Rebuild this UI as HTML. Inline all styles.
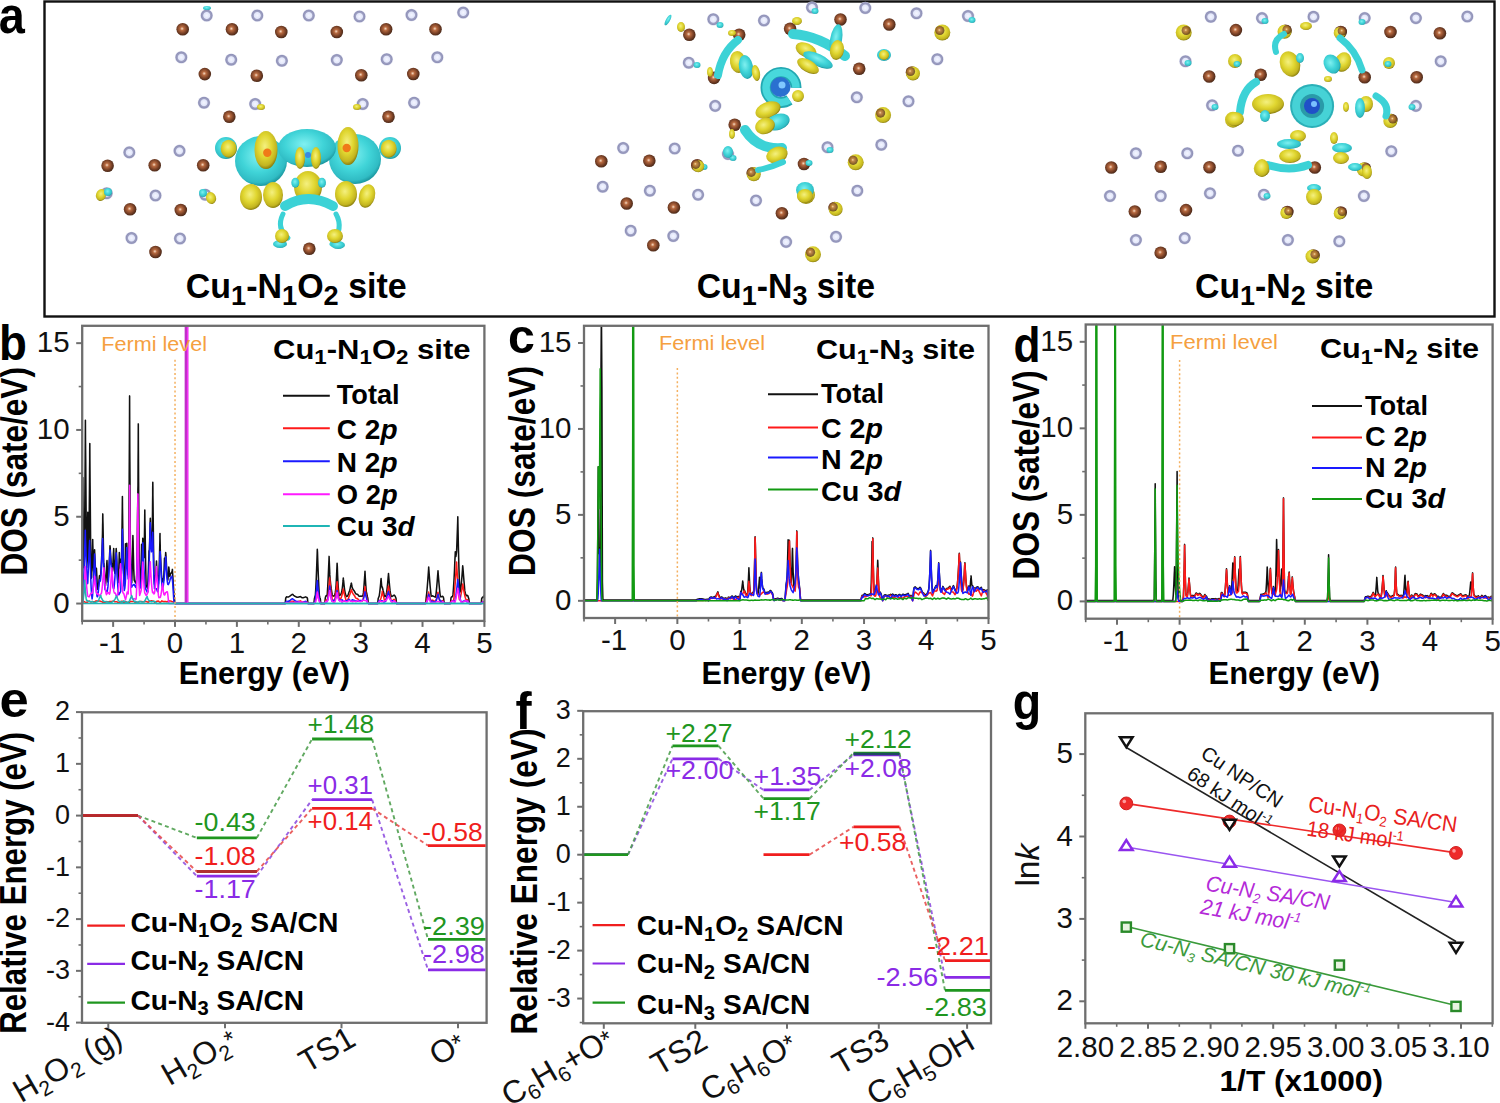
<!DOCTYPE html>
<html><head><meta charset="utf-8"><style>
html,body{margin:0;padding:0;background:#fff;}
svg{display:block;font-family:"Liberation Sans", sans-serif;}
</style></head><body>
<svg width="1500" height="1103" viewBox="0 0 1500 1103">
<rect width="1500" height="1103" fill="#fff"/>
<defs>
<radialGradient id="gBr" cx="0.45" cy="0.45" r="0.6">
 <stop offset="0" stop-color="#f8dcc4"/><stop offset="0.25" stop-color="#b86a40"/>
 <stop offset="0.7" stop-color="#6e3a22"/><stop offset="1" stop-color="#3e2416"/>
</radialGradient>
<radialGradient id="gN" cx="0.5" cy="0.5" r="0.5">
 <stop offset="0" stop-color="#f4f6ff"/><stop offset="0.48" stop-color="#e2e6fa"/>
 <stop offset="0.62" stop-color="#a0a2c4"/><stop offset="0.85" stop-color="#9092b8"/><stop offset="1" stop-color="#d0d2e6"/>
</radialGradient>
<radialGradient id="gY" cx="0.45" cy="0.4" r="0.6">
 <stop offset="0" stop-color="#f4f080"/><stop offset="0.5" stop-color="#e0d630"/>
 <stop offset="0.85" stop-color="#c2b420"/><stop offset="1" stop-color="#8c8010"/>
</radialGradient>
<radialGradient id="gC" cx="0.45" cy="0.4" r="0.6">
 <stop offset="0" stop-color="#80f0f0"/><stop offset="0.55" stop-color="#40d4d8"/>
 <stop offset="0.88" stop-color="#30bcc4"/><stop offset="1" stop-color="#1c98a0"/>
</radialGradient>
<radialGradient id="gCu" cx="0.5" cy="0.5" r="0.5">
 <stop offset="0" stop-color="#58a8ff"/><stop offset="0.35" stop-color="#1f5fd0"/>
 <stop offset="0.5" stop-color="#2a88c8"/><stop offset="0.62" stop-color="#36c8d0"/>
 <stop offset="0.85" stop-color="#3ed4d8"/><stop offset="1" stop-color="#28aab4"/>
</radialGradient>
</defs>
<rect x="44.5" y="1.5" width="1450" height="315" fill="none" stroke="#111" stroke-width="2.4"/>
<text x="0" y="0" font-size="51.09" font-weight="bold" fill="#000" transform="translate(-1.36 33.49) scale(0.918 1)">a</text>
<text x="185.80" y="297.50" font-size="35.5" fill="#000" font-weight="bold" textLength="220.90" lengthAdjust="spacingAndGlyphs" ><tspan>Cu</tspan><tspan font-size="28.40" dy="7.46">1</tspan><tspan dy="-7.46">-N</tspan><tspan font-size="28.40" dy="7.46">1</tspan><tspan dy="-7.46">O</tspan><tspan font-size="28.40" dy="7.46">2</tspan><tspan dy="-7.46"> site</tspan></text>
<text x="696.70" y="297.50" font-size="35.5" fill="#000" font-weight="bold" textLength="178.30" lengthAdjust="spacingAndGlyphs" ><tspan>Cu</tspan><tspan font-size="28.40" dy="7.46">1</tspan><tspan dy="-7.46">-N</tspan><tspan font-size="28.40" dy="7.46">3</tspan><tspan dy="-7.46"> site</tspan></text>
<text x="1195.00" y="297.50" font-size="35.5" fill="#000" font-weight="bold" textLength="178.30" lengthAdjust="spacingAndGlyphs" ><tspan>Cu</tspan><tspan font-size="28.40" dy="7.46">1</tspan><tspan dy="-7.46">-N</tspan><tspan font-size="28.40" dy="7.46">2</tspan><tspan dy="-7.46"> site</tspan></text>
<circle cx="206.7" cy="15.5" r="6.3" fill="url(#gN)"/>
<circle cx="257.3" cy="15.5" r="6.3" fill="url(#gN)"/>
<circle cx="308.8" cy="15.5" r="6.3" fill="url(#gN)"/>
<circle cx="359.5" cy="16.5" r="6.3" fill="url(#gN)"/>
<circle cx="411.5" cy="15.0" r="6.3" fill="url(#gN)"/>
<circle cx="463.2" cy="12.5" r="6.3" fill="url(#gN)"/>
<circle cx="181.3" cy="57.3" r="6.3" fill="url(#gN)"/>
<circle cx="231.2" cy="59.7" r="6.3" fill="url(#gN)"/>
<circle cx="281.9" cy="60.8" r="6.3" fill="url(#gN)"/>
<circle cx="336.8" cy="60.0" r="6.3" fill="url(#gN)"/>
<circle cx="386.7" cy="59.2" r="6.3" fill="url(#gN)"/>
<circle cx="437.3" cy="57.3" r="6.3" fill="url(#gN)"/>
<circle cx="204.0" cy="102.7" r="6.3" fill="url(#gN)"/>
<circle cx="255.2" cy="104.0" r="6.3" fill="url(#gN)"/>
<circle cx="362.7" cy="104.0" r="6.3" fill="url(#gN)"/>
<circle cx="414.1" cy="102.7" r="6.3" fill="url(#gN)"/>
<circle cx="129.3" cy="152.4" r="6.3" fill="url(#gN)"/>
<circle cx="179.5" cy="150.9" r="6.3" fill="url(#gN)"/>
<circle cx="106.7" cy="193.3" r="6.3" fill="url(#gN)"/>
<circle cx="155.5" cy="195.5" r="6.3" fill="url(#gN)"/>
<circle cx="205.3" cy="194.7" r="6.3" fill="url(#gN)"/>
<circle cx="131.5" cy="238.0" r="6.3" fill="url(#gN)"/>
<circle cx="180.0" cy="238.5" r="6.3" fill="url(#gN)"/>
<circle cx="182.7" cy="29.3" r="6.3" fill="url(#gBr)"/>
<circle cx="232.0" cy="29.3" r="6.3" fill="url(#gBr)"/>
<circle cx="281.3" cy="32.0" r="6.3" fill="url(#gBr)"/>
<circle cx="336.8" cy="32.0" r="6.3" fill="url(#gBr)"/>
<circle cx="386.1" cy="29.3" r="6.3" fill="url(#gBr)"/>
<circle cx="435.5" cy="29.3" r="6.3" fill="url(#gBr)"/>
<circle cx="204.8" cy="74.1" r="6.3" fill="url(#gBr)"/>
<circle cx="256.8" cy="75.7" r="6.3" fill="url(#gBr)"/>
<circle cx="361.3" cy="75.2" r="6.3" fill="url(#gBr)"/>
<circle cx="413.3" cy="74.0" r="6.3" fill="url(#gBr)"/>
<circle cx="229.3" cy="116.8" r="6.3" fill="url(#gBr)"/>
<circle cx="388.5" cy="116.8" r="6.3" fill="url(#gBr)"/>
<circle cx="107.6" cy="165.7" r="6.3" fill="url(#gBr)"/>
<circle cx="154.7" cy="165.3" r="6.3" fill="url(#gBr)"/>
<circle cx="203.2" cy="165.3" r="6.3" fill="url(#gBr)"/>
<circle cx="130.1" cy="209.3" r="6.3" fill="url(#gBr)"/>
<circle cx="180.8" cy="210.0" r="6.3" fill="url(#gBr)"/>
<circle cx="155.5" cy="252.0" r="6.3" fill="url(#gBr)"/>
<circle cx="309.3" cy="248.8" r="6.3" fill="url(#gBr)"/>
<ellipse cx="261.0" cy="107.0" rx="4" ry="3" fill="url(#gY)" opacity="1" transform="rotate(0 261.0 107.0)"/>
<ellipse cx="357.0" cy="107.0" rx="4" ry="3" fill="url(#gY)" opacity="1" transform="rotate(0 357.0 107.0)"/>
<ellipse cx="101.0" cy="195.0" rx="5" ry="6" fill="url(#gY)" opacity="1" transform="rotate(20 101.0 195.0)"/>
<ellipse cx="108.0" cy="192.0" rx="4" ry="4" fill="url(#gC)" opacity="1" transform="rotate(0 108.0 192.0)"/>
<ellipse cx="211.0" cy="198.0" rx="5" ry="6" fill="url(#gY)" opacity="1" transform="rotate(-20 211.0 198.0)"/>
<ellipse cx="203.0" cy="193.0" rx="4" ry="4" fill="url(#gC)" opacity="1" transform="rotate(0 203.0 193.0)"/>
<ellipse cx="207.0" cy="8.0" rx="4" ry="2" fill="url(#gC)" opacity="1" transform="rotate(0 207.0 8.0)"/>
<ellipse cx="226.0" cy="148.0" rx="11" ry="11" fill="url(#gC)" opacity="1" transform="rotate(0 226.0 148.0)"/>
<ellipse cx="390.0" cy="148.0" rx="11" ry="11" fill="url(#gC)" opacity="1" transform="rotate(0 390.0 148.0)"/>
<ellipse cx="261.0" cy="161.0" rx="26" ry="25" fill="url(#gC)" opacity="1" transform="rotate(0 261.0 161.0)"/>
<ellipse cx="355.0" cy="159.0" rx="26" ry="25" fill="url(#gC)" opacity="1" transform="rotate(0 355.0 159.0)"/>
<ellipse cx="307.0" cy="148.0" rx="29" ry="19" fill="url(#gC)" opacity="1" transform="rotate(0 307.0 148.0)"/>
<ellipse cx="228.7" cy="148.7" rx="8" ry="9" fill="url(#gY)" opacity="1" transform="rotate(0 228.7 148.7)"/>
<ellipse cx="388.7" cy="148.7" rx="8" ry="9" fill="url(#gY)" opacity="1" transform="rotate(0 388.7 148.7)"/>
<ellipse cx="266.0" cy="150.0" rx="11.5" ry="19" fill="url(#gY)" opacity="1" transform="rotate(0 266.0 150.0)"/>
<ellipse cx="348.0" cy="146.0" rx="10.5" ry="19" fill="url(#gY)" opacity="1" transform="rotate(0 348.0 146.0)"/>
<circle cx="267.3" cy="152.7" r="4.2" fill="#f07a18"/>
<circle cx="346.7" cy="148" r="4.2" fill="#f07a18"/>
<ellipse cx="251.0" cy="197.0" rx="11" ry="13" fill="url(#gY)" opacity="1" transform="rotate(0 251.0 197.0)"/>
<ellipse cx="273.0" cy="195.0" rx="10" ry="13" fill="url(#gY)" opacity="1" transform="rotate(0 273.0 195.0)"/>
<ellipse cx="346.0" cy="194.0" rx="11" ry="13" fill="url(#gY)" opacity="1" transform="rotate(0 346.0 194.0)"/>
<ellipse cx="367.0" cy="196.0" rx="8" ry="12" fill="url(#gY)" opacity="1" transform="rotate(15 367.0 196.0)"/>
<ellipse cx="308.0" cy="187.0" rx="14" ry="16" fill="url(#gY)" opacity="1" transform="rotate(0 308.0 187.0)"/>
<ellipse cx="300.0" cy="158.0" rx="5" ry="11" fill="url(#gY)" opacity="1" transform="rotate(0 300.0 158.0)"/>
<ellipse cx="316.0" cy="158.0" rx="5" ry="11" fill="url(#gY)" opacity="1" transform="rotate(0 316.0 158.0)"/>
<circle cx="308" cy="155" r="3" fill="#3a8ae0"/>
<ellipse cx="295.3" cy="182.7" rx="4" ry="5" fill="url(#gC)" opacity="1" transform="rotate(0 295.3 182.7)"/>
<ellipse cx="322.0" cy="182.7" rx="4" ry="5" fill="url(#gC)" opacity="1" transform="rotate(0 322.0 182.7)"/>
<path d="M 285 206 Q 308 192 333 206" fill="none" stroke="#3cd2d6" stroke-width="10" stroke-linecap="round"/>
<path d="M 283 214 Q 276 228 288 238" fill="none" stroke="#3cd2d6" stroke-width="5" stroke-linecap="round"/>
<path d="M 336 214 Q 344 228 332 244" fill="none" stroke="#3cd2d6" stroke-width="5" stroke-linecap="round"/>
<ellipse cx="280.0" cy="244.0" rx="7" ry="4" fill="url(#gC)" opacity="1" transform="rotate(0 280.0 244.0)"/>
<ellipse cx="338.0" cy="245.0" rx="7" ry="4" fill="url(#gC)" opacity="1" transform="rotate(0 338.0 245.0)"/>
<ellipse cx="282.0" cy="236.0" rx="7" ry="7" fill="url(#gY)" opacity="1" transform="rotate(0 282.0 236.0)"/>
<ellipse cx="335.0" cy="236.0" rx="8" ry="7" fill="url(#gY)" opacity="1" transform="rotate(0 335.0 236.0)"/>
<circle cx="812.0" cy="7.5" r="6.3" fill="url(#gN)"/>
<circle cx="865.3" cy="8.0" r="6.3" fill="url(#gN)"/>
<circle cx="916.5" cy="13.3" r="6.3" fill="url(#gN)"/>
<circle cx="968.0" cy="16.0" r="6.3" fill="url(#gN)"/>
<circle cx="713.3" cy="19.2" r="6.3" fill="url(#gN)"/>
<circle cx="764.0" cy="20.5" r="6.3" fill="url(#gN)"/>
<circle cx="688.8" cy="62.7" r="6.3" fill="url(#gN)"/>
<circle cx="937.3" cy="59.2" r="6.3" fill="url(#gN)"/>
<circle cx="715.2" cy="105.9" r="6.3" fill="url(#gN)"/>
<circle cx="856.8" cy="97.3" r="6.3" fill="url(#gN)"/>
<circle cx="908.5" cy="101.3" r="6.3" fill="url(#gN)"/>
<circle cx="623.2" cy="148.0" r="6.3" fill="url(#gN)"/>
<circle cx="674.7" cy="148.5" r="6.3" fill="url(#gN)"/>
<circle cx="728.0" cy="154.0" r="6.3" fill="url(#gN)"/>
<circle cx="827.5" cy="147.2" r="6.3" fill="url(#gN)"/>
<circle cx="881.3" cy="144.8" r="6.3" fill="url(#gN)"/>
<circle cx="602.7" cy="186.7" r="6.3" fill="url(#gN)"/>
<circle cx="649.9" cy="190.7" r="6.3" fill="url(#gN)"/>
<circle cx="698.1" cy="194.7" r="6.3" fill="url(#gN)"/>
<circle cx="756.0" cy="200.5" r="6.3" fill="url(#gN)"/>
<circle cx="857.3" cy="190.7" r="6.3" fill="url(#gN)"/>
<circle cx="630.7" cy="230.7" r="6.3" fill="url(#gN)"/>
<circle cx="673.3" cy="236.0" r="6.3" fill="url(#gN)"/>
<circle cx="786.1" cy="241.9" r="6.3" fill="url(#gN)"/>
<circle cx="836.0" cy="236.8" r="6.3" fill="url(#gN)"/>
<circle cx="689.3" cy="34.7" r="6.3" fill="url(#gBr)"/>
<circle cx="739.2" cy="34.7" r="6.3" fill="url(#gBr)"/>
<circle cx="790.1" cy="28.8" r="6.3" fill="url(#gBr)"/>
<circle cx="840.5" cy="19.5" r="6.3" fill="url(#gBr)"/>
<circle cx="889.3" cy="24.5" r="6.3" fill="url(#gBr)"/>
<circle cx="941.3" cy="31.5" r="6.3" fill="url(#gBr)"/>
<circle cx="714.1" cy="77.9" r="6.3" fill="url(#gBr)"/>
<circle cx="859.2" cy="68.8" r="6.3" fill="url(#gBr)"/>
<circle cx="912.0" cy="72.5" r="6.3" fill="url(#gBr)"/>
<circle cx="734.7" cy="124.8" r="6.3" fill="url(#gBr)"/>
<circle cx="882.1" cy="114.1" r="6.3" fill="url(#gBr)"/>
<circle cx="601.3" cy="161.3" r="6.3" fill="url(#gBr)"/>
<circle cx="649.3" cy="160.8" r="6.3" fill="url(#gBr)"/>
<circle cx="697.3" cy="165.3" r="6.3" fill="url(#gBr)"/>
<circle cx="752.8" cy="173.3" r="6.3" fill="url(#gBr)"/>
<circle cx="804.0" cy="164.0" r="6.3" fill="url(#gBr)"/>
<circle cx="854.7" cy="161.3" r="6.3" fill="url(#gBr)"/>
<circle cx="626.7" cy="203.5" r="6.3" fill="url(#gBr)"/>
<circle cx="673.9" cy="207.5" r="6.3" fill="url(#gBr)"/>
<circle cx="781.9" cy="213.3" r="6.3" fill="url(#gBr)"/>
<circle cx="834.7" cy="208.0" r="6.3" fill="url(#gBr)"/>
<circle cx="653.3" cy="245.3" r="6.3" fill="url(#gBr)"/>
<circle cx="812.0" cy="253.3" r="6.3" fill="url(#gBr)"/>
<ellipse cx="815.0" cy="11.0" rx="3.5" ry="3" fill="url(#gC)" opacity="1" transform="rotate(0 815.0 11.0)"/>
<ellipse cx="720.0" cy="25.0" rx="3.5" ry="3" fill="url(#gC)" opacity="1" transform="rotate(0 720.0 25.0)"/>
<ellipse cx="697.0" cy="65.0" rx="3.5" ry="3" fill="url(#gC)" opacity="1" transform="rotate(0 697.0 65.0)"/>
<ellipse cx="972.0" cy="20.0" rx="3.5" ry="3" fill="url(#gC)" opacity="1" transform="rotate(0 972.0 20.0)"/>
<ellipse cx="830.0" cy="150.0" rx="3.5" ry="3" fill="url(#gC)" opacity="1" transform="rotate(0 830.0 150.0)"/>
<ellipse cx="733.0" cy="158.0" rx="3.5" ry="3" fill="url(#gC)" opacity="1" transform="rotate(0 733.0 158.0)"/>
<ellipse cx="704.0" cy="167.0" rx="3.5" ry="3" fill="url(#gC)" opacity="1" transform="rotate(0 704.0 167.0)"/>
<ellipse cx="809.0" cy="163.0" rx="3.5" ry="3" fill="url(#gC)" opacity="1" transform="rotate(0 809.0 163.0)"/>
<ellipse cx="858.0" cy="159.0" rx="3.5" ry="3" fill="url(#gC)" opacity="1" transform="rotate(0 858.0 159.0)"/>
<ellipse cx="942.3" cy="32.5" rx="8" ry="8" fill="url(#gY)" opacity="1" transform="rotate(0 942.3 32.5)"/>
<circle cx="939.8" cy="30.5" r="4.6" fill="url(#gBr)" opacity="0.75"/>
<ellipse cx="913.0" cy="73.5" rx="7" ry="7" fill="url(#gY)" opacity="1" transform="rotate(0 913.0 73.5)"/>
<circle cx="910.5" cy="71.5" r="4.6" fill="url(#gBr)" opacity="0.75"/>
<ellipse cx="883.1" cy="115.1" rx="8" ry="8" fill="url(#gY)" opacity="1" transform="rotate(0 883.1 115.1)"/>
<circle cx="880.6" cy="113.1" r="4.6" fill="url(#gBr)" opacity="0.75"/>
<ellipse cx="698.3" cy="166.3" rx="6" ry="6" fill="url(#gY)" opacity="1" transform="rotate(0 698.3 166.3)"/>
<circle cx="695.8" cy="164.3" r="4.6" fill="url(#gBr)" opacity="0.75"/>
<ellipse cx="753.8" cy="174.3" rx="7" ry="7" fill="url(#gY)" opacity="1" transform="rotate(0 753.8 174.3)"/>
<circle cx="751.3" cy="172.3" r="4.6" fill="url(#gBr)" opacity="0.75"/>
<ellipse cx="855.7" cy="162.3" rx="8" ry="8" fill="url(#gY)" opacity="1" transform="rotate(0 855.7 162.3)"/>
<circle cx="853.2" cy="160.3" r="4.6" fill="url(#gBr)" opacity="0.75"/>
<ellipse cx="835.7" cy="209.0" rx="7" ry="7" fill="url(#gY)" opacity="1" transform="rotate(0 835.7 209.0)"/>
<circle cx="833.2" cy="207.0" r="4.6" fill="url(#gBr)" opacity="0.75"/>
<ellipse cx="813.0" cy="254.3" rx="8" ry="8" fill="url(#gY)" opacity="1" transform="rotate(0 813.0 254.3)"/>
<circle cx="810.5" cy="252.3" r="4.6" fill="url(#gBr)" opacity="0.75"/>
<ellipse cx="806.0" cy="195.0" rx="9" ry="9" fill="url(#gY)" opacity="1" transform="rotate(0 806.0 195.0)"/>
<circle cx="803.5" cy="193.0" r="4.6" fill="url(#gBr)" opacity="0.75"/>
<ellipse cx="884.0" cy="55.0" rx="7" ry="6" fill="url(#gC)" opacity="1" transform="rotate(0 884.0 55.0)"/>
<ellipse cx="884.0" cy="55.0" rx="5" ry="5" fill="url(#gY)" opacity="1" transform="rotate(0 884.0 55.0)"/>
<ellipse cx="805.0" cy="190.0" rx="9" ry="8" fill="url(#gC)" opacity="1" transform="rotate(0 805.0 190.0)"/>
<ellipse cx="805.0" cy="196.0" rx="8" ry="7" fill="url(#gY)" opacity="1" transform="rotate(0 805.0 196.0)"/>
<ellipse cx="681.0" cy="27.0" rx="4" ry="5" fill="url(#gY)" opacity="1" transform="rotate(0 681.0 27.0)"/>
<ellipse cx="732.0" cy="33.0" rx="4" ry="3" fill="url(#gY)" opacity="1" transform="rotate(0 732.0 33.0)"/>
<ellipse cx="797.0" cy="21.0" rx="5" ry="4" fill="url(#gY)" opacity="1" transform="rotate(0 797.0 21.0)"/>
<ellipse cx="710.0" cy="72.0" rx="3" ry="5" fill="url(#gY)" opacity="1" transform="rotate(0 710.0 72.0)"/>
<ellipse cx="668.0" cy="20.0" rx="2" ry="6" fill="url(#gC)" opacity="1" transform="rotate(30 668.0 20.0)"/>
<circle cx="781" cy="87.5" r="15" fill="none" stroke="#22a8b2" stroke-width="11" stroke-dasharray="80 14.2" stroke-dashoffset="-14.5"/>
<circle cx="781" cy="87.5" r="15" fill="none" stroke="#48d8dc" stroke-width="7.5" stroke-dasharray="80 14.2" stroke-dashoffset="-14.5"/>
<circle cx="780.5" cy="87" r="10" fill="#2a70d0"/>
<circle cx="782" cy="85" r="3.5" fill="#80c8ff"/>
<path d="M 793 34 Q 820 36 845 56" fill="none" stroke="#3cd2d6" stroke-width="10" stroke-linecap="round"/>
<ellipse cx="806.0" cy="50.0" rx="11" ry="7" fill="url(#gY)" opacity="1" transform="rotate(25 806.0 50.0)"/>
<ellipse cx="818.0" cy="60.0" rx="16" ry="6" fill="url(#gC)" opacity="1" transform="rotate(25 818.0 60.0)"/>
<ellipse cx="808.0" cy="66.0" rx="12" ry="6" fill="url(#gY)" opacity="1" transform="rotate(30 808.0 66.0)"/>
<path d="M 718 75 Q 722 52 738 40" fill="none" stroke="#3cd2d6" stroke-width="8" stroke-linecap="round"/>
<ellipse cx="738.0" cy="62.0" rx="8" ry="11" fill="url(#gY)" opacity="1" transform="rotate(-10 738.0 62.0)"/>
<ellipse cx="746.0" cy="67.0" rx="7" ry="12" fill="url(#gC)" opacity="1" transform="rotate(-10 746.0 67.0)"/>
<ellipse cx="756.0" cy="73.0" rx="4" ry="8" fill="url(#gY)" opacity="1" transform="rotate(-10 756.0 73.0)"/>
<ellipse cx="836.0" cy="40.0" rx="6" ry="16" fill="url(#gC)" opacity="1" transform="rotate(10 836.0 40.0)"/>
<ellipse cx="837.0" cy="50.0" rx="7" ry="10" fill="url(#gY)" opacity="1" transform="rotate(10 837.0 50.0)"/>
<ellipse cx="798.0" cy="96.0" rx="6" ry="6" fill="url(#gY)" opacity="1" transform="rotate(0 798.0 96.0)"/>
<ellipse cx="768.0" cy="110.0" rx="13" ry="8" fill="url(#gY)" opacity="1" transform="rotate(-20 768.0 110.0)"/>
<ellipse cx="778.0" cy="122.0" rx="12" ry="8" fill="url(#gC)" opacity="1" transform="rotate(-20 778.0 122.0)"/>
<ellipse cx="765.0" cy="126.0" rx="10" ry="8" fill="url(#gY)" opacity="1" transform="rotate(-20 765.0 126.0)"/>
<path d="M 745 130 Q 758 150 782 148" fill="none" stroke="#3cd2d6" stroke-width="10" stroke-linecap="round"/>
<ellipse cx="777.0" cy="155.0" rx="11" ry="8" fill="url(#gY)" opacity="1" transform="rotate(-20 777.0 155.0)"/>
<path d="M 758 170 Q 770 168 783 162" fill="none" stroke="#3cd2d6" stroke-width="6" stroke-linecap="round"/>
<ellipse cx="732.0" cy="134.0" rx="3" ry="5" fill="url(#gY)" opacity="1" transform="rotate(0 732.0 134.0)"/>
<ellipse cx="728.0" cy="152.0" rx="5" ry="6" fill="url(#gC)" opacity="1" transform="rotate(0 728.0 152.0)"/>
<circle cx="1210.8" cy="16.8" r="6.3" fill="url(#gN)"/>
<circle cx="1262.0" cy="18.1" r="6.3" fill="url(#gN)"/>
<circle cx="1313.5" cy="16.8" r="6.3" fill="url(#gN)"/>
<circle cx="1364.7" cy="18.1" r="6.3" fill="url(#gN)"/>
<circle cx="1415.9" cy="18.1" r="6.3" fill="url(#gN)"/>
<circle cx="1467.3" cy="16.5" r="6.3" fill="url(#gN)"/>
<circle cx="1185.5" cy="61.3" r="6.3" fill="url(#gN)"/>
<circle cx="1440.7" cy="61.3" r="6.3" fill="url(#gN)"/>
<circle cx="1212.1" cy="105.3" r="6.3" fill="url(#gN)"/>
<circle cx="1415.9" cy="105.9" r="6.3" fill="url(#gN)"/>
<circle cx="1135.9" cy="153.3" r="6.3" fill="url(#gN)"/>
<circle cx="1187.3" cy="153.3" r="6.3" fill="url(#gN)"/>
<circle cx="1238.0" cy="150.7" r="6.3" fill="url(#gN)"/>
<circle cx="1391.3" cy="151.2" r="6.3" fill="url(#gN)"/>
<circle cx="1110.0" cy="196.0" r="6.3" fill="url(#gN)"/>
<circle cx="1160.7" cy="196.0" r="6.3" fill="url(#gN)"/>
<circle cx="1210.0" cy="193.3" r="6.3" fill="url(#gN)"/>
<circle cx="1263.9" cy="194.7" r="6.3" fill="url(#gN)"/>
<circle cx="1363.9" cy="196.0" r="6.3" fill="url(#gN)"/>
<circle cx="1135.9" cy="240.0" r="6.3" fill="url(#gN)"/>
<circle cx="1184.7" cy="238.1" r="6.3" fill="url(#gN)"/>
<circle cx="1287.9" cy="240.0" r="6.3" fill="url(#gN)"/>
<circle cx="1339.3" cy="241.3" r="6.3" fill="url(#gN)"/>
<circle cx="1235.9" cy="30.1" r="6.3" fill="url(#gBr)"/>
<circle cx="1285.5" cy="30.7" r="6.3" fill="url(#gBr)"/>
<circle cx="1340.7" cy="32.0" r="6.3" fill="url(#gBr)"/>
<circle cx="1390.5" cy="32.0" r="6.3" fill="url(#gBr)"/>
<circle cx="1439.9" cy="33.3" r="6.3" fill="url(#gBr)"/>
<circle cx="1209.2" cy="76.5" r="6.3" fill="url(#gBr)"/>
<circle cx="1260.7" cy="74.7" r="6.3" fill="url(#gBr)"/>
<circle cx="1364.7" cy="77.3" r="6.3" fill="url(#gBr)"/>
<circle cx="1416.7" cy="77.3" r="6.3" fill="url(#gBr)"/>
<circle cx="1234.0" cy="118.7" r="6.3" fill="url(#gBr)"/>
<circle cx="1391.3" cy="120.0" r="6.3" fill="url(#gBr)"/>
<circle cx="1111.3" cy="167.5" r="6.3" fill="url(#gBr)"/>
<circle cx="1160.7" cy="166.7" r="6.3" fill="url(#gBr)"/>
<circle cx="1209.5" cy="167.2" r="6.3" fill="url(#gBr)"/>
<circle cx="1262.8" cy="167.5" r="6.3" fill="url(#gBr)"/>
<circle cx="1314.8" cy="167.5" r="6.3" fill="url(#gBr)"/>
<circle cx="1364.7" cy="168.5" r="6.3" fill="url(#gBr)"/>
<circle cx="1134.8" cy="211.5" r="6.3" fill="url(#gBr)"/>
<circle cx="1186.0" cy="210.1" r="6.3" fill="url(#gBr)"/>
<circle cx="1287.3" cy="212.0" r="6.3" fill="url(#gBr)"/>
<circle cx="1340.7" cy="212.5" r="6.3" fill="url(#gBr)"/>
<circle cx="1160.7" cy="252.8" r="6.3" fill="url(#gBr)"/>
<circle cx="1313.5" cy="255.5" r="6.3" fill="url(#gBr)"/>
<ellipse cx="1183.7" cy="32.5" rx="8" ry="8" fill="url(#gY)" opacity="1" transform="rotate(0 1183.7 32.5)"/>
<circle cx="1186.2" cy="30.5" r="4.6" fill="url(#gBr)" opacity="0.75"/>
<ellipse cx="1284.5" cy="31.7" rx="7" ry="7" fill="url(#gY)" opacity="1" transform="rotate(0 1284.5 31.7)"/>
<circle cx="1287.0" cy="29.7" r="4.6" fill="url(#gBr)" opacity="0.75"/>
<ellipse cx="1339.7" cy="33.0" rx="6" ry="6" fill="url(#gY)" opacity="1" transform="rotate(0 1339.7 33.0)"/>
<circle cx="1342.2" cy="31.0" r="4.6" fill="url(#gBr)" opacity="0.75"/>
<ellipse cx="1233.0" cy="119.7" rx="8" ry="8" fill="url(#gY)" opacity="1" transform="rotate(0 1233.0 119.7)"/>
<circle cx="1235.5" cy="117.7" r="4.6" fill="url(#gBr)" opacity="0.75"/>
<ellipse cx="1390.3" cy="121.0" rx="7" ry="7" fill="url(#gY)" opacity="1" transform="rotate(0 1390.3 121.0)"/>
<circle cx="1392.8" cy="119.0" r="4.6" fill="url(#gBr)" opacity="0.75"/>
<ellipse cx="1261.8" cy="168.5" rx="8" ry="8" fill="url(#gY)" opacity="1" transform="rotate(0 1261.8 168.5)"/>
<circle cx="1264.3" cy="166.5" r="4.6" fill="url(#gBr)" opacity="0.75"/>
<ellipse cx="1363.7" cy="169.5" rx="7" ry="7" fill="url(#gY)" opacity="1" transform="rotate(0 1363.7 169.5)"/>
<circle cx="1366.2" cy="167.5" r="4.6" fill="url(#gBr)" opacity="0.75"/>
<ellipse cx="1286.3" cy="213.0" rx="6" ry="6" fill="url(#gY)" opacity="1" transform="rotate(0 1286.3 213.0)"/>
<circle cx="1288.8" cy="211.0" r="4.6" fill="url(#gBr)" opacity="0.75"/>
<ellipse cx="1339.7" cy="213.5" rx="6" ry="6" fill="url(#gY)" opacity="1" transform="rotate(0 1339.7 213.5)"/>
<circle cx="1342.2" cy="211.5" r="4.6" fill="url(#gBr)" opacity="0.75"/>
<ellipse cx="1312.5" cy="256.5" rx="7" ry="7" fill="url(#gY)" opacity="1" transform="rotate(0 1312.5 256.5)"/>
<circle cx="1315.0" cy="254.5" r="4.6" fill="url(#gBr)" opacity="0.75"/>
<ellipse cx="1235.0" cy="61.0" rx="7" ry="7" fill="url(#gY)" opacity="1" transform="rotate(0 1235.0 61.0)"/>
<ellipse cx="1389.0" cy="63.0" rx="6" ry="6" fill="url(#gY)" opacity="1" transform="rotate(0 1389.0 63.0)"/>
<ellipse cx="1265.0" cy="21.0" rx="3.5" ry="3" fill="url(#gC)" opacity="1" transform="rotate(0 1265.0 21.0)"/>
<ellipse cx="1362.0" cy="22.0" rx="3.5" ry="3" fill="url(#gC)" opacity="1" transform="rotate(0 1362.0 22.0)"/>
<ellipse cx="1188.0" cy="63.0" rx="3.5" ry="3" fill="url(#gC)" opacity="1" transform="rotate(0 1188.0 63.0)"/>
<ellipse cx="1215.0" cy="107.0" rx="3.5" ry="3" fill="url(#gC)" opacity="1" transform="rotate(0 1215.0 107.0)"/>
<ellipse cx="1412.0" cy="107.0" rx="3.5" ry="3" fill="url(#gC)" opacity="1" transform="rotate(0 1412.0 107.0)"/>
<ellipse cx="1267.0" cy="196.0" rx="3.5" ry="3" fill="url(#gC)" opacity="1" transform="rotate(0 1267.0 196.0)"/>
<ellipse cx="1237.0" cy="64.0" rx="3.5" ry="3" fill="url(#gC)" opacity="1" transform="rotate(0 1237.0 64.0)"/>
<ellipse cx="1388.0" cy="64.0" rx="3.5" ry="3" fill="url(#gC)" opacity="1" transform="rotate(0 1388.0 64.0)"/>
<circle cx="1312.1" cy="105.9" r="22" fill="#2bb0b8"/>
<circle cx="1312.1" cy="105.9" r="20" fill="#46d2d6"/>
<circle cx="1312.1" cy="105.9" r="12" fill="#2a9aa8"/>
<circle cx="1312" cy="106" r="8" fill="#2050c8"/>
<circle cx="1314" cy="104" r="3" fill="#7ac0ff"/>
<path d="M 1276 52 Q 1272 40 1284 34" fill="none" stroke="#3cd2d6" stroke-width="6" stroke-linecap="round"/>
<ellipse cx="1290.0" cy="64.0" rx="10" ry="13" fill="url(#gY)" opacity="1" transform="rotate(-20 1290.0 64.0)"/>
<ellipse cx="1300.0" cy="58.0" rx="4" ry="5" fill="url(#gC)" opacity="1" transform="rotate(0 1300.0 58.0)"/>
<path d="M 1340 38 Q 1356 50 1362 70" fill="none" stroke="#3cd2d6" stroke-width="7" stroke-linecap="round"/>
<ellipse cx="1343.0" cy="62.0" rx="8" ry="10" fill="url(#gY)" opacity="1" transform="rotate(20 1343.0 62.0)"/>
<ellipse cx="1332.0" cy="64.0" rx="8" ry="10" fill="url(#gC)" opacity="1" transform="rotate(-30 1332.0 64.0)"/>
<ellipse cx="1328.0" cy="79.0" rx="4" ry="3" fill="url(#gY)" opacity="1" transform="rotate(0 1328.0 79.0)"/>
<path d="M 1240 112 Q 1242 90 1256 82" fill="none" stroke="#3cd2d6" stroke-width="8" stroke-linecap="round"/>
<ellipse cx="1268.0" cy="104.0" rx="16" ry="10" fill="url(#gY)" opacity="1" transform="rotate(0 1268.0 104.0)"/>
<ellipse cx="1265.0" cy="116.0" rx="5" ry="6" fill="url(#gC)" opacity="1" transform="rotate(0 1265.0 116.0)"/>
<ellipse cx="1235.0" cy="119.0" rx="9" ry="7" fill="url(#gY)" opacity="1" transform="rotate(0 1235.0 119.0)"/>
<ellipse cx="1346.0" cy="107.0" rx="3" ry="5" fill="url(#gY)" opacity="1" transform="rotate(0 1346.0 107.0)"/>
<ellipse cx="1366.0" cy="104.0" rx="7" ry="8" fill="url(#gY)" opacity="1" transform="rotate(0 1366.0 104.0)"/>
<ellipse cx="1360.0" cy="108.0" rx="5" ry="10" fill="url(#gC)" opacity="1" transform="rotate(0 1360.0 108.0)"/>
<path d="M 1376 96 Q 1390 104 1386 116" fill="none" stroke="#3cd2d6" stroke-width="7" stroke-linecap="round"/>
<ellipse cx="1298.0" cy="136.0" rx="8" ry="6" fill="url(#gY)" opacity="1" transform="rotate(0 1298.0 136.0)"/>
<ellipse cx="1289.0" cy="144.0" rx="12" ry="5" fill="url(#gC)" opacity="1" transform="rotate(0 1289.0 144.0)"/>
<ellipse cx="1290.0" cy="156.0" rx="11" ry="7" fill="url(#gY)" opacity="1" transform="rotate(0 1290.0 156.0)"/>
<path d="M 1268 165 Q 1290 172 1308 165" fill="none" stroke="#3cd2d6" stroke-width="8" stroke-linecap="round"/>
<ellipse cx="1262.0" cy="168.0" rx="7" ry="9" fill="url(#gY)" opacity="1" transform="rotate(0 1262.0 168.0)"/>
<ellipse cx="1334.0" cy="138.0" rx="4" ry="6" fill="url(#gY)" opacity="1" transform="rotate(0 1334.0 138.0)"/>
<ellipse cx="1342.0" cy="148.0" rx="10" ry="5" fill="url(#gC)" opacity="1" transform="rotate(0 1342.0 148.0)"/>
<ellipse cx="1341.0" cy="158.0" rx="8" ry="6" fill="url(#gY)" opacity="1" transform="rotate(0 1341.0 158.0)"/>
<ellipse cx="1355.0" cy="167.0" rx="7" ry="4" fill="url(#gC)" opacity="1" transform="rotate(0 1355.0 167.0)"/>
<ellipse cx="1367.0" cy="172.0" rx="5" ry="7" fill="url(#gY)" opacity="1" transform="rotate(0 1367.0 172.0)"/>
<ellipse cx="1314.0" cy="188.0" rx="7" ry="4" fill="url(#gC)" opacity="1" transform="rotate(0 1314.0 188.0)"/>
<ellipse cx="1314.0" cy="197.0" rx="8" ry="8" fill="url(#gY)" opacity="1" transform="rotate(0 1314.0 197.0)"/>
<ellipse cx="1306.0" cy="26.0" rx="6" ry="4" fill="url(#gY)" opacity="1" transform="rotate(0 1306.0 26.0)"/>
<polyline points="82.2,560.6 82.7,496.5 82.8,477.5 82.9,493.8 83.2,522.8 83.7,567.7 84.2,560.2 84.6,537.6 84.7,523.8 84.8,509.0 85.2,458.4 85.3,439.8 85.4,420.3 85.5,440.0 85.7,458.8 86.2,525.2 86.7,567.5 87.2,561.3 87.6,523.3 87.8,512.2 87.9,523.9 88.1,545.6 88.6,559.5 89.1,531.5 89.5,486.6 89.6,469.9 89.7,461.3 89.7,452.5 89.8,443.6 89.9,460.9 90.1,485.5 90.6,541.7 91.1,578.5 91.6,577.3 92.1,562.2 92.6,543.9 92.7,539.5 92.8,544.6 93.1,554.2 93.6,571.3 94.1,560.9 94.5,552.2 94.6,549.7 94.7,552.8 95.1,561.8 95.6,572.7 96.1,574.7 96.3,570.5 96.4,568.3 96.6,571.2 97.1,581.8 97.5,589.1 98.0,589.1 98.5,585.4 99.0,580.5 99.5,575.7 100.0,577.3 100.5,575.8 100.6,574.6 100.8,573.1 100.9,571.5 101.0,569.7 101.5,560.9 102.0,550.2 102.5,533.1 102.6,525.6 102.7,521.8 102.7,517.9 102.8,513.9 102.9,520.4 103.0,523.6 103.5,551.4 103.7,563.5 103.9,563.4 104.0,565.6 104.5,573.7 105.0,580.4 105.5,585.4 106.0,580.1 106.5,569.6 106.8,563.0 107.0,560.5 107.1,563.6 107.4,572.1 107.9,582.0 108.4,576.4 108.9,568.0 109.4,558.7 109.9,548.5 110.0,545.8 110.2,547.7 110.4,551.6 110.9,558.6 111.4,564.7 111.8,565.0 111.9,563.6 112.0,565.5 112.4,571.1 112.9,563.8 113.4,553.2 113.6,550.5 113.7,548.6 113.8,552.6 113.9,554.6 114.4,569.7 114.9,573.4 115.4,565.5 115.9,556.3 116.1,551.3 116.2,548.6 116.4,551.6 116.9,562.9 117.3,573.0 117.8,581.6 118.3,582.5 118.8,569.4 119.2,557.0 119.3,552.6 119.4,556.7 119.8,568.0 120.3,563.3 120.4,561.4 120.6,559.4 120.7,561.5 120.8,563.6 121.3,570.7 121.8,545.3 122.3,506.8 122.4,496.6 122.5,508.4 122.8,530.7 123.3,561.2 123.8,576.1 124.3,586.0 124.8,577.7 125.3,556.2 125.4,550.0 125.5,543.7 125.6,549.3 125.8,554.6 126.3,556.9 126.6,546.8 126.8,543.3 126.9,546.4 127.2,555.3 127.7,567.1 128.2,574.7 128.7,560.8 129.2,478.0 129.5,424.8 129.6,395.9 129.7,425.2 129.8,453.0 130.0,479.1 130.2,525.9 130.7,564.9 131.2,576.8 131.6,582.2 131.7,582.8 131.8,581.2 132.2,568.2 132.7,547.3 132.8,541.6 132.9,535.6 133.1,541.6 133.2,547.4 133.7,568.3 134.2,580.2 134.7,581.1 135.2,582.1 135.7,583.0 136.2,582.5 136.7,573.7 137.1,552.2 137.6,511.1 137.8,500.6 137.9,489.6 138.0,485.6 138.1,462.0 138.2,449.6 138.3,423.9 138.4,448.0 138.6,481.5 139.1,553.6 139.6,581.4 140.1,583.7 140.6,577.1 141.1,564.2 141.5,549.6 141.6,544.4 141.7,548.7 142.1,558.4 142.6,545.4 142.7,541.9 142.8,538.3 143.0,541.6 143.1,544.8 143.6,556.6 144.1,557.6 144.6,526.4 144.7,518.5 144.8,510.1 144.9,519.8 145.1,529.0 145.6,561.8 146.1,585.5 146.6,586.4 147.0,587.3 147.2,587.6 147.3,587.8 147.5,588.2 148.0,580.6 148.5,567.1 148.9,555.1 149.0,550.8 149.2,555.0 149.5,547.1 150.0,528.4 150.1,523.4 150.3,518.3 150.4,523.0 150.5,527.6 151.0,543.4 151.5,547.5 152.0,545.8 152.5,514.0 152.6,501.7 152.7,495.3 152.7,488.9 152.8,482.2 152.9,488.4 152.9,494.4 153.0,500.4 153.5,544.9 154.0,575.4 154.5,584.3 155.0,583.9 155.5,579.0 156.0,571.1 156.3,564.5 156.5,561.0 156.6,564.0 156.9,570.2 157.4,578.3 157.9,585.3 158.4,583.9 158.9,575.4 159.4,559.6 159.9,539.9 159.9,536.8 160.0,533.6 160.0,537.4 160.1,541.2 160.2,544.8 160.3,550.2 160.4,553.1 160.9,563.8 161.4,573.2 161.9,580.8 162.4,580.9 162.5,580.0 162.6,579.1 162.8,580.5 162.9,581.9 163.4,580.8 163.9,574.2 164.4,561.6 164.5,558.2 164.6,561.6 164.9,565.0 165.4,557.6 165.6,554.3 165.7,552.5 165.9,554.9 166.4,563.8 166.8,571.7 167.3,577.3 167.8,580.1 168.3,575.5 168.7,569.3 168.8,567.1 169.0,568.5 169.3,572.4 169.8,576.5 170.3,574.5 170.8,573.2 171.3,572.7 171.8,572.0 171.9,571.8 172.0,573.0 172.3,570.1 172.4,569.4 172.5,571.7 172.8,576.2 173.3,584.4 173.8,591.4 174.3,597.8 174.8,601.9 175.3,603.5 175.8,603.5 176.3,603.5 176.7,603.5 177.2,603.5 177.7,603.5 178.2,603.5 178.7,603.5 179.2,603.5 179.7,603.5 180.2,603.5 180.7,603.5 181.2,603.5 181.7,603.5 182.2,603.5 182.7,603.5 183.2,603.5 183.7,603.5 184.2,603.5 184.7,603.5 185.2,603.5 185.7,603.5 186.2,603.5 186.6,603.5 187.1,603.5 187.6,603.5 188.1,603.5 188.6,603.5 189.1,603.5 189.6,603.5 190.1,603.5 190.6,603.5 191.1,603.5 191.6,603.5 192.1,603.5 192.6,603.5 193.1,603.5 193.6,603.5 194.1,603.5 194.6,603.5 195.1,603.5 195.6,603.5 196.1,603.5 196.5,603.5 197.0,603.5 197.5,603.5 198.0,603.5 198.5,603.5 199.0,603.5 199.5,603.5 200.0,603.5 200.5,603.5 201.0,603.5 201.5,603.5 202.0,603.5 202.5,603.5 203.0,603.5 203.5,603.5 204.0,603.5 204.5,603.5 205.0,603.5 205.5,603.5 206.0,603.5 206.4,603.5 206.9,603.5 207.4,603.5 207.9,603.5 208.4,603.5 208.9,603.5 209.4,603.5 209.9,603.5 210.4,603.5 210.9,603.5 211.4,603.5 211.9,603.5 212.4,603.5 212.9,603.5 213.4,603.5 213.9,603.5 214.4,603.5 214.9,603.5 215.4,603.5 215.9,603.5 216.3,603.5 216.8,603.5 217.3,603.5 217.8,603.5 218.3,603.5 218.8,603.5 219.3,603.5 219.8,603.5 220.3,603.5 220.8,603.5 221.3,603.5 221.8,603.5 222.3,603.5 222.8,603.5 223.3,603.5 223.8,603.5 224.3,603.5 224.8,603.5 225.3,603.5 225.8,603.5 226.2,603.5 226.7,603.5 227.2,603.5 227.7,603.5 228.2,603.5 228.7,603.5 229.2,603.5 229.7,603.5 230.2,603.5 230.7,603.5 231.2,603.5 231.7,603.5 232.2,603.5 232.7,603.5 233.2,603.5 233.7,603.5 234.2,603.5 234.7,603.5 235.2,603.5 235.7,603.5 236.1,603.5 236.6,603.5 237.1,603.5 237.6,603.5 238.1,603.5 238.6,603.5 239.1,603.5 239.6,603.5 240.1,603.5 240.6,603.5 241.1,603.5 241.6,603.5 242.1,603.5 242.6,603.5 243.1,603.5 243.6,603.5 244.1,603.5 244.6,603.5 245.1,603.5 245.6,603.5 246.1,603.5 246.5,603.5 247.0,603.5 247.5,603.5 248.0,603.5 248.5,603.5 249.0,603.5 249.5,603.5 250.0,603.5 250.5,603.5 251.0,603.5 251.5,603.5 252.0,603.5 252.5,603.5 253.0,603.5 253.5,603.5 254.0,603.5 254.5,603.5 255.0,603.5 255.5,603.5 256.0,603.5 256.4,603.5 256.9,603.5 257.4,603.5 257.9,603.5 258.4,603.5 258.9,603.5 259.4,603.5 259.9,603.5 260.4,603.5 260.9,603.5 261.4,603.5 261.9,603.5 262.4,603.5 262.9,603.5 263.4,603.5 263.9,603.5 264.4,603.5 264.9,603.5 265.4,603.5 265.9,603.5 266.3,603.5 266.8,603.5 267.3,603.5 267.8,603.5 268.3,603.5 268.8,603.5 269.3,603.5 269.8,603.5 270.3,603.5 270.8,603.5 271.3,603.5 271.8,603.5 272.3,603.5 272.8,603.5 273.3,603.5 273.8,603.5 274.3,603.5 274.8,603.5 275.3,603.5 275.8,603.5 276.2,603.5 276.7,603.5 277.2,603.5 277.7,603.5 278.2,603.5 278.7,603.5 279.2,603.5 279.7,603.5 280.2,603.5 280.7,603.5 281.2,603.5 281.7,603.5 282.2,603.5 282.7,603.5 283.2,603.5 283.7,603.5 284.2,603.5 284.7,603.5 285.2,603.5 285.7,598.4 286.1,597.4 286.6,596.8 287.1,596.9 287.6,597.0 288.1,597.1 288.6,596.9 289.1,596.6 289.6,596.3 290.1,595.9 290.6,595.5 291.1,595.2 291.6,594.8 292.1,594.5 292.5,594.4 292.6,594.3 292.7,594.4 293.1,594.8 293.6,595.3 294.1,595.7 294.6,596.0 295.1,596.3 295.6,596.6 296.0,596.8 296.5,597.0 297.0,597.2 297.5,597.3 298.0,597.3 298.5,597.1 299.0,597.0 299.5,596.8 300.0,596.7 300.5,596.6 301.0,597.0 301.5,597.3 302.0,597.7 302.5,597.7 303.0,597.8 303.5,597.7 304.0,597.4 304.5,597.3 305.0,597.1 305.5,596.9 305.9,597.1 306.4,597.3 306.9,597.5 307.4,598.2 307.9,603.3 308.4,603.5 308.9,603.5 309.4,603.5 309.9,603.5 310.4,603.5 310.9,603.5 311.4,603.5 311.9,603.5 312.4,603.5 312.9,603.5 313.4,603.5 313.9,603.5 314.4,598.6 314.9,596.8 315.4,595.0 315.8,588.5 316.3,577.6 316.8,564.2 317.2,553.1 317.3,549.2 317.5,552.6 317.8,562.3 318.3,575.2 318.8,586.1 319.3,595.1 319.8,597.4 320.3,598.8 320.8,603.5 321.3,603.5 321.8,603.5 322.3,603.5 322.8,603.5 323.3,603.5 323.8,603.5 324.3,603.5 324.8,603.5 325.3,597.9 325.7,596.5 326.2,595.6 326.7,595.6 327.2,595.2 327.7,587.4 328.2,577.5 328.7,566.0 329.0,559.7 329.1,556.4 329.2,559.7 329.6,569.1 329.7,572.0 329.8,574.9 330.2,579.9 330.7,584.7 331.2,588.7 331.7,591.6 332.2,594.7 332.7,595.8 333.2,596.1 333.7,595.9 334.2,595.9 334.7,595.4 335.2,592.9 335.6,590.3 336.1,585.1 336.6,575.1 337.0,566.4 337.1,563.3 337.3,566.4 337.6,575.1 338.1,585.3 338.6,591.6 339.1,594.2 339.6,595.5 340.1,595.1 340.6,594.5 341.1,593.6 341.6,592.2 342.1,590.0 342.6,585.6 343.1,580.7 343.2,579.4 343.3,578.0 343.4,579.4 343.6,580.7 344.1,585.6 344.6,589.8 345.1,592.6 345.5,594.1 346.0,595.8 346.5,596.5 347.0,596.3 347.5,596.1 348.0,595.1 348.5,593.7 349.0,592.3 349.5,591.0 350.0,589.1 350.5,586.6 351.0,584.5 351.2,583.5 351.4,583.1 351.5,583.8 352.0,586.5 352.5,588.5 353.0,589.3 353.5,590.0 354.0,590.6 354.5,591.4 355.0,592.4 355.4,593.2 355.9,593.8 356.4,594.1 356.9,594.2 357.4,594.3 357.9,594.7 358.4,595.4 358.9,596.1 359.4,596.3 359.9,596.2 360.4,596.2 360.9,596.1 361.4,596.1 361.9,596.3 362.4,596.1 362.9,595.6 363.4,592.9 363.9,587.2 364.4,580.4 364.9,573.2 365.0,571.3 365.1,573.5 365.3,577.7 365.8,585.5 366.3,591.8 366.8,593.7 367.3,596.4 367.8,598.2 368.3,603.5 368.8,603.5 369.3,603.5 369.8,603.5 370.3,603.5 370.8,603.5 371.3,603.5 371.8,603.5 372.3,603.5 372.8,603.5 373.3,603.5 373.8,603.5 374.3,603.5 374.8,603.5 375.2,603.5 375.7,603.5 376.2,603.5 376.7,603.5 377.2,603.5 377.7,603.5 378.2,598.5 378.7,597.2 379.2,596.0 379.7,592.6 380.2,588.2 380.7,583.0 380.9,580.1 381.1,578.6 381.2,580.2 381.7,586.1 382.2,587.8 382.3,586.9 382.4,587.6 382.7,588.8 383.2,591.0 383.7,592.8 384.2,595.0 384.7,596.5 385.1,596.4 385.6,596.3 386.1,595.0 386.6,592.7 387.1,588.9 387.6,583.8 388.1,578.1 388.4,575.0 388.5,573.5 388.6,575.0 389.1,580.8 389.6,586.2 390.1,590.9 390.6,594.3 391.1,595.8 391.6,596.5 392.1,596.4 392.6,596.1 393.1,595.7 393.6,595.4 394.1,595.0 394.6,595.5 395.0,596.0 395.5,597.0 396.0,598.2 396.5,603.5 397.0,603.5 397.5,603.5 398.0,603.5 398.5,603.5 399.0,603.5 399.5,603.5 400.0,603.5 400.5,603.5 401.0,603.5 401.5,603.5 402.0,603.5 402.5,603.5 403.0,603.5 403.5,603.5 404.0,603.5 404.5,603.5 405.0,603.5 405.4,603.5 405.9,603.5 406.4,603.5 406.9,603.5 407.4,603.5 407.9,603.5 408.4,603.5 408.9,603.5 409.4,603.5 409.9,603.5 410.4,603.5 410.9,603.5 411.4,603.5 411.9,603.5 412.4,603.5 412.9,603.5 413.4,603.5 413.9,603.5 414.4,603.5 414.9,603.5 415.3,603.5 415.8,603.5 416.3,603.5 416.8,603.5 417.3,603.5 417.8,603.5 418.3,603.5 418.8,603.5 419.3,603.5 419.8,603.5 420.3,603.5 420.8,603.5 421.3,603.5 421.8,603.5 422.3,603.5 422.8,603.5 423.3,603.5 423.8,603.5 424.3,603.5 424.8,603.5 425.2,603.5 425.7,603.0 426.2,597.7 426.7,593.5 427.2,587.8 427.7,581.6 428.2,574.7 428.6,569.0 428.7,567.0 428.8,568.9 429.2,574.3 429.7,581.0 430.2,586.8 430.7,592.0 431.2,596.3 431.7,596.1 432.2,595.8 432.7,596.0 433.2,596.2 433.7,596.3 434.2,596.6 434.7,596.8 435.1,597.0 435.6,597.1 436.1,593.3 436.6,588.3 437.1,582.5 437.6,576.0 437.9,572.6 438.0,570.8 438.1,572.5 438.6,578.9 439.1,584.7 439.6,590.1 440.1,594.6 440.6,596.7 441.1,596.7 441.6,596.7 442.1,596.5 442.6,596.3 443.1,596.8 443.6,598.0 444.1,603.2 444.6,603.5 445.0,603.5 445.5,603.5 446.0,603.5 446.5,603.5 447.0,603.5 447.5,603.5 448.0,603.5 448.5,603.5 449.0,603.5 449.5,603.5 450.0,603.5 450.5,603.1 451.0,597.8 451.5,596.9 452.0,596.6 452.5,596.7 453.0,594.4 453.5,587.8 454.0,579.7 454.5,570.4 454.9,560.1 455.2,554.6 455.3,551.8 455.4,553.9 455.9,556.4 456.4,552.9 456.6,550.9 456.7,548.7 456.9,543.5 457.4,529.8 457.7,521.4 457.8,516.8 457.9,523.5 458.4,547.6 458.9,566.7 459.4,581.5 459.9,590.6 460.4,591.8 460.9,587.7 461.4,582.9 461.9,577.3 462.4,570.9 462.6,567.5 462.7,565.8 462.9,567.5 463.4,574.0 463.9,580.2 464.4,585.9 464.8,590.9 465.3,593.2 465.8,594.7 466.3,595.6 466.8,595.6 467.3,595.4 467.8,595.7 468.3,597.2 468.8,598.8 469.3,603.5 469.8,603.5 470.3,603.5 470.8,603.5 471.3,603.5 471.8,603.5 472.3,603.5 472.8,603.5 473.3,603.5 473.8,603.5 474.3,603.5 474.7,603.5 475.2,603.5 475.7,603.5 476.2,603.5 476.7,603.5 477.2,603.5 477.7,603.5 478.2,603.5 478.7,603.5 479.2,603.5 479.7,603.5 480.2,603.5 480.7,603.5 481.2,603.5 481.7,598.7 482.2,597.7 482.7,597.1 483.2,597.4 483.7,596.6 484.2,595.5 484.3,595.2 484.4,594.9" fill="none" stroke="#111111" stroke-width="1.55" stroke-linejoin="round" />
<polyline points="82.2,603.5 82.7,602.6 82.8,602.4 82.9,602.1 83.2,601.7 83.7,601.4 84.2,601.6 84.6,601.8 84.7,601.9 84.8,601.9 85.2,602.1 85.3,602.2 85.4,602.3 85.5,602.4 85.7,602.4 86.2,602.4 86.7,602.3 87.2,602.3 87.6,602.1 87.8,602.0 87.9,601.9 88.1,601.7 88.6,601.4 89.1,601.0 89.5,601.2 89.6,601.3 89.7,601.3 89.7,601.4 89.8,601.4 89.9,601.5 90.1,601.6 90.6,601.9 91.1,601.9 91.6,601.8 92.1,601.7 92.6,601.6 92.7,601.6 92.8,601.7 93.1,601.7 93.6,601.8 94.1,602.0 94.5,601.9 94.6,601.9 94.7,601.8 95.1,601.5 95.6,601.2 96.1,600.9 96.3,601.0 96.4,601.0 96.6,601.0 97.1,601.1 97.5,601.1 98.0,601.2 98.5,601.1 99.0,601.0 99.5,601.0 100.0,601.1 100.5,601.3 100.6,601.3 100.8,601.4 100.9,601.4 101.0,601.4 101.5,601.6 102.0,601.8 102.5,602.0 102.6,602.1 102.7,602.1 102.7,602.1 102.8,602.1 102.9,602.2 103.0,602.2 103.5,602.3 103.7,602.3 103.9,602.3 104.0,602.3 104.5,602.3 105.0,602.3 105.5,602.0 106.0,601.8 106.5,601.6 106.8,601.7 107.0,601.7 107.1,601.7 107.4,601.7 107.9,601.8 108.4,601.8 108.9,601.7 109.4,601.6 109.9,601.5 110.0,601.5 110.2,601.5 110.4,601.5 110.9,601.5 111.4,601.5 111.8,601.4 111.9,601.4 112.0,601.4 112.4,601.3 112.9,601.2 113.4,601.1 113.6,601.2 113.7,601.3 113.8,601.3 113.9,601.3 114.4,601.5 114.9,601.8 115.4,601.8 115.9,601.8 116.1,601.7 116.2,601.7 116.4,601.7 116.9,601.7 117.3,602.0 117.8,602.4 118.3,602.7 118.8,602.8 119.2,602.6 119.3,602.6 119.4,602.5 119.8,602.3 120.3,602.1 120.4,602.0 120.6,601.9 120.7,601.9 120.8,601.8 121.3,601.5 121.8,601.2 122.3,601.3 122.4,601.4 122.5,601.5 122.8,601.7 123.3,602.1 123.8,602.5 124.3,602.3 124.8,602.0 125.3,601.7 125.4,601.7 125.5,601.6 125.6,601.7 125.8,601.7 126.3,602.0 126.6,602.2 126.8,602.3 126.9,602.3 127.2,602.5 127.7,602.5 128.2,602.5 128.7,602.5 129.2,602.3 129.5,602.2 129.6,602.1 129.7,602.0 129.8,601.9 130.0,601.8 130.2,601.7 130.7,601.3 131.2,601.4 131.6,601.4 131.7,601.4 131.8,601.4 132.2,601.4 132.7,601.4 132.8,601.4 132.9,601.5 133.1,601.5 133.2,601.5 133.7,601.6 134.2,601.7 134.7,602.0 135.2,602.3 135.7,602.6 136.2,602.7 136.7,602.5 137.1,602.3 137.6,602.1 137.8,602.1 137.9,602.1 138.0,602.1 138.1,602.1 138.2,602.0 138.3,602.0 138.4,602.0 138.6,602.0 139.1,601.9 139.6,601.8 140.1,601.6 140.6,601.5 141.1,601.4 141.5,601.4 141.6,601.5 141.7,601.5 142.1,601.6 142.6,601.7 142.7,601.7 142.8,601.8 143.0,601.8 143.1,601.7 143.6,601.7 144.1,601.6 144.6,601.6 144.7,601.6 144.8,601.6 144.9,601.6 145.1,601.6 145.6,601.5 146.1,601.5 146.6,601.6 147.0,601.8 147.2,601.9 147.3,601.9 147.5,602.1 148.0,602.3 148.5,602.0 148.9,601.8 149.0,601.8 149.2,601.7 149.5,601.5 150.0,601.3 150.1,601.3 150.3,601.2 150.4,601.2 150.5,601.1 151.0,601.0 151.5,600.8 152.0,600.9 152.5,601.0 152.6,601.0 152.7,601.0 152.7,601.0 152.8,601.0 152.9,601.0 152.9,601.1 153.0,601.1 153.5,601.3 154.0,601.8 154.5,602.2 155.0,602.6 155.5,602.3 156.0,601.9 156.3,601.6 156.5,601.5 156.6,601.5 156.9,601.3 157.4,601.2 157.9,601.1 158.4,601.0 158.9,601.5 159.4,601.9 159.9,602.3 159.9,602.3 160.0,602.4 160.0,602.4 160.1,602.5 160.2,602.5 160.3,602.4 160.4,602.3 160.9,601.8 161.4,601.4 161.9,600.9 162.4,601.1 162.5,601.2 162.6,601.2 162.8,601.3 162.9,601.3 163.4,601.6 163.9,601.7 164.4,601.6 164.5,601.6 164.6,601.6 164.9,601.5 165.4,601.5 165.6,601.6 165.7,601.6 165.9,601.6 166.4,601.7 166.8,601.9 167.3,601.8 167.8,601.5 168.3,601.2 168.7,601.0 168.8,601.0 169.0,601.0 169.3,601.0 169.8,600.9 170.3,600.9 170.8,601.1 171.3,601.3 171.8,601.5 171.9,601.5 172.0,601.6 172.3,601.7 172.4,601.7 172.5,601.7 172.8,601.8 173.3,601.9 173.8,602.1 174.3,602.7 174.8,603.3 175.3,603.5 175.8,603.5 176.3,603.5 176.7,603.5 177.2,603.5 177.7,603.5 178.2,603.5 178.7,603.5 179.2,603.5 179.7,603.5 180.2,603.5 180.7,603.5 181.2,603.5 181.7,603.5 182.2,603.5 182.7,603.5 183.2,603.5 183.7,603.5 184.2,603.5 184.7,603.5 185.2,603.5 185.7,603.5 186.2,603.5 186.6,603.5 187.1,603.5 187.6,603.5 188.1,603.5 188.6,603.5 189.1,603.5 189.6,603.5 190.1,603.5 190.6,603.5 191.1,603.5 191.6,603.5 192.1,603.5 192.6,603.5 193.1,603.5 193.6,603.5 194.1,603.5 194.6,603.5 195.1,603.5 195.6,603.5 196.1,603.5 196.5,603.5 197.0,603.5 197.5,603.5 198.0,603.5 198.5,603.5 199.0,603.5 199.5,603.5 200.0,603.5 200.5,603.5 201.0,603.5 201.5,603.5 202.0,603.5 202.5,603.5 203.0,603.5 203.5,603.5 204.0,603.5 204.5,603.5 205.0,603.5 205.5,603.5 206.0,603.5 206.4,603.5 206.9,603.5 207.4,603.5 207.9,603.5 208.4,603.5 208.9,603.5 209.4,603.5 209.9,603.5 210.4,603.5 210.9,603.5 211.4,603.5 211.9,603.5 212.4,603.5 212.9,603.5 213.4,603.5 213.9,603.5 214.4,603.5 214.9,603.5 215.4,603.5 215.9,603.5 216.3,603.5 216.8,603.5 217.3,603.5 217.8,603.5 218.3,603.5 218.8,603.5 219.3,603.5 219.8,603.5 220.3,603.5 220.8,603.5 221.3,603.5 221.8,603.5 222.3,603.5 222.8,603.5 223.3,603.5 223.8,603.5 224.3,603.5 224.8,603.5 225.3,603.5 225.8,603.5 226.2,603.5 226.7,603.5 227.2,603.5 227.7,603.5 228.2,603.5 228.7,603.5 229.2,603.5 229.7,603.5 230.2,603.5 230.7,603.5 231.2,603.5 231.7,603.5 232.2,603.5 232.7,603.5 233.2,603.5 233.7,603.5 234.2,603.5 234.7,603.5 235.2,603.5 235.7,603.5 236.1,603.5 236.6,603.5 237.1,603.5 237.6,603.5 238.1,603.5 238.6,603.5 239.1,603.5 239.6,603.5 240.1,603.5 240.6,603.5 241.1,603.5 241.6,603.5 242.1,603.5 242.6,603.5 243.1,603.5 243.6,603.5 244.1,603.5 244.6,603.5 245.1,603.5 245.6,603.5 246.1,603.5 246.5,603.5 247.0,603.5 247.5,603.5 248.0,603.5 248.5,603.5 249.0,603.5 249.5,603.5 250.0,603.5 250.5,603.5 251.0,603.5 251.5,603.5 252.0,603.5 252.5,603.5 253.0,603.5 253.5,603.5 254.0,603.5 254.5,603.5 255.0,603.5 255.5,603.5 256.0,603.5 256.4,603.5 256.9,603.5 257.4,603.5 257.9,603.5 258.4,603.5 258.9,603.5 259.4,603.5 259.9,603.5 260.4,603.5 260.9,603.5 261.4,603.5 261.9,603.5 262.4,603.5 262.9,603.5 263.4,603.5 263.9,603.5 264.4,603.5 264.9,603.5 265.4,603.5 265.9,603.5 266.3,603.5 266.8,603.5 267.3,603.5 267.8,603.5 268.3,603.5 268.8,603.5 269.3,603.5 269.8,603.5 270.3,603.5 270.8,603.5 271.3,603.5 271.8,603.5 272.3,603.5 272.8,603.5 273.3,603.5 273.8,603.5 274.3,603.5 274.8,603.5 275.3,603.5 275.8,603.5 276.2,603.5 276.7,603.5 277.2,603.5 277.7,603.5 278.2,603.5 278.7,603.5 279.2,603.5 279.7,603.5 280.2,603.5 280.7,603.5 281.2,603.5 281.7,603.5 282.2,603.5 282.7,603.5 283.2,603.5 283.7,603.5 284.2,603.5 284.7,603.5 285.2,603.5 285.7,603.3 286.1,603.1 286.6,602.9 287.1,602.5 287.6,602.1 288.1,601.7 288.6,601.6 289.1,601.8 289.6,602.1 290.1,602.3 290.6,602.0 291.1,601.6 291.6,601.3 292.1,601.2 292.5,601.3 292.6,601.4 292.7,601.4 293.1,601.5 293.6,601.6 294.1,601.8 294.6,601.9 295.1,602.0 295.6,602.1 296.0,602.0 296.5,602.0 297.0,601.9 297.5,601.7 298.0,601.6 298.5,601.4 299.0,601.3 299.5,601.2 300.0,601.1 300.5,600.9 301.0,601.3 301.5,601.7 302.0,602.0 302.5,602.2 303.0,602.1 303.5,602.1 304.0,602.0 304.5,602.0 305.0,601.9 305.5,601.8 305.9,601.8 306.4,601.7 306.9,601.8 307.4,602.5 307.9,603.4 308.4,603.5 308.9,603.5 309.4,603.5 309.9,603.5 310.4,603.5 310.9,603.5 311.4,603.5 311.9,603.5 312.4,603.5 312.9,603.5 313.4,603.5 313.9,603.5 314.4,603.0 314.9,601.1 315.4,599.8 315.8,599.2 316.3,597.2 316.8,594.0 317.2,591.1 317.3,590.1 317.5,591.2 317.8,594.0 318.3,597.1 318.8,599.4 319.3,600.5 319.8,601.7 320.3,603.1 320.8,603.5 321.3,603.5 321.8,603.5 322.3,603.5 322.8,603.5 323.3,603.5 323.8,603.5 324.3,603.5 324.8,603.5 325.3,602.2 325.7,600.8 326.2,600.0 326.7,599.9 327.2,600.0 327.7,598.0 328.2,594.4 328.7,589.8 329.0,587.1 329.1,585.8 329.2,584.3 329.6,579.7 329.7,578.1 329.8,579.8 330.2,584.2 330.7,589.1 331.2,593.1 331.7,596.0 332.2,599.0 332.7,600.1 333.2,601.2 333.7,601.3 334.2,600.5 334.7,599.8 335.2,597.3 335.6,594.7 336.1,591.1 336.6,586.8 337.0,583.1 337.1,581.7 337.3,583.1 337.6,587.1 338.1,591.9 338.6,595.9 339.1,598.6 339.6,599.8 340.1,599.4 340.6,598.9 341.1,597.9 341.6,596.5 342.1,594.8 342.6,592.6 343.1,590.2 343.2,589.6 343.3,588.9 343.4,589.7 343.6,590.5 344.1,593.1 344.6,595.2 345.1,597.0 345.5,598.4 346.0,600.2 346.5,601.1 347.0,601.2 347.5,600.6 348.0,599.4 348.5,598.1 349.0,596.6 349.5,595.3 350.0,593.9 350.5,592.3 351.0,590.8 351.2,590.0 351.4,589.6 351.5,590.0 352.0,591.5 352.5,592.9 353.0,593.7 353.5,594.4 354.0,595.0 354.5,595.7 355.0,596.7 355.4,597.5 355.9,598.1 356.4,598.4 356.9,598.5 357.4,598.6 357.9,599.0 358.4,599.7 358.9,600.4 359.4,601.1 359.9,601.1 360.4,601.0 360.9,600.9 361.4,600.9 361.9,600.8 362.4,600.8 362.9,599.9 363.4,597.8 363.9,595.0 364.4,591.6 364.9,587.7 365.0,586.6 365.1,587.7 365.3,589.6 365.8,593.2 366.3,596.2 366.8,598.0 367.3,600.8 367.8,602.5 368.3,603.5 368.8,603.5 369.3,603.5 369.8,603.5 370.3,603.5 370.8,603.5 371.3,603.5 371.8,603.5 372.3,603.5 372.8,603.5 373.3,603.5 373.8,603.5 374.3,603.5 374.8,603.5 375.2,603.5 375.7,603.5 376.2,603.5 376.7,603.5 377.2,603.5 377.7,603.5 378.2,603.3 378.7,602.7 379.2,601.7 379.7,601.2 380.2,600.2 380.7,599.0 380.9,598.2 381.1,597.7 381.2,597.3 381.7,595.1 382.2,592.1 382.3,591.2 382.4,591.9 382.7,593.1 383.2,595.3 383.7,597.1 384.2,599.3 384.7,600.9 385.1,601.3 385.6,601.0 386.1,599.3 386.6,597.0 387.1,594.4 387.6,591.6 388.1,588.6 388.4,587.0 388.5,586.1 388.6,586.9 389.1,590.2 389.6,593.3 390.1,596.2 390.6,598.6 391.1,600.1 391.6,600.8 392.1,600.7 392.6,600.4 393.1,600.1 393.6,599.7 394.1,599.3 394.6,599.8 395.0,600.3 395.5,601.3 396.0,602.6 396.5,603.5 397.0,603.5 397.5,603.5 398.0,603.5 398.5,603.5 399.0,603.5 399.5,603.5 400.0,603.5 400.5,603.5 401.0,603.5 401.5,603.5 402.0,603.5 402.5,603.5 403.0,603.5 403.5,603.5 404.0,603.5 404.5,603.5 405.0,603.5 405.4,603.5 405.9,603.5 406.4,603.5 406.9,603.5 407.4,603.5 407.9,603.5 408.4,603.5 408.9,603.5 409.4,603.5 409.9,603.5 410.4,603.5 410.9,603.5 411.4,603.5 411.9,603.5 412.4,603.5 412.9,603.5 413.4,603.5 413.9,603.5 414.4,603.5 414.9,603.5 415.3,603.5 415.8,603.5 416.3,603.5 416.8,603.5 417.3,603.5 417.8,603.5 418.3,603.5 418.8,603.5 419.3,603.5 419.8,603.5 420.3,603.5 420.8,603.5 421.3,603.5 421.8,603.5 422.3,603.5 422.8,603.5 423.3,603.5 423.8,603.5 424.3,603.5 424.8,603.5 425.2,603.5 425.7,603.3 426.2,602.0 426.7,599.7 427.2,598.0 427.7,596.3 428.2,594.4 428.6,592.7 428.7,592.1 428.8,592.8 429.2,594.7 429.7,597.0 430.2,599.0 430.7,600.3 431.2,600.7 431.7,600.4 432.2,600.1 432.7,600.3 433.2,600.5 433.7,600.7 434.2,600.9 434.7,601.1 435.1,601.3 435.6,601.5 436.1,600.1 436.6,598.2 437.1,595.9 437.6,593.8 437.9,592.8 438.0,592.3 438.1,593.1 438.6,596.1 439.1,598.7 439.6,600.2 440.1,601.3 440.6,601.5 441.1,601.3 441.6,601.1 442.1,600.9 442.6,600.6 443.1,601.1 443.6,602.3 444.1,603.3 444.6,603.5 445.0,603.5 445.5,603.5 446.0,603.5 446.5,603.5 447.0,603.5 447.5,603.5 448.0,603.5 448.5,603.5 449.0,603.5 449.5,603.5 450.0,603.5 450.5,603.2 451.0,602.1 451.5,601.2 452.0,601.0 452.5,601.0 453.0,601.1 453.5,600.6 454.0,597.5 454.5,592.3 454.9,586.4 455.2,583.4 455.3,581.7 455.4,580.1 455.9,572.7 456.4,564.5 456.6,562.0 456.7,564.2 456.9,568.4 457.4,576.3 457.7,579.9 457.8,581.6 457.9,583.3 458.4,589.9 458.9,595.8 459.4,599.7 459.9,599.7 460.4,597.6 460.9,595.1 461.4,592.3 461.9,589.4 462.4,586.4 462.6,584.9 462.7,584.0 462.9,584.9 463.4,588.4 463.9,591.1 464.4,593.5 464.8,595.6 465.3,597.5 465.8,599.0 466.3,600.0 466.8,599.9 467.3,599.8 467.8,600.0 468.3,601.5 468.8,603.1 469.3,603.5 469.8,603.5 470.3,603.5 470.8,603.5 471.3,603.5 471.8,603.5 472.3,603.5 472.8,603.5 473.3,603.5 473.8,603.5 474.3,603.5 474.7,603.5 475.2,603.5 475.7,603.5 476.2,603.5 476.7,603.5 477.2,603.5 477.7,603.5 478.2,603.5 478.7,603.5 479.2,603.5 479.7,603.5 480.2,603.5 480.7,603.5 481.2,603.5 481.7,603.0 482.2,602.1 482.7,601.4 483.2,601.7 483.7,602.6 484.2,603.3 484.3,603.4 484.4,603.5" fill="none" stroke="#ff1a1a" stroke-width="1.55" stroke-linejoin="round" />
<polyline points="82.2,603.5 82.7,599.3 82.8,598.0 82.9,596.0 83.2,590.3 83.7,577.2 84.2,564.6 84.6,554.3 84.7,550.6 84.8,546.8 85.2,534.6 85.3,530.3 85.4,535.0 85.5,539.5 85.7,544.0 86.2,559.1 86.7,571.9 87.2,581.9 87.6,583.6 87.8,582.3 87.9,580.1 88.1,575.2 88.6,563.8 89.1,550.5 89.5,543.3 89.6,540.6 89.7,543.0 89.7,545.2 89.8,547.5 89.9,551.9 90.1,558.4 90.6,574.5 91.1,586.8 91.6,594.7 92.1,598.9 92.6,595.5 92.7,593.6 92.8,591.5 93.1,587.1 93.6,576.9 94.1,565.3 94.5,556.5 94.6,554.0 94.7,557.2 95.1,566.2 95.6,577.0 96.1,586.4 96.3,589.9 96.4,591.5 96.6,592.9 97.1,596.6 97.5,596.8 98.0,594.6 98.5,589.7 99.0,584.9 99.5,580.0 100.0,581.6 100.5,580.2 100.6,578.9 100.8,577.5 100.9,575.8 101.0,574.0 101.5,565.3 102.0,554.5 102.5,542.0 102.6,538.6 102.7,540.8 102.7,542.9 102.8,545.0 102.9,549.2 103.0,551.2 103.5,564.1 103.7,569.9 103.9,572.5 104.0,575.1 104.5,583.6 105.0,589.4 105.5,590.2 106.0,590.5 106.5,590.8 106.8,591.6 107.0,591.9 107.1,591.9 107.4,590.4 107.9,586.9 108.4,580.8 108.9,572.4 109.4,563.0 109.9,552.9 110.0,550.1 110.2,552.1 110.4,555.9 110.9,562.9 111.4,569.0 111.8,573.6 111.9,575.4 112.0,577.1 112.4,581.8 112.9,586.5 113.4,588.4 113.6,588.5 113.7,588.6 113.8,588.5 113.9,588.3 114.4,584.2 114.9,577.8 115.4,569.8 115.9,560.7 116.1,555.6 116.2,552.9 116.4,556.0 116.9,567.3 117.3,577.4 117.8,585.9 118.3,592.5 118.8,594.7 119.2,594.1 119.3,593.9 119.4,593.7 119.8,593.0 120.3,592.2 120.4,591.9 120.6,591.6 120.7,590.3 120.8,588.2 121.3,575.0 121.8,556.7 122.3,535.1 122.4,529.3 122.5,535.1 122.8,546.2 123.3,565.5 123.8,580.5 124.3,590.4 124.8,588.1 125.3,582.5 125.4,580.7 125.5,578.8 125.6,576.2 125.8,573.4 126.3,561.2 126.6,551.1 126.8,547.6 126.9,550.7 127.2,559.6 127.7,571.5 128.2,579.0 128.7,576.3 129.2,564.8 129.5,555.3 129.6,550.2 129.7,545.0 129.8,539.6 130.0,544.4 130.2,553.4 130.7,569.2 131.2,581.2 131.6,586.6 131.7,587.2 131.8,586.9 132.2,586.0 132.7,585.3 132.8,585.2 132.9,585.2 133.1,585.1 133.2,585.0 133.7,584.8 134.2,584.5 134.7,585.5 135.2,586.4 135.7,587.4 136.2,586.8 136.7,578.0 137.1,564.5 137.6,547.6 137.8,542.9 137.9,538.1 138.0,542.8 138.1,547.3 138.2,549.5 138.3,553.8 138.4,557.9 138.6,563.7 139.1,576.6 139.6,585.7 140.1,588.0 140.6,588.0 141.1,583.5 141.5,576.6 141.6,574.1 141.7,571.4 142.1,562.7 142.6,549.7 142.7,546.2 142.8,542.7 143.0,545.9 143.1,549.1 143.6,560.9 144.1,571.1 144.6,579.3 144.7,581.4 144.8,583.2 144.9,584.9 145.1,586.3 145.6,588.8 146.1,589.8 146.6,590.8 147.0,591.7 147.2,591.9 147.3,592.1 147.5,592.6 148.0,591.4 148.5,581.5 148.9,571.6 149.0,567.9 149.2,564.0 149.5,551.4 150.0,532.8 150.1,527.8 150.3,522.7 150.4,527.4 150.5,531.9 151.0,547.7 151.5,551.8 152.0,550.2 152.5,540.7 152.6,536.9 152.7,534.7 152.7,532.3 152.8,535.5 152.9,538.6 152.9,541.7 153.0,544.7 153.5,565.1 154.0,579.7 154.5,588.6 155.0,588.2 155.5,588.4 156.0,588.6 156.3,588.7 156.5,588.8 156.6,588.8 156.9,589.7 157.4,591.4 157.9,591.8 158.4,588.2 158.9,579.7 159.4,569.5 159.9,559.4 159.9,557.8 160.0,556.3 160.0,554.7 160.1,553.1 160.2,551.5 160.3,554.5 160.4,557.4 160.9,568.2 161.4,577.5 161.9,585.2 162.4,588.4 162.5,588.7 162.6,588.6 162.8,588.0 162.9,587.5 163.4,585.1 163.9,580.8 164.4,575.7 164.5,574.2 164.6,572.7 164.9,569.3 165.4,561.9 165.6,558.6 165.7,556.8 165.9,559.2 166.4,568.1 166.8,576.1 167.3,581.6 167.8,584.4 168.3,584.7 168.7,583.7 168.8,583.4 169.0,583.3 169.3,582.4 169.8,580.8 170.3,578.8 170.8,577.5 171.3,577.1 171.8,576.3 171.9,576.1 172.0,577.3 172.3,579.7 172.4,580.2 172.5,580.6 172.8,584.3 173.3,592.1 173.8,600.5 174.3,602.1 174.8,603.3 175.3,603.5 175.8,603.5 176.3,603.5 176.7,603.5 177.2,603.5 177.7,603.5 178.2,603.5 178.7,603.5 179.2,603.5 179.7,603.5 180.2,603.5 180.7,603.5 181.2,603.5 181.7,603.5 182.2,603.5 182.7,603.5 183.2,603.5 183.7,603.5 184.2,603.5 184.7,603.5 185.2,603.5 185.7,603.5 186.2,603.5 186.6,603.5 187.1,603.5 187.6,603.5 188.1,603.5 188.6,603.5 189.1,603.5 189.6,603.5 190.1,603.5 190.6,603.5 191.1,603.5 191.6,603.5 192.1,603.5 192.6,603.5 193.1,603.5 193.6,603.5 194.1,603.5 194.6,603.5 195.1,603.5 195.6,603.5 196.1,603.5 196.5,603.5 197.0,603.5 197.5,603.5 198.0,603.5 198.5,603.5 199.0,603.5 199.5,603.5 200.0,603.5 200.5,603.5 201.0,603.5 201.5,603.5 202.0,603.5 202.5,603.5 203.0,603.5 203.5,603.5 204.0,603.5 204.5,603.5 205.0,603.5 205.5,603.5 206.0,603.5 206.4,603.5 206.9,603.5 207.4,603.5 207.9,603.5 208.4,603.5 208.9,603.5 209.4,603.5 209.9,603.5 210.4,603.5 210.9,603.5 211.4,603.5 211.9,603.5 212.4,603.5 212.9,603.5 213.4,603.5 213.9,603.5 214.4,603.5 214.9,603.5 215.4,603.5 215.9,603.5 216.3,603.5 216.8,603.5 217.3,603.5 217.8,603.5 218.3,603.5 218.8,603.5 219.3,603.5 219.8,603.5 220.3,603.5 220.8,603.5 221.3,603.5 221.8,603.5 222.3,603.5 222.8,603.5 223.3,603.5 223.8,603.5 224.3,603.5 224.8,603.5 225.3,603.5 225.8,603.5 226.2,603.5 226.7,603.5 227.2,603.5 227.7,603.5 228.2,603.5 228.7,603.5 229.2,603.5 229.7,603.5 230.2,603.5 230.7,603.5 231.2,603.5 231.7,603.5 232.2,603.5 232.7,603.5 233.2,603.5 233.7,603.5 234.2,603.5 234.7,603.5 235.2,603.5 235.7,603.5 236.1,603.5 236.6,603.5 237.1,603.5 237.6,603.5 238.1,603.5 238.6,603.5 239.1,603.5 239.6,603.5 240.1,603.5 240.6,603.5 241.1,603.5 241.6,603.5 242.1,603.5 242.6,603.5 243.1,603.5 243.6,603.5 244.1,603.5 244.6,603.5 245.1,603.5 245.6,603.5 246.1,603.5 246.5,603.5 247.0,603.5 247.5,603.5 248.0,603.5 248.5,603.5 249.0,603.5 249.5,603.5 250.0,603.5 250.5,603.5 251.0,603.5 251.5,603.5 252.0,603.5 252.5,603.5 253.0,603.5 253.5,603.5 254.0,603.5 254.5,603.5 255.0,603.5 255.5,603.5 256.0,603.5 256.4,603.5 256.9,603.5 257.4,603.5 257.9,603.5 258.4,603.5 258.9,603.5 259.4,603.5 259.9,603.5 260.4,603.5 260.9,603.5 261.4,603.5 261.9,603.5 262.4,603.5 262.9,603.5 263.4,603.5 263.9,603.5 264.4,603.5 264.9,603.5 265.4,603.5 265.9,603.5 266.3,603.5 266.8,603.5 267.3,603.5 267.8,603.5 268.3,603.5 268.8,603.5 269.3,603.5 269.8,603.5 270.3,603.5 270.8,603.5 271.3,603.5 271.8,603.5 272.3,603.5 272.8,603.5 273.3,603.5 273.8,603.5 274.3,603.5 274.8,603.5 275.3,603.5 275.8,603.5 276.2,603.5 276.7,603.5 277.2,603.5 277.7,603.5 278.2,603.5 278.7,603.5 279.2,603.5 279.7,603.5 280.2,603.5 280.7,603.5 281.2,603.5 281.7,603.5 282.2,603.5 282.7,603.5 283.2,603.5 283.7,603.5 284.2,603.5 284.7,603.5 285.2,603.5 285.7,602.7 286.1,601.8 286.6,601.2 287.1,601.3 287.6,601.4 288.1,601.4 288.6,601.3 289.1,601.0 289.6,600.6 290.1,600.3 290.6,599.9 291.1,599.5 291.6,599.1 292.1,598.8 292.5,598.7 292.6,598.7 292.7,598.8 293.1,599.2 293.6,599.7 294.1,600.0 294.6,600.3 295.1,600.7 295.6,600.9 296.0,601.2 296.5,601.4 297.0,601.5 297.5,601.6 298.0,601.6 298.5,601.6 299.0,601.8 299.5,602.2 300.0,602.5 300.5,602.7 301.0,602.8 301.5,602.8 302.0,602.8 302.5,602.7 303.0,602.4 303.5,602.1 304.0,601.8 304.5,601.6 305.0,601.4 305.5,601.3 305.9,601.4 306.4,601.8 306.9,602.3 307.4,603.1 307.9,603.4 308.4,603.5 308.9,603.5 309.4,603.5 309.9,603.5 310.4,603.5 310.9,603.5 311.4,603.5 311.9,603.5 312.4,603.5 312.9,603.5 313.4,603.5 313.9,603.5 314.4,603.2 314.9,602.1 315.4,599.4 315.8,595.9 316.3,591.6 316.8,586.4 317.2,582.0 317.3,580.5 317.5,582.0 317.8,586.4 318.3,591.6 318.8,596.0 319.3,599.6 319.8,602.4 320.3,603.3 320.8,603.5 321.3,603.5 321.8,603.5 322.3,603.5 322.8,603.5 323.3,603.5 323.8,603.5 324.3,603.5 324.8,603.5 325.3,602.6 325.7,601.9 326.2,601.7 326.7,601.8 327.2,601.5 327.7,600.0 328.2,597.5 328.7,594.2 329.0,592.4 329.1,591.4 329.2,590.4 329.6,587.2 329.7,586.1 329.8,587.0 330.2,590.1 330.7,594.2 331.2,597.7 331.7,600.6 332.2,601.4 332.7,600.9 333.2,600.5 333.7,600.2 334.2,600.2 334.7,600.3 335.2,599.3 335.6,597.9 336.1,595.9 336.6,593.5 337.0,591.4 337.1,590.6 337.3,591.4 337.6,593.7 338.1,596.4 338.6,598.7 339.1,600.1 339.6,600.7 340.1,600.3 340.6,600.1 341.1,600.0 341.6,599.9 342.1,599.8 342.6,600.2 343.1,600.7 343.2,600.8 343.3,600.9 343.4,601.0 343.6,601.1 344.1,601.3 344.6,601.2 345.1,601.2 345.5,601.1 346.0,601.0 346.5,600.8 347.0,600.7 347.5,600.4 348.0,600.1 348.5,599.8 349.0,599.4 349.5,599.9 350.0,600.4 350.5,600.8 351.0,600.9 351.2,600.7 351.4,600.6 351.5,600.5 352.0,600.1 352.5,599.7 353.0,599.9 353.5,600.1 354.0,600.3 354.5,600.5 355.0,600.7 355.4,600.9 355.9,601.1 356.4,601.1 356.9,601.1 357.4,601.1 357.9,601.0 358.4,600.9 358.9,600.8 359.4,600.6 359.9,600.6 360.4,600.5 360.9,600.4 361.4,600.5 361.9,600.6 362.4,600.7 362.9,600.4 363.4,599.0 363.9,597.1 364.4,594.9 364.9,592.4 365.0,591.7 365.1,592.3 365.3,593.5 365.8,595.6 366.3,597.4 366.8,599.4 367.3,601.9 367.8,603.1 368.3,603.5 368.8,603.5 369.3,603.5 369.8,603.5 370.3,603.5 370.8,603.5 371.3,603.5 371.8,603.5 372.3,603.5 372.8,603.5 373.3,603.5 373.8,603.5 374.3,603.5 374.8,603.5 375.2,603.5 375.7,603.5 376.2,603.5 376.7,603.5 377.2,603.5 377.7,603.5 378.2,602.8 378.7,601.6 379.2,600.6 379.7,600.9 380.2,601.2 380.7,601.0 380.9,600.9 381.1,600.9 381.2,600.8 381.7,600.7 382.2,600.8 382.3,600.9 382.4,601.0 382.7,601.2 383.2,601.6 383.7,602.0 384.2,601.9 384.7,601.8 385.1,601.6 385.6,601.1 386.1,599.8 386.6,598.0 387.1,595.9 387.6,594.5 388.1,592.8 388.4,591.9 388.5,591.4 388.6,592.2 389.1,594.8 389.6,596.9 390.1,598.7 390.6,600.3 391.1,601.0 391.6,601.2 392.1,600.8 392.6,600.7 393.1,601.0 393.6,601.3 394.1,601.7 394.6,601.6 395.0,601.6 395.5,602.0 396.0,602.7 396.5,603.5 397.0,603.5 397.5,603.5 398.0,603.5 398.5,603.5 399.0,603.5 399.5,603.5 400.0,603.5 400.5,603.5 401.0,603.5 401.5,603.5 402.0,603.5 402.5,603.5 403.0,603.5 403.5,603.5 404.0,603.5 404.5,603.5 405.0,603.5 405.4,603.5 405.9,603.5 406.4,603.5 406.9,603.5 407.4,603.5 407.9,603.5 408.4,603.5 408.9,603.5 409.4,603.5 409.9,603.5 410.4,603.5 410.9,603.5 411.4,603.5 411.9,603.5 412.4,603.5 412.9,603.5 413.4,603.5 413.9,603.5 414.4,603.5 414.9,603.5 415.3,603.5 415.8,603.5 416.3,603.5 416.8,603.5 417.3,603.5 417.8,603.5 418.3,603.5 418.8,603.5 419.3,603.5 419.8,603.5 420.3,603.5 420.8,603.5 421.3,603.5 421.8,603.5 422.3,603.5 422.8,603.5 423.3,603.5 423.8,603.5 424.3,603.5 424.8,603.5 425.2,603.5 425.7,603.4 426.2,602.9 426.7,602.1 427.2,600.8 427.7,598.9 428.2,596.6 428.6,594.8 428.7,594.2 428.8,594.7 429.2,596.4 429.7,598.5 430.2,600.3 430.7,601.4 431.2,601.7 431.7,601.4 432.2,601.1 432.7,601.3 433.2,601.6 433.7,601.8 434.2,601.9 434.7,601.8 435.1,601.7 435.6,601.6 436.1,600.7 436.6,599.4 437.1,597.8 437.6,595.9 437.9,594.9 438.0,594.3 438.1,594.8 438.6,596.7 439.1,598.3 439.6,599.7 440.1,600.6 440.6,601.0 441.1,601.1 441.6,601.3 442.1,601.5 442.6,601.7 443.1,601.8 443.6,602.5 444.1,603.3 444.6,603.5 445.0,603.5 445.5,603.5 446.0,603.5 446.5,603.5 447.0,603.5 447.5,603.5 448.0,603.5 448.5,603.5 449.0,603.5 449.5,603.5 450.0,603.5 450.5,603.4 451.0,602.8 451.5,602.2 452.0,601.6 452.5,601.3 453.0,600.9 453.5,601.0 454.0,601.2 454.5,601.3 454.9,600.8 455.2,599.9 455.3,599.3 455.4,598.7 455.9,595.7 456.4,592.0 456.6,591.0 456.7,590.0 456.9,587.9 457.4,583.2 457.7,580.7 457.8,579.4 457.9,580.6 458.4,585.3 458.9,589.8 459.4,593.7 459.9,597.0 460.4,599.8 460.9,601.5 461.4,601.8 461.9,601.9 462.4,601.6 462.6,601.5 462.7,601.5 462.9,601.4 463.4,601.2 463.9,600.9 464.4,600.7 464.8,600.5 465.3,600.5 465.8,601.0 466.3,601.4 466.8,601.8 467.3,601.3 467.8,601.0 468.3,601.9 468.8,603.2 469.3,603.5 469.8,603.5 470.3,603.5 470.8,603.5 471.3,603.5 471.8,603.5 472.3,603.5 472.8,603.5 473.3,603.5 473.8,603.5 474.3,603.5 474.7,603.5 475.2,603.5 475.7,603.5 476.2,603.5 476.7,603.5 477.2,603.5 477.7,603.5 478.2,603.5 478.7,603.5 479.2,603.5 479.7,603.5 480.2,603.5 480.7,603.5 481.2,603.5 481.7,603.0 482.2,602.4 482.7,601.8 483.2,601.8 483.7,602.5 484.2,603.2 484.3,603.4 484.4,603.5" fill="none" stroke="#1a1aff" stroke-width="1.55" stroke-linejoin="round" />
<polyline points="82.2,603.5 82.7,600.6 82.8,600.1 82.9,599.3 83.2,597.3 83.7,593.4 84.2,587.6 84.6,581.2 84.7,578.9 84.8,576.6 85.2,569.1 85.3,566.5 85.4,568.6 85.5,570.5 85.7,572.5 86.2,580.3 86.7,587.0 87.2,592.2 87.6,595.7 87.8,596.2 87.9,596.2 88.1,596.4 88.6,596.6 89.1,596.9 89.5,596.1 89.6,595.9 89.7,595.8 89.7,595.6 89.8,595.5 89.9,595.3 90.1,594.9 90.6,593.9 91.1,593.4 91.6,593.3 92.1,593.3 92.6,591.3 92.7,590.9 92.8,590.3 93.1,589.1 93.6,585.8 94.1,581.8 94.5,577.9 94.6,576.2 94.7,577.7 95.1,581.8 95.6,586.6 96.1,590.7 96.3,592.1 96.4,592.7 96.6,593.2 97.1,594.3 97.5,593.5 98.0,593.5 98.5,594.3 99.0,595.1 99.5,595.9 100.0,595.3 100.5,594.6 100.6,594.4 100.8,594.2 100.9,594.0 101.0,593.9 101.5,593.0 102.0,589.6 102.5,584.6 102.6,583.2 102.7,582.4 102.7,581.7 102.8,580.9 102.9,579.3 103.0,578.4 103.5,572.6 103.7,569.4 103.9,567.7 104.0,569.9 104.5,578.1 105.0,584.7 105.5,589.7 106.0,593.3 106.5,594.6 106.8,594.0 107.0,593.8 107.1,593.7 107.4,593.1 107.9,592.4 108.4,592.5 108.9,593.3 109.4,594.2 109.9,593.0 110.0,591.9 110.2,590.6 110.4,587.9 110.9,581.6 111.4,574.5 111.8,569.3 111.9,567.9 112.0,569.9 112.4,575.5 112.9,582.2 113.4,588.1 113.6,589.5 113.7,590.4 113.8,591.1 113.9,591.5 114.4,593.1 114.9,592.8 115.4,593.3 115.9,594.7 116.1,595.3 116.2,595.7 116.4,596.0 116.9,597.4 117.3,595.6 117.8,593.8 118.3,591.1 118.8,586.6 119.2,582.8 119.3,581.4 119.4,579.9 119.8,575.0 120.3,567.7 120.4,565.7 120.6,563.7 120.7,565.9 120.8,567.9 121.3,575.7 121.8,582.4 122.3,588.0 122.4,589.2 122.5,590.3 122.8,592.1 123.3,593.3 123.8,593.7 124.3,595.4 124.8,597.2 125.3,598.9 125.4,599.3 125.5,599.8 125.6,599.2 125.8,598.7 126.3,596.5 126.6,594.8 126.8,594.3 126.9,593.7 127.2,592.0 127.7,593.0 128.2,593.9 128.7,576.9 129.2,531.0 129.5,501.4 129.6,485.3 129.7,501.1 129.8,516.1 130.0,530.2 130.2,555.3 130.7,590.0 131.2,595.1 131.6,596.4 131.7,596.9 131.8,597.3 132.2,598.6 132.7,599.3 132.8,599.3 132.9,599.2 133.1,599.1 133.2,599.1 133.7,598.8 134.2,598.6 134.7,598.9 135.2,599.2 135.7,599.6 136.2,598.4 136.7,587.0 137.1,556.5 137.6,515.5 137.8,504.9 137.9,493.9 138.0,505.8 138.1,517.1 138.2,522.6 138.3,533.2 138.4,543.2 138.6,557.1 139.1,586.6 139.6,595.4 140.1,594.0 140.6,592.6 141.1,590.6 141.5,587.6 141.6,586.1 141.7,584.4 142.1,578.3 142.6,568.0 142.7,565.1 142.8,562.1 143.0,565.2 143.1,568.2 143.6,578.8 144.1,587.0 144.6,591.8 144.7,592.7 144.8,592.9 144.9,593.2 145.1,593.4 145.6,594.4 146.1,595.4 146.6,595.3 147.0,594.3 147.2,594.0 147.3,593.7 147.5,593.2 148.0,591.1 148.5,587.8 148.9,584.0 149.0,582.6 149.2,581.0 149.5,575.9 150.0,567.1 150.1,564.5 150.3,561.8 150.4,564.3 150.5,566.7 151.0,575.7 151.5,583.4 152.0,588.8 152.5,592.2 152.6,592.6 152.7,592.7 152.7,592.7 152.8,592.5 152.9,592.4 152.9,592.2 153.0,592.1 153.5,592.3 154.0,593.9 154.5,593.1 155.0,590.2 155.5,583.3 156.0,575.4 156.3,568.8 156.5,566.5 156.6,568.3 156.9,574.5 157.4,582.6 157.9,589.7 158.4,595.4 158.9,597.7 159.4,597.6 159.9,597.5 159.9,597.5 160.0,597.5 160.0,597.5 160.1,597.5 160.2,597.4 160.3,597.3 160.4,597.0 160.9,595.0 161.4,592.1 161.9,588.5 162.4,585.3 162.5,584.4 162.6,583.5 162.8,584.9 162.9,586.2 163.4,591.4 163.9,594.3 164.4,595.0 164.5,595.0 164.6,595.0 164.9,594.7 165.4,592.9 165.6,592.7 165.7,592.6 165.9,592.5 166.4,592.1 166.8,591.7 167.3,591.7 167.8,594.5 168.3,599.2 168.7,602.5 168.8,603.5 169.0,603.5 169.3,603.5 169.8,603.5 170.3,603.5 170.8,603.5 171.3,603.5 171.8,603.5 171.9,603.5 172.0,603.5 172.3,603.5 172.4,603.5 172.5,603.5 172.8,603.5 173.3,603.5 173.8,603.5 174.3,603.5 174.8,603.5 175.3,603.5 175.8,603.5 176.3,603.5 176.7,603.5 177.2,603.5 177.7,603.5 178.2,603.5 178.7,603.5 179.2,603.5 179.7,603.5 180.2,603.5 180.7,603.5 181.2,603.5 181.7,603.5 182.2,603.5 182.7,603.5 183.2,603.5 183.7,603.5 184.2,603.5 184.7,603.5 185.2,603.5 185.7,603.5 186.2,603.5 186.6,603.5 187.1,603.5 187.6,603.5 188.1,603.5 188.6,603.5 189.1,603.5 189.6,603.5 190.1,603.5 190.6,603.5 191.1,603.5 191.6,603.5 192.1,603.5 192.6,603.5 193.1,603.5 193.6,603.5 194.1,603.5 194.6,603.5 195.1,603.5 195.6,603.5 196.1,603.5 196.5,603.5 197.0,603.5 197.5,603.5 198.0,603.5 198.5,603.5 199.0,603.5 199.5,603.5 200.0,603.5 200.5,603.5 201.0,603.5 201.5,603.5 202.0,603.5 202.5,603.5 203.0,603.5 203.5,603.5 204.0,603.5 204.5,603.5 205.0,603.5 205.5,603.5 206.0,603.5 206.4,603.5 206.9,603.5 207.4,603.5 207.9,603.5 208.4,603.5 208.9,603.5 209.4,603.5 209.9,603.5 210.4,603.5 210.9,603.5 211.4,603.5 211.9,603.5 212.4,603.5 212.9,603.5 213.4,603.5 213.9,603.5 214.4,603.5 214.9,603.5 215.4,603.5 215.9,603.5 216.3,603.5 216.8,603.5 217.3,603.5 217.8,603.5 218.3,603.5 218.8,603.5 219.3,603.5 219.8,603.5 220.3,603.5 220.8,603.5 221.3,603.5 221.8,603.5 222.3,603.5 222.8,603.5 223.3,603.5 223.8,603.5 224.3,603.5 224.8,603.5 225.3,603.5 225.8,603.5 226.2,603.5 226.7,603.5 227.2,603.5 227.7,603.5 228.2,603.5 228.7,603.5 229.2,603.5 229.7,603.5 230.2,603.5 230.7,603.5 231.2,603.5 231.7,603.5 232.2,603.5 232.7,603.5 233.2,603.5 233.7,603.5 234.2,603.5 234.7,603.5 235.2,603.5 235.7,603.5 236.1,603.5 236.6,603.5 237.1,603.5 237.6,603.5 238.1,603.5 238.6,603.5 239.1,603.5 239.6,603.5 240.1,603.5 240.6,603.5 241.1,603.5 241.6,603.5 242.1,603.5 242.6,603.5 243.1,603.5 243.6,603.5 244.1,603.5 244.6,603.5 245.1,603.5 245.6,603.5 246.1,603.5 246.5,603.5 247.0,603.5 247.5,603.5 248.0,603.5 248.5,603.5 249.0,603.5 249.5,603.5 250.0,603.5 250.5,603.5 251.0,603.5 251.5,603.5 252.0,603.5 252.5,603.5 253.0,603.5 253.5,603.5 254.0,603.5 254.5,603.5 255.0,603.5 255.5,603.5 256.0,603.5 256.4,603.5 256.9,603.5 257.4,603.5 257.9,603.5 258.4,603.5 258.9,603.5 259.4,603.5 259.9,603.5 260.4,603.5 260.9,603.5 261.4,603.5 261.9,603.5 262.4,603.5 262.9,603.5 263.4,603.5 263.9,603.5 264.4,603.5 264.9,603.5 265.4,603.5 265.9,603.5 266.3,603.5 266.8,603.5 267.3,603.5 267.8,603.5 268.3,603.5 268.8,603.5 269.3,603.5 269.8,603.5 270.3,603.5 270.8,603.5 271.3,603.5 271.8,603.5 272.3,603.5 272.8,603.5 273.3,603.5 273.8,603.5 274.3,603.5 274.8,603.5 275.3,603.5 275.8,603.5 276.2,603.5 276.7,603.5 277.2,603.5 277.7,603.5 278.2,603.5 278.7,603.5 279.2,603.5 279.7,603.5 280.2,603.5 280.7,603.5 281.2,603.5 281.7,603.5 282.2,603.5 282.7,603.5 283.2,603.5 283.7,603.5 284.2,603.5 284.7,603.5 285.2,603.5 285.7,603.2 286.1,602.8 286.6,602.4 287.1,602.6 287.6,602.7 288.1,602.8 288.6,602.9 289.1,603.0 289.6,603.0 290.1,603.1 290.6,602.8 291.1,602.5 291.6,602.2 292.1,602.2 292.5,602.4 292.6,602.4 292.7,602.5 293.1,602.7 293.6,603.0 294.1,602.7 294.6,602.5 295.1,602.3 295.6,602.2 296.0,602.3 296.5,602.3 297.0,602.4 297.5,602.3 298.0,602.2 298.5,602.1 299.0,602.1 299.5,602.1 300.0,602.1 300.5,602.2 301.0,602.1 301.5,602.1 302.0,602.0 302.5,602.1 303.0,602.2 303.5,602.3 304.0,602.3 304.5,602.4 305.0,602.4 305.5,602.4 305.9,602.4 306.4,602.5 306.9,602.6 307.4,603.1 307.9,603.4 308.4,603.5 308.9,603.5 309.4,603.5 309.9,603.5 310.4,603.5 310.9,603.5 311.4,603.5 311.9,603.5 312.4,603.5 312.9,603.5 313.4,603.5 313.9,603.5 314.4,603.4 314.9,602.7 315.4,602.3 315.8,601.6 316.3,599.3 316.8,595.9 317.2,593.0 317.3,592.0 317.5,592.7 317.8,594.5 318.3,597.5 318.8,599.9 319.3,601.2 319.8,602.3 320.3,603.3 320.8,603.5 321.3,603.5 321.8,603.5 322.3,603.5 322.8,603.5 323.3,603.5 323.8,603.5 324.3,603.5 324.8,603.5 325.3,602.4 325.7,601.6 326.2,601.5 326.7,601.6 327.2,601.5 327.7,600.4 328.2,598.6 328.7,596.3 329.0,595.0 329.1,594.3 329.2,593.6 329.6,591.3 329.7,590.5 329.8,591.2 330.2,593.4 330.7,596.0 331.2,598.3 331.7,600.0 332.2,601.3 332.7,601.7 333.2,602.1 333.7,602.2 334.2,602.2 334.7,602.1 335.2,601.2 335.6,599.6 336.1,597.5 336.6,595.0 337.0,593.1 337.1,592.5 337.3,593.2 337.6,595.1 338.1,597.5 338.6,599.5 339.1,600.5 339.6,600.9 340.1,600.5 340.6,600.6 341.1,601.2 341.6,601.8 342.1,602.4 342.6,601.9 343.1,601.3 343.2,601.2 343.3,601.1 343.4,600.9 343.6,600.8 344.1,600.7 344.6,601.0 345.1,601.3 345.5,601.6 346.0,601.7 346.5,601.7 347.0,601.8 347.5,601.6 348.0,601.2 348.5,600.9 349.0,600.5 349.5,600.6 350.0,600.7 350.5,600.9 351.0,601.0 351.2,601.1 351.4,601.2 351.5,601.2 352.0,601.5 352.5,601.7 353.0,601.5 353.5,601.4 354.0,601.2 354.5,601.2 355.0,601.4 355.4,601.6 355.9,601.8 356.4,601.4 356.9,601.1 357.4,600.7 357.9,600.7 358.4,600.9 358.9,601.1 359.4,601.4 359.9,601.4 360.4,601.4 360.9,601.5 361.4,601.3 361.9,600.9 362.4,600.5 362.9,600.1 363.4,600.2 363.9,600.3 364.4,600.5 364.9,600.5 365.0,600.5 365.1,600.5 365.3,600.6 365.8,600.6 366.3,600.6 366.8,600.8 367.3,602.0 367.8,603.1 368.3,603.5 368.8,603.5 369.3,603.5 369.8,603.5 370.3,603.5 370.8,603.5 371.3,603.5 371.8,603.5 372.3,603.5 372.8,603.5 373.3,603.5 373.8,603.5 374.3,603.5 374.8,603.5 375.2,603.5 375.7,603.5 376.2,603.5 376.7,603.5 377.2,603.5 377.7,603.5 378.2,603.2 378.7,602.5 379.2,601.5 379.7,601.2 380.2,600.9 380.7,601.2 380.9,601.4 381.1,601.4 381.2,601.5 381.7,601.8 382.2,601.8 382.3,601.8 382.4,601.7 382.7,601.6 383.2,601.4 383.7,601.2 384.2,601.1 384.7,600.9 385.1,600.7 385.6,600.7 386.1,600.4 386.6,599.8 387.1,598.9 387.6,597.9 388.1,596.8 388.4,596.1 388.5,595.8 388.6,596.3 389.1,597.7 389.6,598.6 390.1,599.3 390.6,599.8 391.1,601.1 391.6,601.9 392.1,602.4 392.6,602.3 393.1,601.8 393.6,601.3 394.1,600.8 394.6,601.1 395.0,601.4 395.5,602.1 396.0,602.9 396.5,603.5 397.0,603.5 397.5,603.5 398.0,603.5 398.5,603.5 399.0,603.5 399.5,603.5 400.0,603.5 400.5,603.5 401.0,603.5 401.5,603.5 402.0,603.5 402.5,603.5 403.0,603.5 403.5,603.5 404.0,603.5 404.5,603.5 405.0,603.5 405.4,603.5 405.9,603.5 406.4,603.5 406.9,603.5 407.4,603.5 407.9,603.5 408.4,603.5 408.9,603.5 409.4,603.5 409.9,603.5 410.4,603.5 410.9,603.5 411.4,603.5 411.9,603.5 412.4,603.5 412.9,603.5 413.4,603.5 413.9,603.5 414.4,603.5 414.9,603.5 415.3,603.5 415.8,603.5 416.3,603.5 416.8,603.5 417.3,603.5 417.8,603.5 418.3,603.5 418.8,603.5 419.3,603.5 419.8,603.5 420.3,603.5 420.8,603.5 421.3,603.5 421.8,603.5 422.3,603.5 422.8,603.5 423.3,603.5 423.8,603.5 424.3,603.5 424.8,603.5 425.2,603.5 425.7,603.4 426.2,602.8 426.7,601.8 427.2,600.8 427.7,599.8 428.2,598.6 428.6,597.6 428.7,597.2 428.8,597.6 429.2,598.7 429.7,600.1 430.2,601.3 430.7,602.1 431.2,602.5 431.7,602.4 432.2,602.3 432.7,602.4 433.2,602.5 433.7,602.6 434.2,602.6 434.7,602.5 435.1,602.4 435.6,602.3 436.1,602.1 436.6,601.9 437.1,601.7 437.6,601.6 437.9,601.6 438.0,601.6 438.1,601.6 438.6,601.7 439.1,601.8 439.6,602.1 440.1,602.5 440.6,602.8 441.1,602.8 441.6,602.4 442.1,602.1 442.6,601.7 443.1,602.0 443.6,602.7 444.1,603.4 444.6,603.5 445.0,603.5 445.5,603.5 446.0,603.5 446.5,603.5 447.0,603.5 447.5,603.5 448.0,603.5 448.5,603.5 449.0,603.5 449.5,603.5 450.0,603.5 450.5,603.3 451.0,602.5 451.5,601.7 452.0,601.3 452.5,601.2 453.0,601.0 453.5,601.6 454.0,602.1 454.5,602.6 454.9,602.4 455.2,601.7 455.3,601.2 455.4,600.8 455.9,598.6 456.4,595.9 456.6,595.3 456.7,594.7 456.9,593.4 457.4,590.6 457.7,589.1 457.8,588.3 457.9,589.2 458.4,592.2 458.9,594.8 459.4,597.0 459.9,598.8 460.4,600.7 460.9,601.9 461.4,602.1 461.9,602.2 462.4,602.2 462.6,602.1 462.7,602.1 462.9,602.1 463.4,602.0 463.9,601.6 464.4,601.3 464.8,600.9 465.3,600.8 465.8,600.9 466.3,601.0 466.8,601.0 467.3,601.2 467.8,601.6 468.3,602.6 468.8,603.4 469.3,603.5 469.8,603.5 470.3,603.5 470.8,603.5 471.3,603.5 471.8,603.5 472.3,603.5 472.8,603.5 473.3,603.5 473.8,603.5 474.3,603.5 474.7,603.5 475.2,603.5 475.7,603.5 476.2,603.5 476.7,603.5 477.2,603.5 477.7,603.5 478.2,603.5 478.7,603.5 479.2,603.5 479.7,603.5 480.2,603.5 480.7,603.5 481.2,603.5 481.7,603.1 482.2,602.5 482.7,602.1 483.2,602.3 483.7,603.0 484.2,603.4 484.3,603.5 484.4,603.5" fill="none" stroke="#ff1aff" stroke-width="1.55" stroke-linejoin="round" />
<polyline points="82.2,603.5 82.7,602.7 82.8,602.5 82.9,602.0 83.2,600.0 83.7,594.9 84.2,588.3 84.6,582.4 84.7,580.3 84.8,582.3 85.2,587.9 85.3,589.6 85.4,591.2 85.5,592.7 85.7,594.1 86.2,598.9 86.7,600.7 87.2,600.6 87.6,600.7 87.8,600.8 87.9,600.8 88.1,601.0 88.6,601.2 89.1,601.4 89.5,601.5 89.6,601.5 89.7,601.5 89.7,601.5 89.8,601.5 89.9,601.5 90.1,601.6 90.6,601.7 91.1,601.7 91.6,601.6 92.1,601.6 92.6,601.5 92.7,601.6 92.8,601.7 93.1,601.9 93.6,602.2 94.1,602.5 94.5,602.7 94.6,602.6 94.7,602.6 95.1,602.4 95.6,602.3 96.1,602.1 96.3,602.0 96.4,602.0 96.6,601.9 97.1,601.8 97.5,601.6 98.0,601.2 98.5,600.4 99.0,599.3 99.5,598.0 100.0,597.1 100.5,596.0 100.6,595.7 100.8,595.4 100.9,595.9 101.0,596.4 101.5,598.0 102.0,599.0 102.5,599.9 102.6,600.1 102.7,600.2 102.7,600.3 102.8,600.4 102.9,600.5 103.0,600.6 103.5,601.2 103.7,601.4 103.9,601.5 104.0,601.5 104.5,601.4 105.0,601.4 105.5,601.6 106.0,601.8 106.5,602.0 106.8,602.0 107.0,601.9 107.1,601.9 107.4,601.9 107.9,601.9 108.4,602.0 108.9,602.2 109.4,602.5 109.9,602.7 110.0,602.7 110.2,602.7 110.4,602.6 110.9,602.5 111.4,602.5 111.8,602.3 111.9,602.2 112.0,602.1 112.4,601.9 112.9,601.5 113.4,601.1 113.6,601.0 113.7,600.9 113.8,600.8 113.9,600.7 114.4,600.1 114.9,599.4 115.4,598.3 115.9,597.0 116.1,596.3 116.2,595.9 116.4,596.1 116.9,597.0 117.3,598.3 117.8,599.4 118.3,600.4 118.8,601.0 119.2,601.3 119.3,601.4 119.4,601.4 119.8,601.4 120.3,601.4 120.4,601.5 120.6,601.5 120.7,601.6 120.8,601.7 121.3,602.0 121.8,602.4 122.3,602.3 122.4,602.2 122.5,602.1 122.8,601.8 123.3,601.3 123.8,600.9 124.3,601.2 124.8,601.6 125.3,602.0 125.4,602.0 125.5,602.1 125.6,602.2 125.8,602.2 126.3,602.2 126.6,602.3 126.8,602.3 126.9,602.3 127.2,602.4 127.7,602.2 128.2,602.0 128.7,601.8 129.2,601.2 129.5,600.7 129.6,600.5 129.7,600.2 129.8,600.0 130.0,599.7 130.2,599.1 130.7,597.8 131.2,596.8 131.6,595.9 131.7,595.6 131.8,596.0 132.2,597.3 132.7,598.6 132.8,598.9 132.9,599.2 133.1,599.4 133.2,599.7 133.7,600.5 134.2,601.2 134.7,601.6 135.2,601.6 135.7,601.6 136.2,601.7 136.7,602.0 137.1,602.3 137.6,602.6 137.8,602.5 137.9,602.4 138.0,602.3 138.1,602.2 138.2,602.2 138.3,602.1 138.4,602.0 138.6,601.8 139.1,601.4 139.6,601.3 140.1,601.5 140.6,601.7 141.1,601.9 141.5,601.9 141.6,601.9 141.7,601.9 142.1,601.9 142.6,602.0 142.7,602.0 142.8,602.0 143.0,602.0 143.1,601.9 143.6,601.8 144.1,601.7 144.6,601.2 144.7,601.1 144.8,600.9 144.9,600.6 145.1,600.4 145.6,599.4 146.1,598.3 146.6,597.4 147.0,596.7 147.2,596.5 147.3,596.9 147.5,597.7 148.0,599.3 148.5,600.0 148.9,600.4 149.0,600.5 149.2,600.6 149.5,600.9 150.0,601.3 150.1,601.4 150.3,601.5 150.4,601.5 150.5,601.6 151.0,601.7 151.5,601.9 152.0,601.7 152.5,601.5 152.6,601.5 152.7,601.4 152.7,601.4 152.8,601.4 152.9,601.4 152.9,601.3 153.0,601.3 153.5,601.3 154.0,601.3 154.5,601.4 155.0,601.4 155.5,602.1 156.0,603.0 156.3,603.4 156.5,603.5 156.6,603.5 156.9,603.5 157.4,603.5 157.9,603.5 158.4,603.5 158.9,603.5 159.4,603.5 159.9,603.5 159.9,603.5 160.0,603.5 160.0,603.5 160.1,603.5 160.2,603.5 160.3,603.5 160.4,603.5 160.9,603.5 161.4,603.5 161.9,603.5 162.4,603.5 162.5,603.5 162.6,603.5 162.8,603.5 162.9,603.5 163.4,603.5 163.9,603.5 164.4,603.5 164.5,603.5 164.6,603.5 164.9,603.5 165.4,603.5 165.6,603.5 165.7,603.5 165.9,603.5 166.4,603.5 166.8,603.5 167.3,603.5 167.8,603.5 168.3,603.5 168.7,603.5 168.8,603.5 169.0,603.5 169.3,603.5 169.8,603.5 170.3,603.5 170.8,603.5 171.3,603.5 171.8,603.5 171.9,603.5 172.0,603.5 172.3,603.5 172.4,603.5 172.5,603.5 172.8,603.5 173.3,603.5 173.8,603.5 174.3,603.5 174.8,603.5 175.3,603.5 175.8,603.5 176.3,603.5 176.7,603.5 177.2,603.5 177.7,603.5 178.2,603.5 178.7,603.5 179.2,603.5 179.7,603.5 180.2,603.5 180.7,603.5 181.2,603.5 181.7,603.5 182.2,603.5 182.7,603.5 183.2,603.5 183.7,603.5 184.2,603.5 184.7,603.5 185.2,603.5 185.7,603.5 186.2,603.5 186.6,603.5 187.1,603.5 187.6,603.5 188.1,603.5 188.6,603.5 189.1,603.5 189.6,603.5 190.1,603.5 190.6,603.5 191.1,603.5 191.6,603.5 192.1,603.5 192.6,603.5 193.1,603.5 193.6,603.5 194.1,603.5 194.6,603.5 195.1,603.5 195.6,603.5 196.1,603.5 196.5,603.5 197.0,603.5 197.5,603.5 198.0,603.5 198.5,603.5 199.0,603.5 199.5,603.5 200.0,603.5 200.5,603.5 201.0,603.5 201.5,603.5 202.0,603.5 202.5,603.5 203.0,603.5 203.5,603.5 204.0,603.5 204.5,603.5 205.0,603.5 205.5,603.5 206.0,603.5 206.4,603.5 206.9,603.5 207.4,603.5 207.9,603.5 208.4,603.5 208.9,603.5 209.4,603.5 209.9,603.5 210.4,603.5 210.9,603.5 211.4,603.5 211.9,603.5 212.4,603.5 212.9,603.5 213.4,603.5 213.9,603.5 214.4,603.5 214.9,603.5 215.4,603.5 215.9,603.5 216.3,603.5 216.8,603.5 217.3,603.5 217.8,603.5 218.3,603.5 218.8,603.5 219.3,603.5 219.8,603.5 220.3,603.5 220.8,603.5 221.3,603.5 221.8,603.5 222.3,603.5 222.8,603.5 223.3,603.5 223.8,603.5 224.3,603.5 224.8,603.5 225.3,603.5 225.8,603.5 226.2,603.5 226.7,603.5 227.2,603.5 227.7,603.5 228.2,603.5 228.7,603.5 229.2,603.5 229.7,603.5 230.2,603.5 230.7,603.5 231.2,603.5 231.7,603.5 232.2,603.5 232.7,603.5 233.2,603.5 233.7,603.5 234.2,603.5 234.7,603.5 235.2,603.5 235.7,603.5 236.1,603.5 236.6,603.5 237.1,603.5 237.6,603.5 238.1,603.5 238.6,603.5 239.1,603.5 239.6,603.5 240.1,603.5 240.6,603.5 241.1,603.5 241.6,603.5 242.1,603.5 242.6,603.5 243.1,603.5 243.6,603.5 244.1,603.5 244.6,603.5 245.1,603.5 245.6,603.5 246.1,603.5 246.5,603.5 247.0,603.5 247.5,603.5 248.0,603.5 248.5,603.5 249.0,603.5 249.5,603.5 250.0,603.5 250.5,603.5 251.0,603.5 251.5,603.5 252.0,603.5 252.5,603.5 253.0,603.5 253.5,603.5 254.0,603.5 254.5,603.5 255.0,603.5 255.5,603.5 256.0,603.5 256.4,603.5 256.9,603.5 257.4,603.5 257.9,603.5 258.4,603.5 258.9,603.5 259.4,603.5 259.9,603.5 260.4,603.5 260.9,603.5 261.4,603.5 261.9,603.5 262.4,603.5 262.9,603.5 263.4,603.5 263.9,603.5 264.4,603.5 264.9,603.5 265.4,603.5 265.9,603.5 266.3,603.5 266.8,603.5 267.3,603.5 267.8,603.5 268.3,603.5 268.8,603.5 269.3,603.5 269.8,603.5 270.3,603.5 270.8,603.5 271.3,603.5 271.8,603.5 272.3,603.5 272.8,603.5 273.3,603.5 273.8,603.5 274.3,603.5 274.8,603.5 275.3,603.5 275.8,603.5 276.2,603.5 276.7,603.5 277.2,603.5 277.7,603.5 278.2,603.5 278.7,603.5 279.2,603.5 279.7,603.5 280.2,603.5 280.7,603.5 281.2,603.5 281.7,603.5 282.2,603.5 282.7,603.5 283.2,603.5 283.7,603.5 284.2,603.5 284.7,603.5 285.2,603.5 285.7,603.5 286.1,603.5 286.6,603.5 287.1,603.5 287.6,603.5 288.1,603.5 288.6,603.5 289.1,603.5 289.6,603.5 290.1,603.5 290.6,603.5 291.1,603.5 291.6,603.5 292.1,603.5 292.5,603.5 292.6,603.5 292.7,603.5 293.1,603.5 293.6,603.5 294.1,603.5 294.6,603.5 295.1,603.5 295.6,603.5 296.0,603.5 296.5,603.5 297.0,603.5 297.5,603.5 298.0,603.5 298.5,603.5 299.0,603.5 299.5,603.5 300.0,603.5 300.5,603.5 301.0,603.5 301.5,603.5 302.0,603.5 302.5,603.5 303.0,603.5 303.5,603.5 304.0,603.5 304.5,603.5 305.0,603.5 305.5,603.5 305.9,603.5 306.4,603.5 306.9,603.5 307.4,603.5 307.9,603.5 308.4,603.5 308.9,603.5 309.4,603.5 309.9,603.5 310.4,603.5 310.9,603.5 311.4,603.5 311.9,603.5 312.4,603.5 312.9,603.5 313.4,603.5 313.9,603.5 314.4,603.5 314.9,603.5 315.4,603.5 315.8,603.5 316.3,603.5 316.8,603.5 317.2,603.5 317.3,603.5 317.5,603.5 317.8,603.5 318.3,603.5 318.8,603.5 319.3,603.5 319.8,603.5 320.3,603.5 320.8,603.5 321.3,603.5 321.8,603.5 322.3,603.5 322.8,603.5 323.3,603.5 323.8,603.5 324.3,603.5 324.8,603.5 325.3,603.5 325.7,603.5 326.2,603.5 326.7,603.5 327.2,603.5 327.7,603.5 328.2,603.5 328.7,603.5 329.0,603.5 329.1,603.5 329.2,603.5 329.6,603.5 329.7,603.5 329.8,603.5 330.2,603.5 330.7,603.5 331.2,603.5 331.7,603.5 332.2,603.5 332.7,603.5 333.2,603.5 333.7,603.5 334.2,603.5 334.7,603.5 335.2,603.5 335.6,603.5 336.1,603.5 336.6,603.5 337.0,603.5 337.1,603.5 337.3,603.5 337.6,603.5 338.1,603.5 338.6,603.5 339.1,603.5 339.6,603.5 340.1,603.5 340.6,603.5 341.1,603.5 341.6,603.5 342.1,603.5 342.6,603.5 343.1,603.5 343.2,603.5 343.3,603.5 343.4,603.5 343.6,603.5 344.1,603.5 344.6,603.5 345.1,603.5 345.5,603.5 346.0,603.5 346.5,603.5 347.0,603.5 347.5,603.5 348.0,603.5 348.5,603.5 349.0,603.5 349.5,603.5 350.0,603.5 350.5,603.5 351.0,603.5 351.2,603.5 351.4,603.5 351.5,603.5 352.0,603.5 352.5,603.5 353.0,603.5 353.5,603.5 354.0,603.5 354.5,603.5 355.0,603.5 355.4,603.5 355.9,603.5 356.4,603.5 356.9,603.5 357.4,603.5 357.9,603.5 358.4,603.5 358.9,603.5 359.4,603.5 359.9,603.5 360.4,603.5 360.9,603.5 361.4,603.5 361.9,603.5 362.4,603.5 362.9,603.5 363.4,603.5 363.9,603.5 364.4,603.5 364.9,603.5 365.0,603.5 365.1,603.5 365.3,603.5 365.8,603.5 366.3,603.5 366.8,603.5 367.3,603.5 367.8,603.5 368.3,603.5 368.8,603.5 369.3,603.5 369.8,603.5 370.3,603.5 370.8,603.5 371.3,603.5 371.8,603.5 372.3,603.5 372.8,603.5 373.3,603.5 373.8,603.5 374.3,603.5 374.8,603.5 375.2,603.5 375.7,603.5 376.2,603.5 376.7,603.5 377.2,603.5 377.7,603.5 378.2,603.5 378.7,603.5 379.2,603.5 379.7,603.5 380.2,603.5 380.7,603.5 380.9,603.5 381.1,603.5 381.2,603.5 381.7,603.5 382.2,603.5 382.3,603.5 382.4,603.5 382.7,603.5 383.2,603.5 383.7,603.5 384.2,603.5 384.7,603.5 385.1,603.5 385.6,603.5 386.1,603.5 386.6,603.5 387.1,603.5 387.6,603.5 388.1,603.5 388.4,603.5 388.5,603.5 388.6,603.5 389.1,603.5 389.6,603.5 390.1,603.5 390.6,603.5 391.1,603.5 391.6,603.5 392.1,603.5 392.6,603.5 393.1,603.5 393.6,603.5 394.1,603.5 394.6,603.5 395.0,603.5 395.5,603.5 396.0,603.5 396.5,603.5 397.0,603.5 397.5,603.5 398.0,603.5 398.5,603.5 399.0,603.5 399.5,603.5 400.0,603.5 400.5,603.5 401.0,603.5 401.5,603.5 402.0,603.5 402.5,603.5 403.0,603.5 403.5,603.5 404.0,603.5 404.5,603.5 405.0,603.5 405.4,603.5 405.9,603.5 406.4,603.5 406.9,603.5 407.4,603.5 407.9,603.5 408.4,603.5 408.9,603.5 409.4,603.5 409.9,603.5 410.4,603.5 410.9,603.5 411.4,603.5 411.9,603.5 412.4,603.5 412.9,603.5 413.4,603.5 413.9,603.5 414.4,603.5 414.9,603.5 415.3,603.5 415.8,603.5 416.3,603.5 416.8,603.5 417.3,603.5 417.8,603.5 418.3,603.5 418.8,603.5 419.3,603.5 419.8,603.5 420.3,603.5 420.8,603.5 421.3,603.5 421.8,603.5 422.3,603.5 422.8,603.5 423.3,603.5 423.8,603.5 424.3,603.5 424.8,603.5 425.2,603.5 425.7,603.5 426.2,603.5 426.7,603.5 427.2,603.5 427.7,603.5 428.2,603.5 428.6,603.5 428.7,603.5 428.8,603.5 429.2,603.5 429.7,603.5 430.2,603.5 430.7,603.5 431.2,603.5 431.7,603.5 432.2,603.5 432.7,603.5 433.2,603.5 433.7,603.5 434.2,603.5 434.7,603.5 435.1,603.5 435.6,603.5 436.1,603.5 436.6,603.5 437.1,603.5 437.6,603.5 437.9,603.5 438.0,603.5 438.1,603.5 438.6,603.5 439.1,603.5 439.6,603.5 440.1,603.5 440.6,603.5 441.1,603.5 441.6,603.5 442.1,603.5 442.6,603.5 443.1,603.5 443.6,603.5 444.1,603.5 444.6,603.5 445.0,603.5 445.5,603.5 446.0,603.5 446.5,603.5 447.0,603.5 447.5,603.5 448.0,603.5 448.5,603.5 449.0,603.5 449.5,603.5 450.0,603.5 450.5,603.5 451.0,603.5 451.5,603.5 452.0,603.5 452.5,603.5 453.0,603.5 453.5,603.5 454.0,603.5 454.5,603.5 454.9,603.5 455.2,603.5 455.3,603.5 455.4,603.5 455.9,603.5 456.4,603.5 456.6,603.5 456.7,603.5 456.9,603.5 457.4,603.5 457.7,603.5 457.8,603.5 457.9,603.5 458.4,603.5 458.9,603.5 459.4,603.5 459.9,603.5 460.4,603.5 460.9,603.5 461.4,603.5 461.9,603.5 462.4,603.5 462.6,603.5 462.7,603.5 462.9,603.5 463.4,603.5 463.9,603.5 464.4,603.5 464.8,603.5 465.3,603.5 465.8,603.5 466.3,603.5 466.8,603.5 467.3,603.5 467.8,603.5 468.3,603.5 468.8,603.5 469.3,603.5 469.8,603.5 470.3,603.5 470.8,603.5 471.3,603.5 471.8,603.5 472.3,603.5 472.8,603.5 473.3,603.5 473.8,603.5 474.3,603.5 474.7,603.5 475.2,603.5 475.7,603.5 476.2,603.5 476.7,603.5 477.2,603.5 477.7,603.5 478.2,603.5 478.7,603.5 479.2,603.5 479.7,603.5 480.2,603.5 480.7,603.5 481.2,603.5 481.7,603.5 482.2,603.5 482.7,603.5 483.2,603.5 483.7,603.5 484.2,603.5 484.3,603.5 484.4,603.5" fill="none" stroke="#1fb5b5" stroke-width="1.55" stroke-linejoin="round" />
<line x1="186.46" y1="325.80" x2="186.46" y2="603.54" stroke="#c030c8" stroke-width="3.6" />
<line x1="187.76" y1="325.80" x2="187.76" y2="603.54" stroke="#ff30ff" stroke-width="1.2" />
<line x1="82.20" y1="603.54" x2="484.40" y2="603.54" stroke="#1fb5b5" stroke-width="1.4" />
<line x1="175.02" y1="359.7" x2="175.02" y2="619.9" stroke="#f4b060" stroke-width="1.5" stroke-dasharray="2,2.4"/>
<rect x="82.20" y="325.80" width="402.20" height="295.10" fill="none" stroke="#6e6e6e" stroke-width="2.3"/>
<line x1="76.20" y1="603.54" x2="82.20" y2="603.54" stroke="#6e6e6e" stroke-width="2" />
<text x="69.70" y="612.54" font-size="29.5" fill="#111" text-anchor="end" >0</text>
<line x1="76.20" y1="516.75" x2="82.20" y2="516.75" stroke="#6e6e6e" stroke-width="2" />
<text x="69.70" y="525.75" font-size="29.5" fill="#111" text-anchor="end" >5</text>
<line x1="76.20" y1="429.95" x2="82.20" y2="429.95" stroke="#6e6e6e" stroke-width="2" />
<text x="69.70" y="438.95" font-size="29.5" fill="#111" text-anchor="end" >10</text>
<line x1="76.20" y1="343.16" x2="82.20" y2="343.16" stroke="#6e6e6e" stroke-width="2" />
<text x="69.70" y="352.16" font-size="29.5" fill="#111" text-anchor="end" >15</text>
<line x1="78.70" y1="560.14" x2="82.20" y2="560.14" stroke="#6e6e6e" stroke-width="1.6" />
<line x1="78.70" y1="473.35" x2="82.20" y2="473.35" stroke="#6e6e6e" stroke-width="1.6" />
<line x1="78.70" y1="386.56" x2="82.20" y2="386.56" stroke="#6e6e6e" stroke-width="1.6" />
<line x1="113.14" y1="620.90" x2="113.14" y2="626.90" stroke="#6e6e6e" stroke-width="2" />
<text x="112.14" y="653.20" font-size="29.5" fill="#111" text-anchor="middle" >-1</text>
<line x1="175.02" y1="620.90" x2="175.02" y2="626.90" stroke="#6e6e6e" stroke-width="2" />
<text x="175.02" y="653.20" font-size="29.5" fill="#111" text-anchor="middle" >0</text>
<line x1="236.89" y1="620.90" x2="236.89" y2="626.90" stroke="#6e6e6e" stroke-width="2" />
<text x="236.89" y="653.20" font-size="29.5" fill="#111" text-anchor="middle" >1</text>
<line x1="298.77" y1="620.90" x2="298.77" y2="626.90" stroke="#6e6e6e" stroke-width="2" />
<text x="298.77" y="653.20" font-size="29.5" fill="#111" text-anchor="middle" >2</text>
<line x1="360.65" y1="620.90" x2="360.65" y2="626.90" stroke="#6e6e6e" stroke-width="2" />
<text x="360.65" y="653.20" font-size="29.5" fill="#111" text-anchor="middle" >3</text>
<line x1="422.52" y1="620.90" x2="422.52" y2="626.90" stroke="#6e6e6e" stroke-width="2" />
<text x="422.52" y="653.20" font-size="29.5" fill="#111" text-anchor="middle" >4</text>
<line x1="484.40" y1="620.90" x2="484.40" y2="626.90" stroke="#6e6e6e" stroke-width="2" />
<text x="484.40" y="653.20" font-size="29.5" fill="#111" text-anchor="middle" >5</text>
<line x1="82.20" y1="620.90" x2="82.20" y2="624.40" stroke="#6e6e6e" stroke-width="1.6" />
<line x1="144.08" y1="620.90" x2="144.08" y2="624.40" stroke="#6e6e6e" stroke-width="1.6" />
<line x1="205.95" y1="620.90" x2="205.95" y2="624.40" stroke="#6e6e6e" stroke-width="1.6" />
<line x1="267.83" y1="620.90" x2="267.83" y2="624.40" stroke="#6e6e6e" stroke-width="1.6" />
<line x1="329.71" y1="620.90" x2="329.71" y2="624.40" stroke="#6e6e6e" stroke-width="1.6" />
<line x1="391.58" y1="620.90" x2="391.58" y2="624.40" stroke="#6e6e6e" stroke-width="1.6" />
<line x1="453.46" y1="620.90" x2="453.46" y2="624.40" stroke="#6e6e6e" stroke-width="1.6" />
<text x="101.30" y="351.00" font-size="20.5" fill="#f5a040" textLength="105.70" lengthAdjust="spacingAndGlyphs" >Fermi level</text>
<text x="273.00" y="358.90" font-size="27.5" fill="#000" font-weight="bold" textLength="197.50" lengthAdjust="spacingAndGlyphs" ><tspan>Cu</tspan><tspan font-size="19.80" dy="5.50">1</tspan><tspan dy="-5.50">-N</tspan><tspan font-size="19.80" dy="5.50">1</tspan><tspan dy="-5.50">O</tspan><tspan font-size="19.80" dy="5.50">2</tspan><tspan dy="-5.50"> site</tspan></text>
<line x1="283.00" y1="395.80" x2="329.80" y2="395.80" stroke="#111111" stroke-width="2.0" />
<text x="336.80" y="403.80" font-size="28.5" fill="#000" font-weight="bold" textLength="62.80" lengthAdjust="spacingAndGlyphs" ><tspan>Total</tspan></text>
<line x1="283.00" y1="428.30" x2="329.80" y2="428.30" stroke="#ff1a1a" stroke-width="2.0" />
<text x="336.80" y="438.70" font-size="28.5" fill="#000" font-weight="bold" textLength="60.80" lengthAdjust="spacingAndGlyphs" ><tspan>C 2</tspan><tspan font-style="italic">p</tspan></text>
<line x1="283.00" y1="461.20" x2="329.80" y2="461.20" stroke="#1a1aff" stroke-width="2.0" />
<text x="336.80" y="471.60" font-size="28.5" fill="#000" font-weight="bold" textLength="60.80" lengthAdjust="spacingAndGlyphs" ><tspan>N 2</tspan><tspan font-style="italic">p</tspan></text>
<line x1="283.00" y1="494.20" x2="329.80" y2="494.20" stroke="#ff1aff" stroke-width="2.0" />
<text x="336.80" y="503.50" font-size="28.5" fill="#000" font-weight="bold" textLength="60.80" lengthAdjust="spacingAndGlyphs" ><tspan>O 2</tspan><tspan font-style="italic">p</tspan></text>
<line x1="283.00" y1="526.10" x2="329.80" y2="526.10" stroke="#1fb5b5" stroke-width="2.0" />
<text x="336.80" y="536.40" font-size="28.5" fill="#000" font-weight="bold" textLength="77.80" lengthAdjust="spacingAndGlyphs" ><tspan>Cu 3</tspan><tspan font-style="italic">d</tspan></text>
<text x="0" y="0" font-size="49.93" font-weight="bold" fill="#000" transform="translate(-1.01 360.20) scale(0.914 1)">b</text>
<text x="27.00" y="575.60" font-size="37" fill="#000" font-weight="bold" textLength="208.50" lengthAdjust="spacingAndGlyphs" transform="rotate(-90 27.00 575.60)" >DOS (sate/eV)</text>
<text x="178.70" y="684.00" font-size="32" fill="#000" font-weight="bold" textLength="171.30" lengthAdjust="spacingAndGlyphs" >Energy (eV)</text>
<polyline points="584.0,600.0 584.5,600.0 585.0,600.0 585.5,600.0 586.0,600.0 586.5,600.0 587.0,600.0 587.5,600.0 588.0,600.0 588.5,600.0 589.0,600.0 589.5,600.0 590.0,600.0 590.5,600.0 591.0,600.0 591.5,600.0 592.0,600.0 592.5,600.0 593.0,600.0 593.5,600.0 594.0,600.0 594.5,600.0 595.0,600.0 595.5,600.0 595.9,600.0 596.4,600.0 596.9,600.0 597.4,578.8 597.9,522.3 598.2,486.3 598.3,466.7 598.4,486.3 598.9,553.4 599.4,553.5 599.6,548.4 599.7,553.5 599.9,563.1 600.1,567.6 600.2,571.9 600.3,576.0 600.4,579.9 600.9,387.3 601.3,325.8 601.4,325.8 601.5,325.8 601.9,387.3 602.4,581.7 602.9,600.0 603.4,600.0 603.9,600.0 604.4,600.0 604.9,600.0 605.4,600.0 605.9,600.0 606.4,600.0 606.9,600.0 607.4,600.0 607.9,600.0 608.4,600.0 608.9,600.0 609.4,600.0 609.9,600.0 610.4,600.0 610.9,600.0 611.4,600.0 611.9,600.0 612.4,600.0 612.9,600.0 613.4,600.0 613.9,600.0 614.4,600.0 614.9,600.0 615.4,600.0 615.9,600.0 616.4,600.0 616.9,600.0 617.4,600.0 617.9,600.0 618.4,600.0 618.8,600.0 619.3,600.0 619.8,600.0 620.3,600.0 620.8,600.0 621.3,600.0 621.8,600.0 622.3,600.0 622.8,600.0 623.3,600.0 623.8,600.0 624.3,600.0 624.8,600.0 625.3,600.0 625.8,600.0 626.3,600.0 626.8,600.0 627.3,600.0 627.8,600.0 628.3,600.0 628.8,600.0 629.3,600.0 629.8,600.0 630.3,600.0 630.8,600.0 631.3,600.0 631.8,600.0 632.3,600.0 632.8,600.0 633.0,600.0 633.2,600.0 633.3,600.0 633.8,600.0 634.3,600.0 634.8,600.0 635.3,600.0 635.8,600.0 636.3,600.0 636.8,600.0 637.3,600.0 637.8,600.0 638.3,600.0 638.8,600.0 639.3,600.0 639.8,600.0 640.3,600.0 640.8,600.0 641.3,600.0 641.8,600.0 642.2,600.0 642.7,600.0 643.2,600.0 643.7,600.0 644.2,600.0 644.7,600.0 645.2,600.0 645.7,600.0 646.2,600.0 646.7,600.0 647.2,600.0 647.7,600.0 648.2,600.0 648.7,600.0 649.2,600.0 649.7,600.0 650.2,600.0 650.7,600.0 651.2,600.0 651.7,600.0 652.2,600.0 652.7,600.0 653.2,600.0 653.7,600.0 654.2,600.0 654.7,600.0 655.2,600.0 655.7,600.0 656.2,600.0 656.7,600.0 657.2,600.0 657.7,600.0 658.2,600.0 658.7,600.0 659.2,600.0 659.7,600.0 660.2,600.0 660.7,600.0 661.2,600.0 661.7,600.0 662.2,600.0 662.7,600.0 663.2,600.0 663.7,600.0 664.2,600.0 664.7,600.0 665.1,600.0 665.6,600.0 666.1,600.0 666.6,600.0 667.1,600.0 667.6,600.0 668.1,600.0 668.6,600.0 669.1,600.0 669.6,600.0 670.1,600.0 670.6,600.0 671.1,600.0 671.6,600.0 672.1,600.0 672.6,600.0 673.1,600.0 673.6,600.0 674.1,600.0 674.6,600.0 675.1,600.0 675.6,600.0 676.1,600.0 676.6,600.0 677.1,600.0 677.6,600.0 678.1,600.0 678.6,600.0 679.1,600.0 679.6,600.0 680.1,600.0 680.6,600.0 681.1,600.0 681.6,600.0 682.1,600.0 682.6,600.0 683.1,600.0 683.6,600.0 684.1,600.0 684.6,600.0 685.1,600.0 685.6,600.0 686.1,600.0 686.6,600.0 687.1,600.0 687.6,600.0 688.0,600.0 688.5,600.0 689.0,600.0 689.5,600.0 690.0,600.0 690.5,600.0 691.0,600.0 691.5,600.0 692.0,600.0 692.5,600.0 693.0,600.0 693.5,600.0 694.0,600.0 694.5,600.0 695.0,600.0 695.5,600.0 696.0,600.0 696.5,599.7 697.0,599.5 697.5,599.3 698.0,599.2 698.5,599.0 699.0,598.9 699.5,598.8 700.0,598.7 700.5,598.7 701.0,598.7 701.5,598.8 702.0,598.8 702.5,598.9 703.0,599.0 703.5,599.2 704.0,599.3 704.5,599.4 705.0,599.4 705.5,599.5 706.0,599.5 706.5,599.4 707.0,599.2 707.5,599.2 708.0,599.6 708.5,600.0 709.0,599.0 709.5,598.0 710.0,597.4 710.5,597.2 711.0,596.9 711.4,596.9 711.9,597.1 712.4,597.4 712.9,597.4 713.4,597.2 713.9,596.9 714.4,596.6 714.9,596.7 715.4,596.8 715.9,595.9 716.4,594.8 716.9,593.9 717.4,592.8 717.7,592.1 717.8,591.8 717.9,592.3 718.4,594.0 718.9,595.4 719.4,596.6 719.9,597.6 720.4,597.7 720.9,597.3 721.4,597.0 721.9,597.0 722.4,597.6 722.9,598.0 723.4,598.2 723.9,598.2 724.4,598.2 724.9,598.2 725.4,598.1 725.9,597.9 726.4,598.7 726.9,599.5 727.4,599.4 727.9,598.2 728.4,597.1 728.9,597.3 729.4,597.5 729.9,597.6 730.4,597.6 730.9,597.1 731.4,596.6 731.9,596.1 732.4,596.1 732.9,596.8 733.4,597.5 733.9,598.2 734.3,597.5 734.8,596.8 735.3,596.1 735.8,596.0 736.3,596.7 736.8,597.3 737.3,597.0 737.8,596.7 738.3,596.4 738.8,597.6 739.3,599.2 739.8,598.2 740.3,595.2 740.8,591.4 741.3,592.1 741.8,589.1 742.3,584.8 742.6,582.5 742.7,581.1 742.8,582.2 743.3,586.5 743.8,590.1 744.3,590.1 744.8,591.4 745.3,592.7 745.8,594.0 746.3,594.8 746.8,595.0 747.3,594.5 747.8,591.1 748.3,582.0 748.8,570.9 748.9,567.8 749.0,570.9 749.3,576.6 749.8,586.7 750.3,592.1 750.8,593.3 751.3,593.7 751.8,593.8 752.3,593.2 752.8,592.4 753.3,592.3 753.8,590.4 754.3,576.6 754.8,556.1 755.0,543.4 755.1,536.7 755.3,543.3 755.8,566.7 756.3,584.3 756.8,592.2 757.3,592.9 757.7,593.2 758.2,593.4 758.7,588.0 759.2,581.1 759.4,579.2 759.5,577.2 759.6,579.2 759.7,581.2 760.2,588.3 760.7,583.1 761.2,574.7 761.4,572.4 761.5,574.5 761.7,578.4 762.2,583.9 762.7,587.6 763.2,588.8 763.7,588.7 764.2,590.2 764.7,591.8 765.2,592.7 765.7,592.9 766.2,592.7 766.7,592.4 767.2,592.2 767.7,592.3 768.2,592.3 768.7,592.4 769.2,591.8 769.7,591.2 770.2,590.6 770.7,590.6 771.2,591.2 771.7,591.9 772.2,592.5 772.7,593.7 773.2,596.8 773.7,599.4 774.2,599.7 774.7,599.2 775.2,598.8 775.7,598.7 776.2,598.7 776.7,598.6 777.2,598.3 777.7,598.3 778.2,598.5 778.7,598.6 779.2,598.7 779.7,598.8 780.2,598.8 780.6,598.7 781.1,598.6 781.6,598.5 782.1,598.7 782.6,599.2 783.1,600.0 783.6,600.0 784.1,600.0 784.6,600.0 785.1,598.2 785.6,591.4 786.1,584.6 786.6,581.4 787.1,576.0 787.6,559.8 788.0,545.1 788.1,539.8 788.2,545.3 788.6,560.6 789.1,548.3 789.2,544.3 789.4,540.2 789.5,544.5 789.6,548.6 790.1,563.3 790.6,574.9 791.1,582.4 791.6,577.2 792.1,561.8 792.3,553.0 792.5,548.4 792.6,553.2 793.1,570.7 793.6,583.6 794.1,587.4 794.6,585.2 795.1,583.0 795.6,576.0 796.1,565.9 796.6,545.3 796.7,538.3 796.8,530.9 797.0,537.7 797.1,544.1 797.6,564.1 798.1,572.7 798.6,579.8 799.1,583.3 799.6,588.0 800.1,593.6 800.6,600.0 801.1,600.0 801.6,600.0 802.1,600.0 802.6,600.0 803.1,600.0 803.6,600.0 804.0,600.0 804.5,600.0 805.0,600.0 805.5,600.0 806.0,600.0 806.5,600.0 807.0,600.0 807.5,600.0 808.0,600.0 808.5,600.0 809.0,600.0 809.5,600.0 810.0,600.0 810.5,600.0 811.0,600.0 811.5,600.0 812.0,600.0 812.5,600.0 813.0,600.0 813.5,600.0 814.0,600.0 814.5,600.0 815.0,600.0 815.5,600.0 816.0,600.0 816.5,600.0 817.0,600.0 817.5,600.0 818.0,600.0 818.5,600.0 819.0,600.0 819.5,600.0 820.0,600.0 820.5,600.0 821.0,600.0 821.5,600.0 822.0,600.0 822.5,600.0 823.0,600.0 823.5,600.0 824.0,600.0 824.5,600.0 825.0,600.0 825.5,600.0 826.0,600.0 826.5,600.0 826.9,600.0 827.4,600.0 827.9,600.0 828.4,600.0 828.9,600.0 829.4,600.0 829.9,600.0 830.4,600.0 830.9,600.0 831.4,600.0 831.9,600.0 832.4,600.0 832.9,600.0 833.4,600.0 833.9,600.0 834.4,600.0 834.9,600.0 835.4,600.0 835.9,600.0 836.4,600.0 836.9,600.0 837.4,600.0 837.9,600.0 838.4,600.0 838.9,600.0 839.4,600.0 839.9,600.0 840.4,600.0 840.9,600.0 841.4,600.0 841.9,600.0 842.4,600.0 842.9,600.0 843.4,600.0 843.9,600.0 844.4,600.0 844.9,600.0 845.4,600.0 845.9,600.0 846.4,600.0 846.9,600.0 847.4,600.0 847.9,600.0 848.4,600.0 848.9,600.0 849.4,600.0 849.8,600.0 850.3,600.0 850.8,600.0 851.3,600.0 851.8,600.0 852.3,600.0 852.8,600.0 853.3,600.0 853.8,600.0 854.3,600.0 854.8,600.0 855.3,600.0 855.8,600.0 856.3,600.0 856.8,600.0 857.3,600.0 857.8,600.0 858.3,600.0 858.8,600.0 859.3,600.0 859.8,600.0 860.3,600.0 860.8,600.0 861.3,598.1 861.8,596.1 862.3,595.2 862.8,596.0 863.3,595.6 863.8,594.7 864.3,593.8 864.8,593.5 865.3,593.9 865.8,594.3 866.3,594.7 866.8,594.8 867.3,594.9 867.8,594.7 868.3,594.5 868.8,594.4 869.3,594.3 869.8,594.1 870.3,593.7 870.8,593.4 871.3,582.0 871.8,560.8 872.0,548.3 872.1,541.6 872.3,548.2 872.6,544.7 872.8,537.9 872.9,544.5 873.2,562.4 873.7,582.4 874.2,593.5 874.7,592.2 875.2,590.4 875.7,588.3 876.2,585.8 876.4,585.2 876.5,584.5 876.6,585.3 876.7,585.3 877.2,574.3 877.6,563.9 877.7,560.2 877.9,563.9 878.2,574.3 878.7,585.9 879.2,593.1 879.7,592.9 880.2,592.1 880.7,593.1 881.2,594.1 881.7,596.1 882.2,598.2 882.7,600.0 883.2,598.2 883.7,596.3 884.2,595.2 884.7,595.0 885.2,594.8 885.7,594.9 886.2,595.1 886.7,595.3 887.2,595.5 887.7,595.4 888.2,595.3 888.7,595.1 889.2,595.4 889.7,595.0 890.2,594.7 890.7,594.3 891.2,594.9 891.7,595.5 892.2,594.5 892.7,594.1 893.2,594.6 893.7,595.1 894.2,595.6 894.7,595.3 895.2,595.0 895.7,594.7 896.1,594.8 896.6,595.2 897.1,595.6 897.6,595.5 898.1,595.6 898.6,595.0 899.1,594.4 899.6,594.4 900.1,594.9 900.6,595.5 901.1,596.0 901.6,595.5 902.1,594.9 902.6,594.4 903.1,594.2 903.6,594.4 904.1,594.6 904.6,594.8 905.1,594.7 905.6,594.6 906.1,594.4 906.6,594.2 907.1,593.9 907.6,593.7 908.1,593.4 908.6,594.4 909.1,595.3 909.6,595.7 910.1,595.7 910.6,595.5 911.1,595.4 911.6,596.1 912.1,598.3 912.6,600.0 913.1,595.6 913.6,590.5 914.1,587.7 914.6,587.3 915.1,586.9 915.6,587.3 916.1,587.8 916.6,588.2 917.1,588.5 917.6,588.6 918.1,588.8 918.6,588.9 919.1,588.4 919.5,587.8 920.0,587.3 920.5,587.7 921.0,588.8 921.5,590.0 922.0,591.2 922.5,592.3 923.0,592.7 923.5,593.0 924.0,593.6 924.5,594.4 925.0,594.9 925.5,594.9 926.0,594.5 926.5,594.2 927.0,593.9 927.5,593.0 928.0,591.6 928.5,590.3 929.0,587.0 929.5,579.2 930.0,568.0 930.5,554.2 930.6,550.4 930.7,554.4 931.0,562.0 931.5,575.5 932.0,586.1 932.5,592.1 933.0,591.3 933.5,590.4 934.0,589.5 934.5,588.6 935.0,587.6 935.5,586.6 936.0,585.6 936.5,586.5 937.0,586.9 937.5,583.3 938.0,576.7 938.5,567.8 938.6,565.3 938.7,562.7 938.8,565.3 939.0,567.7 939.5,576.4 940.0,584.4 940.5,590.0 941.0,589.2 941.5,589.2 942.0,589.5 942.4,588.0 942.9,586.4 943.4,587.3 943.9,588.2 944.4,589.0 944.9,589.7 945.4,590.2 945.9,589.9 946.4,588.4 946.9,588.4 947.4,588.3 947.9,588.2 948.4,587.9 948.9,587.4 949.4,586.9 949.9,586.4 950.4,587.7 950.9,589.1 951.4,590.0 951.9,588.9 952.4,587.8 952.9,586.7 953.4,585.6 953.9,586.9 954.4,588.2 954.9,589.4 955.4,590.4 955.9,591.0 956.4,589.6 956.9,587.4 957.4,584.0 957.9,578.2 958.4,570.6 958.9,561.3 959.1,556.0 959.3,553.2 959.4,556.0 959.9,566.6 960.4,563.8 960.5,562.1 960.6,564.4 960.9,569.0 961.4,577.4 961.9,584.8 962.4,590.0 962.9,589.3 963.4,585.2 963.9,579.6 964.4,571.7 964.7,565.0 964.9,562.7 965.0,564.9 965.4,571.3 965.8,578.5 966.3,584.3 966.8,588.6 967.3,590.6 967.8,590.0 968.3,588.0 968.8,586.0 969.3,586.4 969.8,589.1 970.3,585.0 970.8,578.9 971.0,577.4 971.1,575.9 971.2,577.4 971.3,579.0 971.8,584.6 972.3,586.3 972.8,585.9 973.3,587.6 973.8,589.3 974.3,587.9 974.8,588.7 975.3,589.1 975.8,588.1 976.3,587.5 976.8,587.2 977.3,586.9 977.8,586.7 978.3,587.4 978.8,588.0 979.3,588.7 979.8,588.8 980.3,588.4 980.8,587.9 981.3,587.4 981.8,588.7 982.3,589.9 982.8,590.3 983.3,589.6 983.8,589.8 984.3,590.0 984.8,590.2 985.3,590.6 985.8,590.7 986.3,590.8 986.8,590.5 987.3,589.7 987.8,593.3 988.3,597.6" fill="none" stroke="#111111" stroke-width="1.55" stroke-linejoin="round" />
<polyline points="584.0,600.8 584.5,600.8 585.0,600.8 585.5,600.8 586.0,600.8 586.5,600.8 587.0,600.8 587.5,600.8 588.0,600.8 588.5,600.8 589.0,600.8 589.5,600.8 590.0,600.8 590.5,600.8 591.0,600.8 591.5,600.8 592.0,600.8 592.5,600.8 593.0,600.8 593.5,600.8 594.0,600.8 594.5,600.8 595.0,600.8 595.5,600.8 595.9,600.8 596.4,600.8 596.9,600.8 597.4,600.8 597.9,600.8 598.2,600.8 598.3,600.8 598.4,600.8 598.9,600.8 599.4,600.8 599.6,600.8 599.7,600.8 599.9,600.8 600.1,600.8 600.2,600.8 600.3,600.8 600.4,600.8 600.9,600.8 601.3,600.8 601.4,600.8 601.5,600.8 601.9,600.8 602.4,600.8 602.9,600.8 603.4,600.8 603.9,600.8 604.4,600.8 604.9,600.8 605.4,600.8 605.9,600.8 606.4,600.8 606.9,600.8 607.4,600.8 607.9,600.8 608.4,600.8 608.9,600.8 609.4,600.8 609.9,600.8 610.4,600.8 610.9,600.8 611.4,600.8 611.9,600.8 612.4,600.8 612.9,600.8 613.4,600.8 613.9,600.8 614.4,600.8 614.9,600.8 615.4,600.8 615.9,600.8 616.4,600.8 616.9,600.8 617.4,600.8 617.9,600.8 618.4,600.8 618.8,600.8 619.3,600.8 619.8,600.8 620.3,600.8 620.8,600.8 621.3,600.8 621.8,600.8 622.3,600.8 622.8,600.8 623.3,600.8 623.8,600.8 624.3,600.8 624.8,600.8 625.3,600.8 625.8,600.8 626.3,600.8 626.8,600.8 627.3,600.8 627.8,600.8 628.3,600.8 628.8,600.8 629.3,600.8 629.8,600.8 630.3,600.8 630.8,600.8 631.3,600.8 631.8,600.8 632.3,600.8 632.8,600.8 633.0,600.8 633.2,600.8 633.3,600.8 633.8,600.8 634.3,600.8 634.8,600.8 635.3,600.8 635.8,600.8 636.3,600.8 636.8,600.8 637.3,600.8 637.8,600.8 638.3,600.8 638.8,600.8 639.3,600.8 639.8,600.8 640.3,600.8 640.8,600.8 641.3,600.8 641.8,600.8 642.2,600.8 642.7,600.8 643.2,600.8 643.7,600.8 644.2,600.8 644.7,600.8 645.2,600.8 645.7,600.8 646.2,600.8 646.7,600.8 647.2,600.8 647.7,600.8 648.2,600.8 648.7,600.8 649.2,600.8 649.7,600.8 650.2,600.8 650.7,600.8 651.2,600.8 651.7,600.8 652.2,600.8 652.7,600.8 653.2,600.8 653.7,600.8 654.2,600.8 654.7,600.8 655.2,600.8 655.7,600.8 656.2,600.8 656.7,600.8 657.2,600.8 657.7,600.8 658.2,600.8 658.7,600.8 659.2,600.8 659.7,600.8 660.2,600.8 660.7,600.8 661.2,600.8 661.7,600.8 662.2,600.8 662.7,600.8 663.2,600.8 663.7,600.8 664.2,600.8 664.7,600.8 665.1,600.8 665.6,600.8 666.1,600.8 666.6,600.8 667.1,600.8 667.6,600.8 668.1,600.8 668.6,600.8 669.1,600.8 669.6,600.8 670.1,600.8 670.6,600.8 671.1,600.8 671.6,600.8 672.1,600.8 672.6,600.8 673.1,600.8 673.6,600.8 674.1,600.8 674.6,600.8 675.1,600.8 675.6,600.8 676.1,600.8 676.6,600.8 677.1,600.8 677.6,600.8 678.1,600.8 678.6,600.8 679.1,600.8 679.6,600.8 680.1,600.8 680.6,600.8 681.1,600.8 681.6,600.8 682.1,600.8 682.6,600.8 683.1,600.8 683.6,600.8 684.1,600.8 684.6,600.8 685.1,600.8 685.6,600.8 686.1,600.8 686.6,600.8 687.1,600.8 687.6,600.8 688.0,600.8 688.5,600.8 689.0,600.8 689.5,600.8 690.0,600.8 690.5,600.8 691.0,600.8 691.5,600.8 692.0,600.8 692.5,600.8 693.0,600.8 693.5,600.8 694.0,600.8 694.5,600.8 695.0,600.8 695.5,600.8 696.0,600.8 696.5,600.7 697.0,600.5 697.5,600.4 698.0,600.4 698.5,600.4 699.0,600.4 699.5,600.4 700.0,600.4 700.5,600.3 701.0,600.4 701.5,600.4 702.0,600.5 702.5,600.6 703.0,600.5 703.5,600.4 704.0,600.3 704.5,600.3 705.0,600.4 705.5,600.4 706.0,600.5 706.5,600.3 707.0,600.1 707.5,600.1 708.0,600.5 708.5,600.8 709.0,600.1 709.5,599.5 710.0,598.9 710.5,598.7 711.0,598.4 711.4,598.3 711.9,598.3 712.4,598.3 712.9,598.3 713.4,598.3 713.9,598.3 714.4,598.4 714.9,598.2 715.4,597.6 715.9,596.8 716.4,595.7 716.9,594.7 717.4,593.6 717.7,593.0 717.8,592.7 717.9,593.2 718.4,594.9 718.9,596.3 719.4,597.5 719.9,598.5 720.4,598.9 720.9,599.0 721.4,598.6 721.9,598.5 722.4,598.7 722.9,598.8 723.4,599.0 723.9,599.0 724.4,599.0 724.9,599.0 725.4,599.0 725.9,598.8 726.4,599.5 726.9,600.3 727.4,600.2 727.9,599.1 728.4,598.0 728.9,598.1 729.4,598.3 729.9,598.5 730.4,598.7 730.9,598.6 731.4,598.5 731.9,598.4 732.4,598.5 732.9,598.7 733.4,598.9 733.9,599.2 734.3,599.4 734.8,599.5 735.3,599.7 735.8,599.5 736.3,598.9 736.8,598.4 737.3,597.8 737.8,597.6 738.3,597.3 738.8,598.5 739.3,600.0 739.8,599.0 740.3,596.1 740.8,593.9 741.3,593.9 741.8,593.9 742.3,593.9 742.6,593.9 742.7,593.7 742.8,593.5 743.3,592.6 743.8,591.8 744.3,591.0 744.8,592.3 745.3,593.6 745.8,594.9 746.3,595.6 746.8,595.8 747.3,595.4 747.8,592.8 748.3,588.2 748.8,582.7 748.9,581.2 749.0,582.4 749.3,584.7 749.8,589.1 750.3,592.9 750.8,595.2 751.3,595.6 751.8,594.9 752.3,594.1 752.8,593.3 753.3,593.1 753.8,591.2 754.3,577.5 754.8,556.9 755.0,544.3 755.1,537.5 755.3,544.1 755.8,567.5 756.3,585.2 756.8,593.5 757.3,593.8 757.7,594.0 758.2,594.3 758.7,594.5 759.2,594.7 759.4,594.8 759.5,594.9 759.6,594.9 759.7,595.0 760.2,594.8 760.7,594.4 761.2,593.9 761.4,593.7 761.5,593.6 761.7,593.4 762.2,592.9 762.7,592.4 763.2,592.0 763.7,592.0 764.2,592.5 764.7,593.0 765.2,593.6 765.7,593.7 766.2,593.9 766.7,594.1 767.2,594.1 767.7,593.9 768.2,593.8 768.7,593.6 769.2,593.1 769.7,592.5 770.2,592.0 770.7,592.1 771.2,592.9 771.7,593.6 772.2,594.4 772.7,595.2 773.2,597.8 773.7,600.2 774.2,600.5 774.7,600.1 775.2,599.7 775.7,599.6 776.2,599.5 776.7,599.4 777.2,599.3 777.7,599.3 778.2,599.4 778.7,599.5 779.2,599.5 779.7,599.7 780.2,599.9 780.6,600.1 781.1,600.1 781.6,600.0 782.1,600.1 782.6,600.4 783.1,600.8 783.6,600.8 784.1,600.8 784.6,600.8 785.1,599.4 785.6,595.3 786.1,593.2 786.6,589.7 787.1,587.0 787.6,583.6 788.0,577.2 788.1,574.9 788.2,572.4 788.6,563.5 789.1,549.2 789.2,545.2 789.4,541.0 789.5,545.3 789.6,549.5 790.1,564.1 790.6,575.8 791.1,583.2 791.6,584.4 792.1,585.4 792.3,585.9 792.5,586.2 792.6,586.4 793.1,587.4 793.6,588.4 794.1,589.4 794.6,590.4 795.1,591.1 795.6,586.2 796.1,569.5 796.6,546.2 796.7,539.1 796.8,531.7 797.0,538.5 797.1,545.0 797.6,567.5 798.1,583.5 798.6,587.7 799.1,586.8 799.6,588.8 800.1,594.4 800.6,600.8 801.1,600.8 801.6,600.8 802.1,600.8 802.6,600.8 803.1,600.8 803.6,600.8 804.0,600.8 804.5,600.8 805.0,600.8 805.5,600.8 806.0,600.8 806.5,600.8 807.0,600.8 807.5,600.8 808.0,600.8 808.5,600.8 809.0,600.8 809.5,600.8 810.0,600.8 810.5,600.8 811.0,600.8 811.5,600.8 812.0,600.8 812.5,600.8 813.0,600.8 813.5,600.8 814.0,600.8 814.5,600.8 815.0,600.8 815.5,600.8 816.0,600.8 816.5,600.8 817.0,600.8 817.5,600.8 818.0,600.8 818.5,600.8 819.0,600.8 819.5,600.8 820.0,600.8 820.5,600.8 821.0,600.8 821.5,600.8 822.0,600.8 822.5,600.8 823.0,600.8 823.5,600.8 824.0,600.8 824.5,600.8 825.0,600.8 825.5,600.8 826.0,600.8 826.5,600.8 826.9,600.8 827.4,600.8 827.9,600.8 828.4,600.8 828.9,600.8 829.4,600.8 829.9,600.8 830.4,600.8 830.9,600.8 831.4,600.8 831.9,600.8 832.4,600.8 832.9,600.8 833.4,600.8 833.9,600.8 834.4,600.8 834.9,600.8 835.4,600.8 835.9,600.8 836.4,600.8 836.9,600.8 837.4,600.8 837.9,600.8 838.4,600.8 838.9,600.8 839.4,600.8 839.9,600.8 840.4,600.8 840.9,600.8 841.4,600.8 841.9,600.8 842.4,600.8 842.9,600.8 843.4,600.8 843.9,600.8 844.4,600.8 844.9,600.8 845.4,600.8 845.9,600.8 846.4,600.8 846.9,600.8 847.4,600.8 847.9,600.8 848.4,600.8 848.9,600.8 849.4,600.8 849.8,600.8 850.3,600.8 850.8,600.8 851.3,600.8 851.8,600.8 852.3,600.8 852.8,600.8 853.3,600.8 853.8,600.8 854.3,600.8 854.8,600.8 855.3,600.8 855.8,600.8 856.3,600.8 856.8,600.8 857.3,600.8 857.8,600.8 858.3,600.8 858.8,600.8 859.3,600.8 859.8,600.8 860.3,600.8 860.8,600.8 861.3,598.9 861.8,597.0 862.3,596.1 862.8,596.8 863.3,596.8 863.8,596.8 864.3,596.7 864.8,596.7 865.3,596.7 865.8,596.7 866.3,596.6 866.8,596.3 867.3,595.9 867.8,595.6 868.3,595.4 868.8,595.3 869.3,595.2 869.8,595.1 870.3,595.4 870.8,595.8 871.3,595.8 871.8,584.0 872.0,574.8 872.1,569.6 872.3,564.0 872.6,545.5 872.8,538.8 872.9,545.3 873.2,563.3 873.7,583.2 874.2,595.4 874.7,596.2 875.2,596.2 875.7,595.8 876.2,592.9 876.4,591.5 876.5,589.9 876.6,588.1 876.7,586.2 877.2,577.9 877.6,570.6 877.7,568.0 877.9,570.7 878.2,578.4 878.7,587.3 879.2,594.0 879.7,596.8 880.2,597.2 880.7,597.4 881.2,597.5 881.7,598.3 882.2,599.5 882.7,600.8 883.2,599.4 883.7,597.5 884.2,596.4 884.7,596.1 885.2,595.8 885.7,595.9 886.2,596.3 886.7,596.7 887.2,597.1 887.7,596.9 888.2,596.7 888.7,596.5 889.2,596.3 889.7,595.9 890.2,595.5 890.7,595.2 891.2,595.8 891.7,596.3 892.2,596.9 892.7,597.3 893.2,597.4 893.7,597.5 894.2,597.5 894.7,597.3 895.2,597.0 895.7,596.7 896.1,596.6 896.6,596.5 897.1,596.4 897.6,596.4 898.1,596.9 898.6,597.4 899.1,597.9 899.6,598.0 900.1,597.7 900.6,597.4 901.1,597.1 901.6,597.5 902.1,598.0 902.6,598.5 903.1,598.4 903.6,597.7 904.1,597.0 904.6,596.4 905.1,596.4 905.6,596.4 906.1,596.4 906.6,596.4 907.1,596.3 907.6,596.2 908.1,596.2 908.6,596.3 909.1,596.5 909.6,596.6 910.1,596.6 910.6,596.4 911.1,596.2 911.6,597.0 912.1,599.2 912.6,600.8 913.1,598.5 913.6,596.3 914.1,594.1 914.6,593.0 915.1,592.0 915.6,592.3 916.1,592.7 916.6,593.1 917.1,593.5 917.6,594.0 918.1,594.5 918.6,595.0 919.1,594.0 919.5,593.0 920.0,592.1 920.5,591.8 921.0,592.1 921.5,592.5 922.0,592.9 922.5,593.2 923.0,593.5 923.5,593.9 924.0,594.4 924.5,595.3 925.0,596.1 925.5,596.9 926.0,596.3 926.5,595.8 927.0,595.2 927.5,594.6 928.0,594.1 928.5,593.5 929.0,593.0 929.5,592.9 930.0,592.8 930.5,592.6 930.6,592.6 930.7,592.6 931.0,593.1 931.5,594.1 932.0,595.0 932.5,596.0 933.0,594.5 933.5,592.9 934.0,591.4 934.5,590.7 935.0,590.9 935.5,591.0 936.0,591.2 936.5,591.0 937.0,590.6 937.5,587.4 938.0,583.0 938.5,577.9 938.6,576.5 938.7,575.0 938.8,576.8 939.0,578.6 939.5,585.3 940.0,588.9 940.5,590.9 941.0,590.1 941.5,590.1 942.0,591.1 942.4,592.1 942.9,593.1 943.4,593.5 943.9,594.0 944.4,594.4 944.9,593.8 945.4,592.3 945.9,590.8 946.4,589.3 946.9,589.2 947.4,589.1 947.9,589.1 948.4,588.8 948.9,588.3 949.4,587.8 949.9,587.2 950.4,588.6 950.9,589.9 951.4,591.3 951.9,592.0 952.4,592.0 952.9,592.1 953.4,592.2 953.9,593.0 954.4,593.8 954.9,594.7 955.4,594.2 955.9,592.3 956.4,590.5 956.9,588.2 957.4,584.8 957.9,579.0 958.4,571.5 958.9,562.2 959.1,556.8 959.3,554.1 959.4,556.9 959.9,567.4 960.4,576.7 960.5,578.7 960.6,580.6 960.9,584.1 961.4,589.5 961.9,591.5 962.4,591.9 962.9,590.1 963.4,586.1 963.9,580.5 964.4,572.5 964.7,565.9 964.9,563.5 965.0,565.8 965.4,572.1 965.8,579.4 966.3,585.2 966.8,589.4 967.3,591.4 967.8,592.3 968.3,593.2 968.8,594.1 969.3,594.3 969.8,593.9 970.3,593.4 970.8,593.0 971.0,593.3 971.1,593.6 971.2,593.8 971.3,594.1 971.8,595.1 972.3,596.2 972.8,595.6 973.3,593.3 973.8,591.0 974.3,588.7 974.8,589.5 975.3,590.3 975.8,591.1 976.3,591.2 976.8,590.5 977.3,589.8 977.8,589.2 978.3,590.0 978.8,590.9 979.3,591.8 979.8,592.8 980.3,593.8 980.8,594.8 981.3,595.9 981.8,594.3 982.3,592.7 982.8,591.2 983.3,590.5 983.8,590.7 984.3,590.9 984.8,591.1 985.3,591.9 985.8,592.7 986.3,593.5 986.8,594.4 987.3,595.2 987.8,598.0 988.3,600.0" fill="none" stroke="#ff1a1a" stroke-width="1.55" stroke-linejoin="round" />
<polyline points="584.0,600.8 584.5,600.8 585.0,600.8 585.5,600.8 586.0,600.8 586.5,600.8 587.0,600.8 587.5,600.8 588.0,600.8 588.5,600.8 589.0,600.8 589.5,600.8 590.0,600.8 590.5,600.8 591.0,600.8 591.5,600.8 592.0,600.8 592.5,600.8 593.0,600.8 593.5,600.8 594.0,600.8 594.5,600.8 595.0,600.8 595.5,600.8 595.9,600.8 596.4,600.8 596.9,600.8 597.4,600.8 597.9,598.3 598.2,593.7 598.3,590.9 598.4,587.8 598.9,572.7 599.4,554.3 599.6,549.2 599.7,554.3 599.9,563.9 600.1,568.4 600.2,572.7 600.3,576.8 600.4,580.7 600.9,593.7 601.3,599.9 601.4,600.8 601.5,600.8 601.9,600.8 602.4,600.8 602.9,600.8 603.4,600.8 603.9,600.8 604.4,600.8 604.9,600.8 605.4,600.8 605.9,600.8 606.4,600.8 606.9,600.8 607.4,600.8 607.9,600.8 608.4,600.8 608.9,600.8 609.4,600.8 609.9,600.8 610.4,600.8 610.9,600.8 611.4,600.8 611.9,600.8 612.4,600.8 612.9,600.8 613.4,600.8 613.9,600.8 614.4,600.8 614.9,600.8 615.4,600.8 615.9,600.8 616.4,600.8 616.9,600.8 617.4,600.8 617.9,600.8 618.4,600.8 618.8,600.8 619.3,600.8 619.8,600.8 620.3,600.8 620.8,600.8 621.3,600.8 621.8,600.8 622.3,600.8 622.8,600.8 623.3,600.8 623.8,600.8 624.3,600.8 624.8,600.8 625.3,600.8 625.8,600.8 626.3,600.8 626.8,600.8 627.3,600.8 627.8,600.8 628.3,600.8 628.8,600.8 629.3,600.8 629.8,600.8 630.3,600.8 630.8,600.8 631.3,600.8 631.8,600.8 632.3,600.8 632.8,600.8 633.0,600.8 633.2,600.8 633.3,600.8 633.8,600.8 634.3,600.8 634.8,600.8 635.3,600.8 635.8,600.8 636.3,600.8 636.8,600.8 637.3,600.8 637.8,600.8 638.3,600.8 638.8,600.8 639.3,600.8 639.8,600.8 640.3,600.8 640.8,600.8 641.3,600.8 641.8,600.8 642.2,600.8 642.7,600.8 643.2,600.8 643.7,600.8 644.2,600.8 644.7,600.8 645.2,600.8 645.7,600.8 646.2,600.8 646.7,600.8 647.2,600.8 647.7,600.8 648.2,600.8 648.7,600.8 649.2,600.8 649.7,600.8 650.2,600.8 650.7,600.8 651.2,600.8 651.7,600.8 652.2,600.8 652.7,600.8 653.2,600.8 653.7,600.8 654.2,600.8 654.7,600.8 655.2,600.8 655.7,600.8 656.2,600.8 656.7,600.8 657.2,600.8 657.7,600.8 658.2,600.8 658.7,600.8 659.2,600.8 659.7,600.8 660.2,600.8 660.7,600.8 661.2,600.8 661.7,600.8 662.2,600.8 662.7,600.8 663.2,600.8 663.7,600.8 664.2,600.8 664.7,600.8 665.1,600.8 665.6,600.8 666.1,600.8 666.6,600.8 667.1,600.8 667.6,600.8 668.1,600.8 668.6,600.8 669.1,600.8 669.6,600.8 670.1,600.8 670.6,600.8 671.1,600.8 671.6,600.8 672.1,600.8 672.6,600.8 673.1,600.8 673.6,600.8 674.1,600.8 674.6,600.8 675.1,600.8 675.6,600.8 676.1,600.8 676.6,600.8 677.1,600.8 677.6,600.8 678.1,600.8 678.6,600.8 679.1,600.8 679.6,600.8 680.1,600.8 680.6,600.8 681.1,600.8 681.6,600.8 682.1,600.8 682.6,600.8 683.1,600.8 683.6,600.8 684.1,600.8 684.6,600.8 685.1,600.8 685.6,600.8 686.1,600.8 686.6,600.8 687.1,600.8 687.6,600.8 688.0,600.8 688.5,600.8 689.0,600.8 689.5,600.8 690.0,600.8 690.5,600.8 691.0,600.8 691.5,600.8 692.0,600.8 692.5,600.8 693.0,600.8 693.5,600.8 694.0,600.8 694.5,600.8 695.0,600.8 695.5,600.8 696.0,600.8 696.5,600.5 697.0,600.3 697.5,600.2 698.0,600.0 698.5,599.9 699.0,599.7 699.5,599.7 700.0,599.6 700.5,599.5 701.0,599.5 701.5,599.6 702.0,599.7 702.5,599.8 703.0,599.9 703.5,600.0 704.0,600.2 704.5,600.3 705.0,600.3 705.5,600.3 706.0,600.4 706.5,600.2 707.0,600.1 707.5,600.1 708.0,600.4 708.5,600.8 709.0,599.8 709.5,598.9 710.0,598.2 710.5,598.0 711.0,597.8 711.4,597.8 711.9,598.0 712.4,598.2 712.9,598.4 713.4,598.1 713.9,597.8 714.4,597.5 714.9,597.5 715.4,598.0 715.9,598.5 716.4,598.9 716.9,598.8 717.4,598.8 717.7,598.7 717.8,598.7 717.9,598.7 718.4,598.7 718.9,598.8 719.4,598.9 719.9,598.9 720.4,598.6 720.9,598.2 721.4,597.8 721.9,597.9 722.4,598.4 722.9,598.9 723.4,599.4 723.9,599.3 724.4,599.2 724.9,599.1 725.4,599.1 725.9,599.3 726.4,600.0 726.9,600.6 727.4,600.5 727.9,599.6 728.4,598.5 728.9,598.4 729.4,598.4 729.9,598.5 730.4,598.5 730.9,598.0 731.4,597.4 731.9,596.9 732.4,597.0 732.9,597.7 733.4,598.4 733.9,599.1 734.3,598.3 734.8,597.6 735.3,596.9 735.8,596.9 736.3,597.5 736.8,598.2 737.3,598.8 737.8,598.9 738.3,599.0 738.8,599.8 739.3,600.4 739.8,599.5 740.3,596.3 740.8,592.3 741.3,592.9 741.8,593.6 742.3,594.3 742.6,594.6 742.7,594.8 742.8,595.0 743.3,595.7 743.8,596.5 744.3,597.2 744.8,597.1 745.3,596.9 745.8,596.7 746.3,596.8 746.8,597.1 747.3,597.4 747.8,597.7 748.3,596.4 748.8,595.1 748.9,594.8 749.0,594.5 749.3,593.8 749.8,593.4 750.3,593.8 750.8,594.2 751.3,594.6 751.8,594.7 752.3,594.8 752.8,594.9 753.3,595.4 753.8,594.7 754.3,586.2 754.8,573.1 755.0,564.0 755.1,559.1 755.3,563.1 755.8,577.3 756.3,587.7 756.8,593.0 757.3,594.2 757.7,595.3 758.2,596.5 758.7,596.5 759.2,596.6 759.4,596.6 759.5,596.6 759.6,596.3 759.7,595.6 760.2,590.8 760.7,583.9 761.2,575.5 761.4,573.2 761.5,575.3 761.7,579.3 762.2,584.7 762.7,588.5 763.2,589.7 763.7,589.5 764.2,591.1 764.7,592.6 765.2,594.2 765.7,593.9 766.2,593.5 766.7,593.2 767.2,593.1 767.7,593.1 768.2,593.2 768.7,593.3 769.2,592.7 769.7,592.1 770.2,591.4 770.7,591.5 771.2,592.1 771.7,592.7 772.2,593.3 772.7,594.6 773.2,597.6 773.7,600.2 774.2,600.6 774.7,600.3 775.2,600.1 775.7,600.1 776.2,599.8 776.7,599.5 777.2,599.2 777.7,599.1 778.2,599.3 778.7,599.5 779.2,599.8 779.7,599.7 780.2,599.6 780.6,599.6 781.1,599.5 781.6,599.3 782.1,599.5 782.6,600.1 783.1,600.8 783.6,600.8 784.1,600.8 784.6,600.8 785.1,599.1 785.6,592.2 786.1,585.5 786.6,582.3 787.1,577.2 787.6,570.0 788.0,563.2 788.1,560.5 788.2,562.9 788.6,569.5 789.1,576.9 789.2,578.4 789.4,579.8 789.5,581.1 789.6,582.2 790.1,586.1 790.6,587.6 791.1,589.2 791.6,590.4 792.1,591.1 792.3,591.5 792.5,591.7 792.6,591.9 793.1,592.6 793.6,590.5 794.1,588.3 794.6,586.1 795.1,583.8 795.6,576.9 796.1,566.8 796.6,554.4 796.7,551.2 796.8,547.9 797.0,551.1 797.1,554.1 797.6,565.0 798.1,573.6 798.6,580.6 799.1,584.2 799.6,589.9 800.1,596.6 800.6,600.8 801.1,600.8 801.6,600.8 802.1,600.8 802.6,600.8 803.1,600.8 803.6,600.8 804.0,600.8 804.5,600.8 805.0,600.8 805.5,600.8 806.0,600.8 806.5,600.8 807.0,600.8 807.5,600.8 808.0,600.8 808.5,600.8 809.0,600.8 809.5,600.8 810.0,600.8 810.5,600.8 811.0,600.8 811.5,600.8 812.0,600.8 812.5,600.8 813.0,600.8 813.5,600.8 814.0,600.8 814.5,600.8 815.0,600.8 815.5,600.8 816.0,600.8 816.5,600.8 817.0,600.8 817.5,600.8 818.0,600.8 818.5,600.8 819.0,600.8 819.5,600.8 820.0,600.8 820.5,600.8 821.0,600.8 821.5,600.8 822.0,600.8 822.5,600.8 823.0,600.8 823.5,600.8 824.0,600.8 824.5,600.8 825.0,600.8 825.5,600.8 826.0,600.8 826.5,600.8 826.9,600.8 827.4,600.8 827.9,600.8 828.4,600.8 828.9,600.8 829.4,600.8 829.9,600.8 830.4,600.8 830.9,600.8 831.4,600.8 831.9,600.8 832.4,600.8 832.9,600.8 833.4,600.8 833.9,600.8 834.4,600.8 834.9,600.8 835.4,600.8 835.9,600.8 836.4,600.8 836.9,600.8 837.4,600.8 837.9,600.8 838.4,600.8 838.9,600.8 839.4,600.8 839.9,600.8 840.4,600.8 840.9,600.8 841.4,600.8 841.9,600.8 842.4,600.8 842.9,600.8 843.4,600.8 843.9,600.8 844.4,600.8 844.9,600.8 845.4,600.8 845.9,600.8 846.4,600.8 846.9,600.8 847.4,600.8 847.9,600.8 848.4,600.8 848.9,600.8 849.4,600.8 849.8,600.8 850.3,600.8 850.8,600.8 851.3,600.8 851.8,600.8 852.3,600.8 852.8,600.8 853.3,600.8 853.8,600.8 854.3,600.8 854.8,600.8 855.3,600.8 855.8,600.8 856.3,600.8 856.8,600.8 857.3,600.8 857.8,600.8 858.3,600.8 858.8,600.8 859.3,600.8 859.8,600.8 860.3,600.8 860.8,600.8 861.3,599.3 861.8,597.7 862.3,596.9 862.8,597.4 863.3,596.5 863.8,595.6 864.3,594.6 864.8,594.4 865.3,594.8 865.8,595.2 866.3,595.6 866.8,595.7 867.3,595.8 867.8,595.8 868.3,595.8 868.8,595.5 869.3,595.2 869.8,594.9 870.3,594.6 870.8,594.2 871.3,593.9 871.8,593.8 872.0,594.0 872.1,594.0 872.3,594.1 872.6,594.3 872.8,594.4 872.9,594.4 873.2,594.6 873.7,594.7 874.2,594.4 874.7,593.1 875.2,591.3 875.7,589.2 876.2,586.7 876.4,586.0 876.5,585.3 876.6,586.2 876.7,587.0 877.2,589.7 877.6,591.6 877.7,592.1 877.9,592.7 878.2,594.1 878.7,595.0 879.2,594.6 879.7,593.7 880.2,592.9 880.7,594.0 881.2,595.0 881.7,597.0 882.2,599.0 882.7,600.8 883.2,599.1 883.7,597.1 884.2,596.0 884.7,595.9 885.2,595.7 885.7,595.7 886.2,595.9 886.7,596.1 887.2,596.4 887.7,596.2 888.2,596.1 888.7,596.0 889.2,596.3 889.7,597.2 890.2,598.0 890.7,598.8 891.2,597.6 891.7,596.5 892.2,595.3 892.7,595.0 893.2,595.5 893.7,596.0 894.2,596.4 894.7,596.1 895.2,595.8 895.7,595.5 896.1,595.6 896.6,596.1 897.1,596.6 897.6,597.0 898.1,596.4 898.6,595.9 899.1,595.3 899.6,595.3 900.1,595.8 900.6,596.3 901.1,596.8 901.6,596.3 902.1,595.8 902.6,595.3 903.1,595.1 903.6,595.3 904.1,595.5 904.6,595.7 905.1,595.6 905.6,595.4 906.1,595.3 906.6,595.1 907.1,594.8 907.6,594.5 908.1,594.3 908.6,595.2 909.1,596.2 909.6,597.1 910.1,597.5 910.6,597.4 911.1,597.3 911.6,597.9 912.1,599.2 912.6,600.8 913.1,596.4 913.6,591.4 914.1,588.6 914.6,588.2 915.1,587.7 915.6,588.2 916.1,588.6 916.6,589.1 917.1,589.4 917.6,589.5 918.1,589.6 918.6,589.7 919.1,589.2 919.5,588.7 920.0,588.2 920.5,588.5 921.0,589.7 921.5,590.9 922.0,592.1 922.5,593.2 923.0,594.2 923.5,595.3 924.0,595.9 924.5,595.8 925.0,595.8 925.5,595.7 926.0,595.4 926.5,595.1 927.0,594.7 927.5,593.9 928.0,592.5 928.5,591.1 929.0,587.9 929.5,580.1 930.0,568.9 930.5,555.1 930.6,551.3 930.7,555.2 931.0,562.9 931.5,576.4 932.0,586.9 932.5,593.0 933.0,592.1 933.5,591.3 934.0,590.4 934.5,589.5 935.0,588.4 935.5,587.4 936.0,586.4 936.5,587.3 937.0,587.8 937.5,584.1 938.0,577.5 938.5,568.6 938.6,566.2 938.7,563.6 938.8,566.1 939.0,568.5 939.5,577.3 940.0,585.3 940.5,590.8 941.0,592.3 941.5,592.0 942.0,590.4 942.4,588.8 942.9,587.3 943.4,588.1 943.9,589.0 944.4,589.9 944.9,590.6 945.4,591.0 945.9,591.5 946.4,592.0 946.9,592.2 947.4,592.4 947.9,592.5 948.4,592.8 948.9,593.3 949.4,593.8 949.9,594.3 950.4,593.1 950.9,592.0 951.4,590.9 951.9,589.7 952.4,588.7 952.9,587.6 953.4,586.5 953.9,587.8 954.4,589.0 954.9,590.3 955.4,591.2 955.9,591.9 956.4,592.5 956.9,593.2 957.4,593.0 957.9,592.8 958.4,591.1 958.9,586.5 959.1,583.6 959.3,582.0 959.4,580.3 959.9,573.0 960.4,564.7 960.5,562.9 960.6,565.3 960.9,569.9 961.4,578.3 961.9,585.7 962.4,590.9 962.9,593.4 963.4,593.1 963.9,592.6 964.4,592.4 964.7,592.2 964.9,592.2 965.0,592.1 965.4,592.0 965.8,592.0 966.3,592.3 966.8,592.6 967.3,592.9 967.8,590.9 968.3,588.9 968.8,586.9 969.3,587.2 969.8,589.9 970.3,592.6 970.8,595.3 971.0,594.6 971.1,593.9 971.2,593.3 971.3,592.6 971.8,589.9 972.3,587.2 972.8,586.7 973.3,588.4 973.8,590.1 974.3,591.8 974.8,590.9 975.3,589.9 975.8,589.0 976.3,588.3 976.8,588.1 977.3,587.8 977.8,587.5 978.3,588.2 978.8,588.9 979.3,589.6 979.8,589.7 980.3,589.2 980.8,588.8 981.3,588.3 981.8,589.5 982.3,590.7 982.8,592.0 983.3,592.4 983.8,592.1 984.3,591.7 984.8,591.4 985.3,591.5 985.8,591.6 986.3,591.7 986.8,591.3 987.3,590.5 987.8,594.2 988.3,598.4" fill="none" stroke="#1a1aff" stroke-width="1.55" stroke-linejoin="round" />
<polyline points="584.0,600.8 584.5,600.8 585.0,600.8 585.5,600.8 586.0,600.8 586.5,600.8 587.0,600.8 587.5,600.8 588.0,600.8 588.5,600.8 589.0,600.8 589.5,600.8 590.0,600.8 590.5,600.8 591.0,600.8 591.5,600.8 592.0,600.8 592.5,600.8 593.0,600.8 593.5,600.8 594.0,600.8 594.5,600.8 595.0,600.8 595.5,600.8 595.9,600.8 596.4,600.8 596.9,600.8 597.4,578.8 597.9,522.3 598.2,486.3 598.3,466.7 598.4,482.3 598.9,508.8 599.4,488.7 599.6,474.5 599.7,455.1 599.9,413.6 600.1,391.6 600.2,368.8 600.3,391.6 600.4,413.6 600.9,493.0 601.3,542.1 601.4,556.2 601.5,568.9 601.9,596.8 602.4,600.8 602.9,600.8 603.4,600.8 603.9,600.8 604.4,600.8 604.9,600.8 605.4,600.8 605.9,600.8 606.4,600.8 606.9,600.8 607.4,600.8 607.9,600.8 608.4,600.8 608.9,600.8 609.4,600.8 609.9,600.8 610.4,600.8 610.9,600.8 611.4,600.8 611.9,600.8 612.4,600.8 612.9,600.8 613.4,600.8 613.9,600.8 614.4,600.8 614.9,600.8 615.4,600.8 615.9,600.8 616.4,600.8 616.9,600.8 617.4,600.8 617.9,600.8 618.4,600.8 618.8,600.8 619.3,600.8 619.8,600.8 620.3,600.8 620.8,600.8 621.3,600.8 621.8,600.8 622.3,600.8 622.8,600.8 623.3,600.8 623.8,600.8 624.3,600.8 624.8,600.8 625.3,600.8 625.8,600.8 626.3,600.8 626.8,600.8 627.3,600.8 627.8,600.8 628.3,600.8 628.8,600.8 629.3,600.8 629.8,600.8 630.3,600.8 630.8,600.8 631.3,600.8 631.8,600.8 632.3,600.8 632.8,418.5 633.0,325.8 633.2,325.8 633.3,325.8 633.8,565.7 634.3,600.8 634.8,600.8 635.3,600.8 635.8,600.8 636.3,600.8 636.8,600.8 637.3,600.8 637.8,600.8 638.3,600.8 638.8,600.8 639.3,600.8 639.8,600.8 640.3,600.8 640.8,600.8 641.3,600.8 641.8,600.8 642.2,600.8 642.7,600.8 643.2,600.8 643.7,600.8 644.2,600.8 644.7,600.8 645.2,600.8 645.7,600.8 646.2,600.8 646.7,600.8 647.2,600.8 647.7,600.8 648.2,600.8 648.7,600.8 649.2,600.8 649.7,600.8 650.2,600.8 650.7,600.8 651.2,600.8 651.7,600.8 652.2,600.8 652.7,600.8 653.2,600.8 653.7,600.8 654.2,600.8 654.7,600.8 655.2,600.8 655.7,600.8 656.2,600.8 656.7,600.8 657.2,600.8 657.7,600.8 658.2,600.8 658.7,600.8 659.2,600.8 659.7,600.8 660.2,600.8 660.7,600.8 661.2,600.8 661.7,600.8 662.2,600.8 662.7,600.8 663.2,600.8 663.7,600.8 664.2,600.8 664.7,600.8 665.1,600.8 665.6,600.8 666.1,600.8 666.6,600.8 667.1,600.8 667.6,600.8 668.1,600.8 668.6,600.8 669.1,600.8 669.6,600.8 670.1,600.8 670.6,600.8 671.1,600.8 671.6,600.8 672.1,600.8 672.6,600.8 673.1,600.8 673.6,600.8 674.1,600.8 674.6,600.8 675.1,600.8 675.6,600.8 676.1,600.8 676.6,600.8 677.1,600.8 677.6,600.8 678.1,600.8 678.6,600.8 679.1,600.8 679.6,600.8 680.1,600.8 680.6,600.8 681.1,600.8 681.6,600.8 682.1,600.8 682.6,600.8 683.1,600.8 683.6,600.8 684.1,600.8 684.6,600.8 685.1,600.8 685.6,600.8 686.1,600.8 686.6,600.8 687.1,600.8 687.6,600.8 688.0,600.8 688.5,600.8 689.0,600.8 689.5,600.8 690.0,600.8 690.5,600.8 691.0,600.8 691.5,600.8 692.0,600.8 692.5,600.8 693.0,600.8 693.5,600.8 694.0,600.8 694.5,600.8 695.0,600.8 695.5,600.8 696.0,600.8 696.5,600.8 697.0,600.8 697.5,600.8 698.0,600.8 698.5,600.8 699.0,600.8 699.5,600.8 700.0,600.8 700.5,600.8 701.0,600.8 701.5,600.8 702.0,600.8 702.5,600.8 703.0,600.8 703.5,600.8 704.0,600.8 704.5,600.8 705.0,600.8 705.5,600.8 706.0,600.8 706.5,600.8 707.0,600.8 707.5,600.8 708.0,600.8 708.5,600.8 709.0,600.8 709.5,600.8 710.0,600.8 710.5,600.8 711.0,600.8 711.4,600.8 711.9,600.8 712.4,600.8 712.9,600.8 713.4,600.8 713.9,600.8 714.4,600.8 714.9,600.8 715.4,600.8 715.9,600.8 716.4,600.8 716.9,600.8 717.4,600.8 717.7,600.8 717.8,600.8 717.9,600.8 718.4,600.8 718.9,600.8 719.4,600.8 719.9,600.8 720.4,600.8 720.9,600.8 721.4,600.8 721.9,600.8 722.4,600.8 722.9,600.8 723.4,600.8 723.9,600.8 724.4,600.8 724.9,600.8 725.4,600.8 725.9,600.8 726.4,600.8 726.9,600.8 727.4,600.8 727.9,600.8 728.4,600.8 728.9,600.8 729.4,600.8 729.9,600.8 730.4,600.8 730.9,600.8 731.4,600.8 731.9,600.8 732.4,600.8 732.9,600.8 733.4,600.8 733.9,600.8 734.3,600.8 734.8,600.8 735.3,600.8 735.8,600.8 736.3,600.8 736.8,600.8 737.3,600.8 737.8,600.8 738.3,600.8 738.8,600.8 739.3,600.8 739.8,600.7 740.3,600.5 740.8,600.3 741.3,600.1 741.8,600.0 742.3,599.9 742.6,599.8 742.7,599.8 742.8,599.8 743.3,599.8 743.8,599.9 744.3,599.9 744.8,599.9 745.3,600.0 745.8,600.0 746.3,600.0 746.8,600.1 747.3,600.2 747.8,600.2 748.3,600.3 748.8,600.4 748.9,600.4 749.0,600.4 749.3,600.4 749.8,600.4 750.3,600.4 750.8,600.3 751.3,600.2 751.8,600.3 752.3,600.3 752.8,600.4 753.3,600.4 753.8,600.3 754.3,600.2 754.8,600.1 755.0,600.1 755.1,600.1 755.3,600.1 755.8,600.2 756.3,600.2 756.8,600.2 757.3,600.3 757.7,600.3 758.2,600.3 758.7,600.3 759.2,600.2 759.4,600.2 759.5,600.2 759.6,600.2 759.7,600.2 760.2,600.1 760.7,600.0 761.2,599.9 761.4,599.9 761.5,599.9 761.7,599.8 762.2,599.9 762.7,599.9 763.2,600.0 763.7,600.0 764.2,599.9 764.7,599.8 765.2,599.7 765.7,599.7 766.2,599.8 766.7,599.9 767.2,599.9 767.7,600.0 768.2,600.0 768.7,600.0 769.2,600.1 769.7,600.1 770.2,600.1 770.7,600.1 771.2,599.9 771.7,599.7 772.2,599.6 772.7,599.7 773.2,599.8 773.7,599.9 774.2,600.0 774.7,600.0 775.2,600.1 775.7,600.1 776.2,600.0 776.7,599.9 777.2,599.8 777.7,599.7 778.2,599.9 778.7,600.0 779.2,600.1 779.7,600.0 780.2,600.0 780.6,599.9 781.1,599.8 781.6,599.8 782.1,599.7 782.6,599.7 783.1,599.7 783.6,599.7 784.1,599.8 784.6,599.8 785.1,599.9 785.6,600.0 786.1,600.1 786.6,600.0 787.1,600.0 787.6,599.9 788.0,599.9 788.1,599.9 788.2,599.9 788.6,599.9 789.1,599.8 789.2,599.8 789.4,599.8 789.5,599.8 789.6,599.8 790.1,599.8 790.6,599.8 791.1,599.9 791.6,599.9 792.1,600.0 792.3,600.1 792.5,600.1 792.6,600.2 793.1,600.3 793.6,600.2 794.1,600.1 794.6,600.0 795.1,600.0 795.6,600.0 796.1,600.1 796.6,600.2 796.7,600.2 796.8,600.2 797.0,600.2 797.1,600.2 797.6,600.2 798.1,600.3 798.6,600.2 799.1,600.1 799.6,600.0 800.1,599.9 800.6,600.1 801.1,600.5 801.6,600.7 802.1,600.8 802.6,600.8 803.1,600.8 803.6,600.8 804.0,600.8 804.5,600.8 805.0,600.8 805.5,600.8 806.0,600.8 806.5,600.8 807.0,600.8 807.5,600.8 808.0,600.8 808.5,600.8 809.0,600.8 809.5,600.8 810.0,600.8 810.5,600.8 811.0,600.8 811.5,600.8 812.0,600.8 812.5,600.8 813.0,600.8 813.5,600.8 814.0,600.8 814.5,600.8 815.0,600.8 815.5,600.8 816.0,600.8 816.5,600.8 817.0,600.8 817.5,600.8 818.0,600.8 818.5,600.8 819.0,600.8 819.5,600.8 820.0,600.8 820.5,600.8 821.0,600.8 821.5,600.8 822.0,600.8 822.5,600.8 823.0,600.8 823.5,600.8 824.0,600.8 824.5,600.8 825.0,600.8 825.5,600.8 826.0,600.8 826.5,600.8 826.9,600.8 827.4,600.8 827.9,600.8 828.4,600.8 828.9,600.8 829.4,600.8 829.9,600.8 830.4,600.8 830.9,600.8 831.4,600.8 831.9,600.8 832.4,600.8 832.9,600.8 833.4,600.8 833.9,600.8 834.4,600.8 834.9,600.8 835.4,600.8 835.9,600.8 836.4,600.8 836.9,600.8 837.4,600.8 837.9,600.8 838.4,600.8 838.9,600.8 839.4,600.8 839.9,600.8 840.4,600.8 840.9,600.8 841.4,600.8 841.9,600.8 842.4,600.8 842.9,600.8 843.4,600.8 843.9,600.8 844.4,600.8 844.9,600.8 845.4,600.8 845.9,600.8 846.4,600.8 846.9,600.8 847.4,600.8 847.9,600.8 848.4,600.8 848.9,600.8 849.4,600.8 849.8,600.8 850.3,600.8 850.8,600.8 851.3,600.8 851.8,600.8 852.3,600.8 852.8,600.8 853.3,600.8 853.8,600.8 854.3,600.8 854.8,600.8 855.3,600.8 855.8,600.8 856.3,600.8 856.8,600.8 857.3,600.8 857.8,600.8 858.3,600.8 858.8,600.8 859.3,600.8 859.8,600.8 860.3,600.8 860.8,600.8 861.3,600.8 861.8,600.8 862.3,600.8 862.8,600.8 863.3,600.8 863.8,600.8 864.3,600.4 864.8,599.6 865.3,598.7 865.8,598.7 866.3,598.7 866.8,598.7 867.3,598.7 867.8,598.7 868.3,598.6 868.8,598.2 869.3,597.9 869.8,597.6 870.3,597.9 870.8,598.1 871.3,598.4 871.8,598.5 872.0,598.5 872.1,598.4 872.3,598.4 872.6,598.4 872.8,598.3 872.9,598.3 873.2,598.3 873.7,598.7 874.2,599.0 874.7,599.4 875.2,599.5 875.7,599.2 876.2,598.9 876.4,598.8 876.5,598.7 876.6,598.7 876.7,598.6 877.2,598.7 877.6,598.8 877.7,598.8 877.9,598.8 878.2,598.9 878.7,598.9 879.2,598.9 879.7,598.9 880.2,598.8 880.7,599.1 881.2,599.3 881.7,599.5 882.2,599.5 882.7,599.3 883.2,599.1 883.7,598.8 884.2,599.1 884.7,599.4 885.2,599.6 885.7,599.6 886.2,599.1 886.7,598.6 887.2,598.2 887.7,598.3 888.2,598.3 888.7,598.4 889.2,598.5 889.7,598.6 890.2,598.7 890.7,598.8 891.2,598.6 891.7,598.4 892.2,598.2 892.7,598.3 893.2,598.6 893.7,598.9 894.2,599.2 894.7,598.9 895.2,598.7 895.7,598.4 896.1,598.4 896.6,598.7 897.1,599.0 897.6,599.2 898.1,599.1 898.6,599.0 899.1,598.9 899.6,598.8 900.1,598.6 900.6,598.4 901.1,598.3 901.6,598.7 902.1,599.1 902.6,599.5 903.1,599.5 903.6,599.0 904.1,598.5 904.6,598.1 905.1,598.3 905.6,598.6 906.1,598.9 906.6,598.8 907.1,598.5 907.6,598.1 908.1,597.7 908.6,597.7 909.1,597.8 909.6,597.8 910.1,597.9 910.6,598.0 911.1,598.1 911.6,598.2 912.1,598.1 912.6,597.9 913.1,597.7 913.6,597.7 914.1,597.9 914.6,598.1 915.1,598.3 915.6,598.3 916.1,598.2 916.6,598.2 917.1,598.3 917.6,598.4 918.1,598.5 918.6,598.7 919.1,598.5 919.5,598.4 920.0,598.3 920.5,598.4 921.0,598.8 921.5,599.2 922.0,599.6 922.5,599.4 923.0,599.1 923.5,598.9 924.0,598.7 924.5,598.5 925.0,598.3 925.5,598.2 926.0,598.1 926.5,598.1 927.0,598.0 927.5,598.1 928.0,598.3 928.5,598.4 929.0,598.6 929.5,598.5 930.0,598.4 930.5,598.3 930.6,598.3 930.7,598.3 931.0,598.4 931.5,598.8 932.0,599.1 932.5,599.4 933.0,599.0 933.5,598.6 934.0,598.2 934.5,598.1 935.0,598.5 935.5,598.8 936.0,599.1 936.5,598.9 937.0,598.6 937.5,598.3 938.0,598.3 938.5,598.6 938.6,598.6 938.7,598.7 938.8,598.7 939.0,598.8 939.5,599.0 940.0,598.8 940.5,598.7 941.0,598.5 941.5,598.3 942.0,598.2 942.4,598.1 942.9,598.0 943.4,598.1 943.9,598.1 944.4,598.1 944.9,598.3 945.4,598.6 945.9,598.9 946.4,599.2 946.9,598.8 947.4,598.5 947.9,598.1 948.4,598.0 948.9,598.3 949.4,598.5 949.9,598.7 950.4,598.8 950.9,598.9 951.4,598.9 951.9,598.9 952.4,598.8 952.9,598.7 953.4,598.6 953.9,598.7 954.4,598.8 954.9,598.9 955.4,598.8 955.9,598.6 956.4,598.3 956.9,598.1 957.4,598.2 957.9,598.2 958.4,598.3 958.9,598.4 959.1,598.6 959.3,598.7 959.4,598.7 959.9,599.0 960.4,599.3 960.5,599.3 960.6,599.3 960.9,599.3 961.4,599.4 961.9,599.4 962.4,599.4 962.9,599.4 963.4,599.5 963.9,599.6 964.4,599.3 964.7,599.0 964.9,599.0 965.0,598.9 965.4,598.7 965.8,598.7 966.3,599.1 966.8,599.4 967.3,599.7 967.8,599.6 968.3,599.5 968.8,599.4 969.3,599.2 969.8,598.9 970.3,598.6 970.8,598.2 971.0,598.3 971.1,598.4 971.2,598.5 971.3,598.6 971.8,599.0 972.3,599.3 972.8,599.4 973.3,599.2 973.8,599.0 974.3,598.8 974.8,598.8 975.3,598.8 975.8,598.8 976.3,598.9 976.8,599.0 977.3,599.1 977.8,599.2 978.3,599.1 978.8,598.9 979.3,598.8 979.8,598.8 980.3,598.9 980.8,599.0 981.3,599.2 981.8,599.1 982.3,599.0 982.8,598.9 983.3,598.8 983.8,598.8 984.3,598.7 984.8,598.7 985.3,598.4 985.8,598.2 986.3,598.0 986.8,598.0 987.3,598.4 987.8,599.6 988.3,600.5" fill="none" stroke="#129a12" stroke-width="1.55" stroke-linejoin="round" />
<line x1="633.16" y1="325.80" x2="633.16" y2="600.81" stroke="#129a12" stroke-width="2.4" />
<line x1="677.35" y1="368" x2="677.35" y2="617.0" stroke="#f4b060" stroke-width="1.5" stroke-dasharray="2,2.4"/>
<rect x="584.00" y="325.80" width="404.50" height="292.20" fill="none" stroke="#6e6e6e" stroke-width="2.3"/>
<line x1="578.00" y1="600.81" x2="584.00" y2="600.81" stroke="#6e6e6e" stroke-width="2" />
<text x="571.50" y="609.81" font-size="29.5" fill="#111" text-anchor="end" >0</text>
<line x1="578.00" y1="514.87" x2="584.00" y2="514.87" stroke="#6e6e6e" stroke-width="2" />
<text x="571.50" y="523.87" font-size="29.5" fill="#111" text-anchor="end" >5</text>
<line x1="578.00" y1="428.93" x2="584.00" y2="428.93" stroke="#6e6e6e" stroke-width="2" />
<text x="571.50" y="437.93" font-size="29.5" fill="#111" text-anchor="end" >10</text>
<line x1="578.00" y1="342.99" x2="584.00" y2="342.99" stroke="#6e6e6e" stroke-width="2" />
<text x="571.50" y="351.99" font-size="29.5" fill="#111" text-anchor="end" >15</text>
<line x1="580.50" y1="557.84" x2="584.00" y2="557.84" stroke="#6e6e6e" stroke-width="1.6" />
<line x1="580.50" y1="471.90" x2="584.00" y2="471.90" stroke="#6e6e6e" stroke-width="1.6" />
<line x1="580.50" y1="385.96" x2="584.00" y2="385.96" stroke="#6e6e6e" stroke-width="1.6" />
<line x1="615.12" y1="618.00" x2="615.12" y2="624.00" stroke="#6e6e6e" stroke-width="2" />
<text x="614.12" y="650.30" font-size="29.5" fill="#111" text-anchor="middle" >-1</text>
<line x1="677.35" y1="618.00" x2="677.35" y2="624.00" stroke="#6e6e6e" stroke-width="2" />
<text x="677.35" y="650.30" font-size="29.5" fill="#111" text-anchor="middle" >0</text>
<line x1="739.58" y1="618.00" x2="739.58" y2="624.00" stroke="#6e6e6e" stroke-width="2" />
<text x="739.58" y="650.30" font-size="29.5" fill="#111" text-anchor="middle" >1</text>
<line x1="801.81" y1="618.00" x2="801.81" y2="624.00" stroke="#6e6e6e" stroke-width="2" />
<text x="801.81" y="650.30" font-size="29.5" fill="#111" text-anchor="middle" >2</text>
<line x1="864.04" y1="618.00" x2="864.04" y2="624.00" stroke="#6e6e6e" stroke-width="2" />
<text x="864.04" y="650.30" font-size="29.5" fill="#111" text-anchor="middle" >3</text>
<line x1="926.27" y1="618.00" x2="926.27" y2="624.00" stroke="#6e6e6e" stroke-width="2" />
<text x="926.27" y="650.30" font-size="29.5" fill="#111" text-anchor="middle" >4</text>
<line x1="988.50" y1="618.00" x2="988.50" y2="624.00" stroke="#6e6e6e" stroke-width="2" />
<text x="988.50" y="650.30" font-size="29.5" fill="#111" text-anchor="middle" >5</text>
<line x1="584.00" y1="618.00" x2="584.00" y2="621.50" stroke="#6e6e6e" stroke-width="1.6" />
<line x1="646.23" y1="618.00" x2="646.23" y2="621.50" stroke="#6e6e6e" stroke-width="1.6" />
<line x1="708.46" y1="618.00" x2="708.46" y2="621.50" stroke="#6e6e6e" stroke-width="1.6" />
<line x1="770.69" y1="618.00" x2="770.69" y2="621.50" stroke="#6e6e6e" stroke-width="1.6" />
<line x1="832.92" y1="618.00" x2="832.92" y2="621.50" stroke="#6e6e6e" stroke-width="1.6" />
<line x1="895.15" y1="618.00" x2="895.15" y2="621.50" stroke="#6e6e6e" stroke-width="1.6" />
<line x1="957.38" y1="618.00" x2="957.38" y2="621.50" stroke="#6e6e6e" stroke-width="1.6" />
<text x="659.00" y="350.00" font-size="20.5" fill="#f5a040" textLength="106.00" lengthAdjust="spacingAndGlyphs" >Fermi level</text>
<text x="816.00" y="358.60" font-size="27.5" fill="#000" font-weight="bold" textLength="159.00" lengthAdjust="spacingAndGlyphs" ><tspan>Cu</tspan><tspan font-size="19.80" dy="5.50">1</tspan><tspan dy="-5.50">-N</tspan><tspan font-size="19.80" dy="5.50">3</tspan><tspan dy="-5.50"> site</tspan></text>
<line x1="768.00" y1="394.30" x2="818.00" y2="394.30" stroke="#111111" stroke-width="2.0" />
<text x="821.00" y="402.50" font-size="28.5" fill="#000" font-weight="bold" textLength="63.00" lengthAdjust="spacingAndGlyphs" ><tspan>Total</tspan></text>
<line x1="768.00" y1="427.50" x2="818.00" y2="427.50" stroke="#ff1a1a" stroke-width="2.0" />
<text x="821.00" y="437.50" font-size="28.5" fill="#000" font-weight="bold" textLength="62.00" lengthAdjust="spacingAndGlyphs" ><tspan>C 2</tspan><tspan font-style="italic">p</tspan></text>
<line x1="768.00" y1="457.50" x2="818.00" y2="457.50" stroke="#1a1aff" stroke-width="2.0" />
<text x="821.00" y="468.50" font-size="28.5" fill="#000" font-weight="bold" textLength="62.00" lengthAdjust="spacingAndGlyphs" ><tspan>N 2</tspan><tspan font-style="italic">p</tspan></text>
<line x1="768.00" y1="489.50" x2="818.00" y2="489.50" stroke="#129a12" stroke-width="2.0" />
<text x="821.00" y="500.50" font-size="28.5" fill="#000" font-weight="bold" textLength="80.00" lengthAdjust="spacingAndGlyphs" ><tspan>Cu 3</tspan><tspan font-style="italic">d</tspan></text>
<text x="0" y="0" font-size="48.54" font-weight="bold" fill="#000" transform="translate(508.11 352.51) scale(0.996 1)">c</text>
<text x="535.00" y="575.90" font-size="37" fill="#000" font-weight="bold" textLength="210.00" lengthAdjust="spacingAndGlyphs" transform="rotate(-90 535.00 575.90)" >DOS (sate/eV)</text>
<text x="701.60" y="683.50" font-size="32" fill="#000" font-weight="bold" textLength="169.70" lengthAdjust="spacingAndGlyphs" >Energy (eV)</text>
<polyline points="1085.7,600.5 1086.2,600.5 1086.7,600.5 1087.2,600.5 1087.7,600.5 1088.2,600.5 1088.7,600.5 1089.2,600.5 1089.7,600.5 1090.2,600.5 1090.7,600.5 1091.2,600.5 1091.7,600.5 1092.2,600.5 1092.7,600.5 1093.2,600.5 1093.7,600.5 1094.2,600.5 1094.7,600.5 1095.2,600.5 1095.7,600.5 1096.2,600.5 1096.3,600.5 1096.5,600.5 1096.7,600.5 1097.2,600.5 1097.7,600.5 1098.2,600.5 1098.7,600.5 1099.2,600.5 1099.7,600.5 1100.2,600.5 1100.7,600.5 1101.2,600.5 1101.7,600.5 1102.2,600.5 1102.7,600.5 1103.2,600.5 1103.7,600.5 1104.2,600.5 1104.7,600.5 1105.2,600.5 1105.7,600.5 1106.2,600.5 1106.7,600.5 1107.2,600.5 1107.7,600.5 1108.2,600.5 1108.7,600.5 1109.2,600.5 1109.7,600.5 1110.2,600.5 1110.7,600.5 1111.2,600.5 1111.7,600.5 1112.2,600.5 1112.7,600.5 1113.2,600.5 1113.7,600.5 1114.2,600.5 1114.7,600.5 1115.0,600.5 1115.1,600.5 1115.2,600.5 1115.7,600.5 1116.2,600.5 1116.7,600.5 1117.3,600.5 1117.8,600.5 1118.3,600.5 1118.8,600.5 1119.3,600.5 1119.8,600.5 1120.3,600.5 1120.8,600.5 1121.3,600.5 1121.8,600.5 1122.3,600.5 1122.8,600.5 1123.3,600.5 1123.8,600.5 1124.3,600.5 1124.8,600.5 1125.3,600.5 1125.8,600.5 1126.3,600.5 1126.8,600.5 1127.3,600.5 1127.8,600.5 1128.3,600.5 1128.8,600.5 1129.3,600.5 1129.8,600.5 1130.3,600.5 1130.8,600.5 1131.3,600.5 1131.8,600.5 1132.3,600.5 1132.8,600.5 1133.3,600.5 1133.8,600.5 1134.3,600.5 1134.8,600.5 1135.3,600.5 1135.8,600.5 1136.3,600.5 1136.8,600.5 1137.3,600.5 1137.8,600.5 1138.3,600.5 1138.8,600.5 1139.3,600.5 1139.8,600.5 1140.3,600.5 1140.8,600.5 1141.3,600.5 1141.8,600.5 1142.3,600.5 1142.8,600.5 1143.3,600.5 1143.8,600.5 1144.3,600.5 1144.8,600.5 1145.3,600.5 1145.8,600.5 1146.3,600.5 1146.8,600.5 1147.3,600.5 1147.8,600.5 1148.3,600.5 1148.8,600.5 1149.3,600.5 1149.8,600.5 1150.3,600.5 1150.8,600.5 1151.3,600.5 1151.8,600.5 1152.3,600.5 1152.8,600.5 1153.3,600.5 1153.8,600.5 1154.3,599.4 1154.8,546.7 1155.1,506.4 1155.2,483.7 1155.3,506.4 1155.8,578.7 1156.3,600.5 1156.8,600.5 1157.3,600.5 1157.8,600.5 1158.3,600.5 1158.8,600.5 1159.3,600.5 1159.8,600.5 1160.3,600.5 1160.8,600.5 1161.3,600.5 1161.8,600.5 1162.3,600.5 1162.6,600.5 1162.7,600.5 1162.8,600.5 1163.3,600.5 1163.8,600.5 1164.3,600.5 1164.8,600.5 1165.3,600.5 1165.8,600.5 1166.3,600.5 1166.8,600.5 1167.3,600.5 1167.8,600.5 1168.3,600.5 1168.8,600.5 1169.3,600.5 1169.8,600.5 1170.3,600.5 1170.8,600.5 1171.3,600.5 1171.8,600.5 1172.3,600.5 1172.8,600.5 1173.3,594.7 1173.8,585.3 1174.3,573.5 1174.5,570.2 1174.6,566.8 1174.7,570.2 1174.8,573.5 1175.3,585.3 1175.8,594.7 1176.3,575.8 1176.8,512.4 1177.0,492.6 1177.1,471.6 1177.2,492.6 1177.3,512.4 1177.8,576.4 1178.2,597.9 1178.3,598.5 1178.5,599.1 1178.8,600.4 1179.3,600.5 1179.9,600.5 1180.4,600.5 1180.9,600.5 1181.4,600.5 1181.9,600.5 1182.4,600.5 1182.9,600.1 1183.4,596.3 1183.9,582.6 1184.4,558.7 1184.5,551.8 1184.6,544.4 1184.7,551.7 1184.9,558.6 1185.4,581.8 1185.9,594.7 1186.4,595.2 1186.9,595.8 1187.4,595.5 1187.9,591.5 1188.4,586.1 1188.9,579.8 1189.0,578.0 1189.1,579.3 1189.4,582.7 1189.9,588.8 1190.4,593.8 1190.9,596.6 1191.4,596.4 1191.9,596.0 1192.4,595.5 1192.9,595.4 1193.4,595.7 1193.9,596.0 1194.4,596.0 1194.9,595.3 1195.4,594.3 1195.9,593.2 1196.4,593.0 1196.9,593.5 1197.4,594.0 1197.9,594.5 1198.4,594.1 1198.9,593.8 1199.4,593.4 1199.9,593.5 1200.4,594.1 1200.9,594.7 1201.4,595.3 1201.9,596.0 1202.4,596.7 1202.9,597.4 1203.4,597.3 1203.9,596.4 1204.4,595.4 1204.9,594.5 1205.4,595.5 1205.9,596.5 1206.4,596.0 1206.9,597.2 1207.4,599.2 1207.9,600.4 1208.4,599.4 1208.9,598.9 1209.4,599.1 1209.9,599.5 1210.4,599.5 1210.9,599.3 1211.4,599.0 1211.9,598.8 1212.4,598.9 1212.9,598.8 1213.4,598.8 1213.9,598.9 1214.4,599.0 1214.9,598.8 1215.4,598.6 1215.9,598.9 1216.4,599.3 1216.9,599.0 1217.4,599.0 1217.9,599.2 1218.4,598.9 1218.9,598.5 1219.4,599.0 1219.9,599.9 1220.4,599.5 1220.9,595.5 1221.4,592.4 1221.9,592.4 1222.4,593.4 1222.9,594.1 1223.4,594.7 1223.9,595.3 1224.4,595.5 1224.9,593.4 1225.4,587.4 1225.9,579.2 1226.4,571.1 1226.5,568.8 1226.7,571.4 1226.9,576.1 1227.4,584.6 1227.9,591.0 1228.4,592.7 1228.9,590.1 1229.4,587.1 1229.6,586.4 1229.7,585.8 1229.8,586.7 1229.9,587.5 1230.4,590.8 1230.9,593.6 1231.4,592.1 1231.9,583.5 1232.4,572.5 1232.7,566.3 1232.8,563.0 1232.9,566.1 1233.4,578.0 1233.9,575.0 1234.4,563.3 1234.6,560.1 1234.7,556.7 1234.8,560.2 1234.9,563.6 1235.4,575.8 1235.9,585.7 1236.4,592.1 1236.9,592.1 1237.4,591.4 1237.9,588.6 1238.4,581.0 1238.9,571.7 1239.1,569.1 1239.2,571.9 1239.4,577.4 1239.9,566.6 1240.2,560.0 1240.3,556.6 1240.4,560.2 1240.9,573.6 1241.4,584.7 1241.9,592.0 1242.5,593.3 1243.0,592.8 1243.5,592.3 1244.0,592.2 1244.5,592.2 1245.0,592.2 1245.5,592.3 1246.0,592.5 1246.5,592.8 1247.0,593.0 1247.5,594.6 1248.0,597.6 1248.5,600.5 1249.0,600.5 1249.5,600.5 1250.0,600.5 1250.5,600.5 1251.0,600.5 1251.5,600.5 1252.0,600.5 1252.5,600.5 1253.0,600.5 1253.5,600.5 1254.0,600.5 1254.5,600.5 1255.0,600.5 1255.5,600.5 1256.0,600.5 1256.5,600.5 1257.0,600.5 1257.5,600.5 1258.0,600.5 1258.5,600.5 1259.0,600.5 1259.5,600.5 1260.0,598.8 1260.5,596.2 1261.0,594.3 1261.5,594.6 1262.0,594.4 1262.5,594.2 1263.0,594.1 1263.5,594.0 1264.0,593.8 1264.5,593.7 1265.0,593.1 1265.5,592.6 1266.0,591.3 1266.5,583.3 1267.0,572.9 1267.1,570.0 1267.2,567.0 1267.4,570.1 1267.5,573.1 1268.0,584.1 1268.5,592.6 1269.0,591.4 1269.5,584.0 1270.0,575.4 1270.2,570.8 1270.4,568.3 1270.5,571.0 1271.0,580.7 1271.5,588.7 1272.0,593.2 1272.5,593.5 1273.0,590.1 1273.4,587.4 1273.5,586.6 1273.6,587.5 1274.0,589.9 1274.5,592.6 1275.0,594.7 1275.5,589.4 1276.0,570.8 1276.5,546.5 1276.6,539.6 1276.8,546.2 1277.0,558.5 1277.5,576.4 1278.0,564.3 1278.4,553.5 1278.5,549.6 1278.6,554.0 1279.0,566.5 1279.5,580.6 1280.0,591.3 1280.5,588.4 1281.0,581.0 1281.5,571.7 1281.6,569.1 1281.8,572.0 1282.0,577.5 1282.5,586.1 1283.0,554.2 1283.4,513.4 1283.5,497.9 1283.6,513.2 1284.0,553.3 1284.5,589.0 1285.0,592.4 1285.5,592.2 1286.0,592.4 1286.5,592.6 1287.0,592.7 1287.5,590.2 1288.0,583.8 1288.4,578.2 1288.5,576.2 1288.6,578.3 1289.0,574.1 1289.2,572.1 1289.3,574.5 1289.5,579.1 1290.0,587.2 1290.5,593.4 1291.0,593.4 1291.5,587.7 1292.0,580.7 1292.2,578.9 1292.3,576.9 1292.4,578.4 1292.5,579.7 1293.0,585.7 1293.5,590.5 1294.0,593.6 1294.5,596.1 1295.0,598.7 1295.5,600.5 1296.0,600.5 1296.5,600.5 1297.0,600.5 1297.5,600.5 1298.0,600.5 1298.5,600.5 1299.0,600.5 1299.5,600.5 1300.0,600.5 1300.5,600.5 1301.0,600.5 1301.5,600.5 1302.0,600.5 1302.5,600.5 1303.0,600.5 1303.5,600.5 1304.0,600.5 1304.5,600.5 1305.1,600.5 1305.6,600.5 1306.1,600.5 1306.6,600.5 1307.1,600.5 1307.6,600.5 1308.1,600.5 1308.6,600.5 1309.1,600.5 1309.6,600.5 1310.1,600.5 1310.6,600.5 1311.1,600.5 1311.6,600.5 1312.1,600.5 1312.6,600.5 1313.1,600.5 1313.6,600.5 1314.1,600.5 1314.6,600.5 1315.1,600.5 1315.6,600.5 1316.1,600.5 1316.6,600.5 1317.1,600.5 1317.6,600.5 1318.1,600.5 1318.6,600.5 1319.1,600.5 1319.6,600.5 1320.1,600.5 1320.6,600.5 1321.1,600.5 1321.6,600.5 1322.1,600.5 1322.6,600.5 1323.1,600.5 1323.6,600.5 1324.1,600.5 1324.6,600.5 1325.1,600.5 1325.6,600.5 1326.1,600.5 1326.6,600.5 1327.1,600.5 1327.6,597.2 1328.1,579.7 1328.5,561.5 1328.6,554.7 1328.7,561.5 1329.1,579.7 1329.6,597.2 1330.1,600.5 1330.6,600.5 1331.1,600.5 1331.6,600.5 1332.1,600.5 1332.6,600.5 1333.1,600.5 1333.6,600.5 1334.1,600.5 1334.6,600.5 1335.1,600.5 1335.6,600.5 1336.1,600.5 1336.6,600.5 1337.1,600.5 1337.6,600.5 1338.1,600.5 1338.6,600.5 1339.1,600.5 1339.6,600.5 1340.1,600.5 1340.6,600.5 1341.1,600.5 1341.6,600.5 1342.1,600.5 1342.6,600.5 1343.1,600.5 1343.6,600.5 1344.1,600.5 1344.6,600.5 1345.1,600.5 1345.6,600.5 1346.1,600.5 1346.6,600.5 1347.1,600.5 1347.6,600.5 1348.1,600.5 1348.6,600.5 1349.1,600.5 1349.6,600.5 1350.1,600.5 1350.6,600.5 1351.1,600.5 1351.6,600.5 1352.1,600.5 1352.6,600.5 1353.1,600.5 1353.6,600.5 1354.1,600.5 1354.6,600.5 1355.1,600.5 1355.6,600.5 1356.1,600.5 1356.6,600.5 1357.1,600.5 1357.6,600.5 1358.1,600.5 1358.6,600.5 1359.1,600.5 1359.6,600.5 1360.1,600.5 1360.6,600.5 1361.1,600.5 1361.6,600.5 1362.1,600.5 1362.6,600.5 1363.1,600.5 1363.6,600.5 1364.1,600.5 1364.6,599.3 1365.1,597.7 1365.6,596.7 1366.1,596.8 1366.6,596.7 1367.1,596.5 1367.7,596.3 1368.2,596.3 1368.7,596.5 1369.2,596.6 1369.7,596.8 1370.2,596.6 1370.7,596.5 1371.2,596.3 1371.7,595.7 1372.2,594.6 1372.7,593.5 1373.2,592.4 1373.7,593.5 1374.2,594.5 1374.7,595.6 1375.2,595.8 1375.7,592.7 1376.2,586.9 1376.7,579.6 1376.8,577.4 1376.9,579.6 1377.2,583.7 1377.7,590.8 1378.2,593.4 1378.7,593.8 1379.2,595.0 1379.7,596.2 1380.2,596.7 1380.7,596.6 1381.2,595.8 1381.7,592.3 1382.2,587.2 1382.7,581.0 1382.9,577.5 1383.0,575.6 1383.2,577.5 1383.7,584.3 1384.2,590.3 1384.7,594.7 1385.2,594.8 1385.7,593.1 1386.1,591.3 1386.2,590.7 1386.3,591.1 1386.7,592.2 1387.2,592.6 1387.7,593.4 1388.2,594.2 1388.7,595.0 1389.2,595.6 1389.7,596.0 1390.2,596.4 1390.7,596.8 1391.2,596.5 1391.7,596.3 1392.2,596.0 1392.7,595.7 1393.2,595.4 1393.7,595.1 1394.2,594.7 1394.7,589.7 1395.2,578.5 1395.4,571.1 1395.6,567.0 1395.7,571.1 1396.2,584.9 1396.7,592.4 1397.2,594.3 1397.7,594.2 1398.2,594.7 1398.7,595.1 1399.2,595.6 1399.7,595.8 1400.2,595.6 1400.7,595.4 1401.2,595.2 1401.7,595.8 1402.2,596.4 1402.7,596.3 1403.2,595.5 1403.7,593.7 1404.2,587.3 1404.7,579.3 1404.8,577.4 1405.0,575.3 1405.1,577.7 1405.2,579.9 1405.7,588.3 1406.2,593.3 1406.7,594.6 1407.2,590.8 1407.7,585.6 1408.0,582.7 1408.1,581.2 1408.2,582.7 1408.7,588.7 1409.2,593.6 1409.7,597.2 1410.2,597.8 1410.7,596.8 1411.2,595.9 1411.7,595.0 1412.2,595.7 1412.7,596.3 1413.2,596.2 1413.7,596.3 1414.2,595.7 1414.7,594.6 1415.2,593.6 1415.7,593.7 1416.2,593.8 1416.7,593.9 1417.2,594.4 1417.7,595.2 1418.2,595.9 1418.7,596.7 1419.2,595.9 1419.7,595.2 1420.2,594.4 1420.7,594.1 1421.2,594.4 1421.7,594.6 1422.2,594.9 1422.7,595.2 1423.2,595.6 1423.7,595.9 1424.2,596.2 1424.7,596.3 1425.2,595.9 1425.7,595.5 1426.2,595.9 1426.7,596.0 1427.2,595.6 1427.7,595.8 1428.2,596.5 1428.7,596.9 1429.2,596.9 1429.7,596.5 1430.3,595.1 1430.8,593.7 1431.3,593.3 1431.8,594.0 1432.3,594.7 1432.8,595.4 1433.3,594.9 1433.8,594.3 1434.3,593.8 1434.8,593.8 1435.3,594.3 1435.8,594.8 1436.3,595.3 1436.8,596.2 1437.3,597.0 1437.8,596.3 1438.3,596.3 1438.8,596.8 1439.3,597.2 1439.8,597.2 1440.3,597.3 1440.8,597.1 1441.3,596.8 1441.8,596.3 1442.3,595.4 1442.8,594.5 1443.3,593.5 1443.8,594.1 1444.3,594.6 1444.8,595.1 1445.3,595.3 1445.8,595.3 1446.3,595.3 1446.8,595.3 1447.3,595.8 1447.8,596.3 1448.3,596.5 1448.8,596.3 1449.3,596.4 1449.8,596.3 1450.3,596.0 1450.8,595.1 1451.3,594.1 1451.8,593.1 1452.3,592.8 1452.8,593.2 1453.3,593.6 1453.8,594.0 1454.3,594.3 1454.8,594.6 1455.3,594.9 1455.8,595.2 1456.3,595.5 1456.8,595.7 1457.3,595.9 1457.8,595.6 1458.3,595.2 1458.8,594.9 1459.3,594.6 1459.8,594.3 1460.3,594.0 1460.8,593.8 1461.3,594.4 1461.8,595.1 1462.3,595.8 1462.8,596.0 1463.3,595.7 1463.8,595.5 1464.3,595.2 1464.8,595.1 1465.3,594.9 1465.8,594.8 1466.3,595.2 1466.8,596.2 1467.3,596.7 1467.8,596.1 1468.3,596.2 1468.8,596.4 1469.3,595.6 1469.8,591.8 1470.3,586.6 1470.6,583.6 1470.7,582.0 1470.8,583.5 1471.3,588.9 1471.8,589.7 1472.3,579.3 1472.4,576.2 1472.6,572.9 1472.7,575.7 1472.8,578.4 1473.3,588.0 1473.8,594.2 1474.3,595.1 1474.8,596.0 1475.3,596.3 1475.8,596.5 1476.3,596.5 1476.8,596.8 1477.3,596.5 1477.8,596.1 1478.3,595.8 1478.8,596.5 1479.3,597.1 1479.8,597.3 1480.3,597.2 1480.8,597.0 1481.3,596.2 1481.8,595.4 1482.3,595.9 1482.8,596.3 1483.3,596.8 1483.8,596.7 1484.3,596.3 1484.8,595.9 1485.3,595.5 1485.8,596.0 1486.3,596.5 1486.8,597.0 1487.3,597.3 1487.8,597.2 1488.3,597.2 1488.8,597.1 1489.3,597.3 1489.8,597.4 1490.3,597.6 1490.8,597.2 1491.3,596.2 1491.8,597.3 1492.3,599.3" fill="none" stroke="#111111" stroke-width="1.55" stroke-linejoin="round" />
<polyline points="1085.7,601.4 1086.2,601.4 1086.7,601.4 1087.2,601.4 1087.7,601.4 1088.2,601.4 1088.7,601.4 1089.2,601.4 1089.7,601.4 1090.2,601.4 1090.7,601.4 1091.2,601.4 1091.7,601.4 1092.2,601.4 1092.7,601.4 1093.2,601.4 1093.7,601.4 1094.2,601.4 1094.7,601.4 1095.2,601.4 1095.7,601.4 1096.2,601.4 1096.3,601.4 1096.5,601.4 1096.7,601.4 1097.2,601.4 1097.7,601.4 1098.2,601.4 1098.7,601.4 1099.2,601.4 1099.7,601.4 1100.2,601.4 1100.7,601.4 1101.2,601.4 1101.7,601.4 1102.2,601.4 1102.7,601.4 1103.2,601.4 1103.7,601.4 1104.2,601.4 1104.7,601.4 1105.2,601.4 1105.7,601.4 1106.2,601.4 1106.7,601.4 1107.2,601.4 1107.7,601.4 1108.2,601.4 1108.7,601.4 1109.2,601.4 1109.7,601.4 1110.2,601.4 1110.7,601.4 1111.2,601.4 1111.7,601.4 1112.2,601.4 1112.7,601.4 1113.2,601.4 1113.7,601.4 1114.2,601.4 1114.7,601.4 1115.0,601.4 1115.1,601.4 1115.2,601.4 1115.7,601.4 1116.2,601.4 1116.7,601.4 1117.3,601.4 1117.8,601.4 1118.3,601.4 1118.8,601.4 1119.3,601.4 1119.8,601.4 1120.3,601.4 1120.8,601.4 1121.3,601.4 1121.8,601.4 1122.3,601.4 1122.8,601.4 1123.3,601.4 1123.8,601.4 1124.3,601.4 1124.8,601.4 1125.3,601.4 1125.8,601.4 1126.3,601.4 1126.8,601.4 1127.3,601.4 1127.8,601.4 1128.3,601.4 1128.8,601.4 1129.3,601.4 1129.8,601.4 1130.3,601.4 1130.8,601.4 1131.3,601.4 1131.8,601.4 1132.3,601.4 1132.8,601.4 1133.3,601.4 1133.8,601.4 1134.3,601.4 1134.8,601.4 1135.3,601.4 1135.8,601.4 1136.3,601.4 1136.8,601.4 1137.3,601.4 1137.8,601.4 1138.3,601.4 1138.8,601.4 1139.3,601.4 1139.8,601.4 1140.3,601.4 1140.8,601.4 1141.3,601.4 1141.8,601.4 1142.3,601.4 1142.8,601.4 1143.3,601.4 1143.8,601.4 1144.3,601.4 1144.8,601.4 1145.3,601.4 1145.8,601.4 1146.3,601.4 1146.8,601.4 1147.3,601.4 1147.8,601.4 1148.3,601.4 1148.8,601.4 1149.3,601.4 1149.8,601.4 1150.3,601.4 1150.8,601.4 1151.3,601.4 1151.8,601.4 1152.3,601.4 1152.8,601.4 1153.3,601.4 1153.8,601.4 1154.3,601.4 1154.8,601.4 1155.1,601.4 1155.2,601.4 1155.3,601.4 1155.8,601.4 1156.3,601.4 1156.8,601.4 1157.3,601.4 1157.8,601.4 1158.3,601.4 1158.8,601.4 1159.3,601.4 1159.8,601.4 1160.3,601.4 1160.8,601.4 1161.3,601.4 1161.8,601.4 1162.3,601.4 1162.6,601.4 1162.7,601.4 1162.8,601.4 1163.3,601.4 1163.8,601.4 1164.3,601.4 1164.8,601.4 1165.3,601.4 1165.8,601.4 1166.3,601.4 1166.8,601.4 1167.3,601.4 1167.8,601.4 1168.3,601.4 1168.8,601.4 1169.3,601.4 1169.8,601.4 1170.3,601.4 1170.8,601.4 1171.3,601.4 1171.8,601.4 1172.3,601.4 1172.8,601.4 1173.3,601.4 1173.8,601.4 1174.3,601.4 1174.5,601.4 1174.6,601.4 1174.7,601.4 1174.8,601.4 1175.3,601.4 1175.8,601.4 1176.3,601.4 1176.8,601.4 1177.0,601.4 1177.1,601.4 1177.2,601.4 1177.3,601.4 1177.8,601.4 1178.2,601.4 1178.3,601.4 1178.5,601.4 1178.8,601.4 1179.3,601.4 1179.9,601.4 1180.4,601.4 1180.9,601.4 1181.4,601.4 1181.9,601.4 1182.4,601.4 1182.9,600.9 1183.4,598.8 1183.9,583.4 1184.4,559.6 1184.5,552.6 1184.6,545.3 1184.7,552.6 1184.9,559.5 1185.4,582.7 1185.9,595.6 1186.4,596.1 1186.9,596.6 1187.4,596.4 1187.9,592.4 1188.4,587.0 1188.9,580.6 1189.0,578.9 1189.1,580.2 1189.4,583.6 1189.9,589.7 1190.4,594.6 1190.9,597.8 1191.4,597.3 1191.9,596.9 1192.4,596.4 1192.9,596.3 1193.4,596.6 1193.9,596.9 1194.4,597.1 1194.9,596.1 1195.4,595.1 1195.9,594.1 1196.4,593.9 1196.9,594.4 1197.4,594.9 1197.9,595.4 1198.4,595.0 1198.9,594.6 1199.4,594.3 1199.9,594.4 1200.4,595.0 1200.9,595.6 1201.4,596.2 1201.9,596.9 1202.4,597.6 1202.9,598.3 1203.4,598.1 1203.9,597.2 1204.4,596.3 1204.9,595.4 1205.4,596.4 1205.9,597.3 1206.4,598.3 1206.9,599.2 1207.4,600.1 1207.9,601.2 1208.4,600.3 1208.9,599.8 1209.4,600.0 1209.9,600.4 1210.4,600.4 1210.9,600.2 1211.4,599.9 1211.9,599.6 1212.4,599.8 1212.9,599.9 1213.4,600.0 1213.9,600.0 1214.4,599.8 1214.9,599.6 1215.4,599.5 1215.9,599.8 1216.4,600.2 1216.9,600.5 1217.4,600.5 1217.9,600.1 1218.4,599.7 1218.9,599.3 1219.4,599.9 1219.9,600.7 1220.4,600.4 1220.9,596.4 1221.4,593.3 1221.9,593.3 1222.4,594.2 1222.9,595.0 1223.4,595.9 1223.9,596.7 1224.4,596.5 1224.9,594.3 1225.4,588.2 1225.9,580.1 1226.4,572.0 1226.5,569.7 1226.7,572.2 1226.9,577.0 1227.4,585.5 1227.9,591.8 1228.4,595.2 1228.9,595.3 1229.4,595.3 1229.6,595.2 1229.7,595.2 1229.8,595.1 1229.9,595.1 1230.4,594.8 1230.9,594.6 1231.4,594.1 1231.9,593.3 1232.4,592.5 1232.7,592.1 1232.8,591.9 1232.9,591.1 1233.4,585.2 1233.9,575.9 1234.4,564.2 1234.6,561.0 1234.7,557.6 1234.8,561.1 1234.9,564.5 1235.4,576.7 1235.9,586.5 1236.4,593.0 1236.9,592.9 1237.4,592.3 1237.9,591.6 1238.4,591.6 1238.9,587.2 1239.1,585.4 1239.2,583.3 1239.4,578.7 1239.9,567.4 1240.2,560.9 1240.3,557.4 1240.4,561.1 1240.9,574.5 1241.4,585.5 1241.9,592.9 1242.5,594.2 1243.0,593.6 1243.5,593.1 1244.0,593.1 1244.5,593.1 1245.0,593.0 1245.5,593.1 1246.0,593.4 1246.5,593.6 1247.0,593.9 1247.5,595.4 1248.0,598.4 1248.5,601.4 1249.0,601.4 1249.5,601.4 1250.0,601.4 1250.5,601.4 1251.0,601.4 1251.5,601.4 1252.0,601.4 1252.5,601.4 1253.0,601.4 1253.5,601.4 1254.0,601.4 1254.5,601.4 1255.0,601.4 1255.5,601.4 1256.0,601.4 1256.5,601.4 1257.0,601.4 1257.5,601.4 1258.0,601.4 1258.5,601.4 1259.0,601.4 1259.5,601.4 1260.0,599.6 1260.5,597.1 1261.0,595.7 1261.5,595.5 1262.0,595.3 1262.5,595.1 1263.0,595.0 1263.5,594.8 1264.0,594.7 1264.5,594.6 1265.0,594.0 1265.5,593.4 1266.0,592.9 1266.5,593.3 1267.0,594.7 1267.1,595.1 1267.2,595.5 1267.4,595.8 1267.5,596.2 1268.0,597.6 1268.5,596.8 1269.0,592.3 1269.5,584.9 1270.0,576.2 1270.2,571.6 1270.4,569.2 1270.5,571.9 1271.0,581.6 1271.5,589.6 1272.0,594.0 1272.5,594.4 1273.0,593.6 1273.4,593.3 1273.5,593.5 1273.6,593.7 1274.0,594.3 1274.5,595.0 1275.0,595.8 1275.5,593.8 1276.0,591.9 1276.5,590.0 1276.6,589.5 1276.8,588.2 1277.0,585.8 1277.5,577.2 1278.0,565.2 1278.4,554.4 1278.5,550.5 1278.6,554.9 1279.0,567.3 1279.5,581.5 1280.0,592.2 1280.5,596.3 1281.0,596.0 1281.5,595.7 1281.6,595.7 1281.8,595.6 1282.0,595.4 1282.5,591.4 1283.0,555.0 1283.4,514.3 1283.5,498.7 1283.6,514.0 1284.0,554.2 1284.5,589.9 1285.0,593.3 1285.5,593.1 1286.0,593.3 1286.5,593.4 1287.0,593.6 1287.5,592.8 1288.0,588.7 1288.4,584.2 1288.5,582.6 1288.6,580.8 1289.0,575.0 1289.2,573.0 1289.3,575.4 1289.5,580.0 1290.0,588.1 1290.5,594.3 1291.0,594.2 1291.5,588.5 1292.0,581.6 1292.2,579.7 1292.3,577.8 1292.4,579.2 1292.5,580.6 1293.0,586.6 1293.5,591.4 1294.0,594.5 1294.5,596.9 1295.0,599.6 1295.5,601.4 1296.0,601.4 1296.5,601.4 1297.0,601.4 1297.5,601.4 1298.0,601.4 1298.5,601.4 1299.0,601.4 1299.5,601.4 1300.0,601.4 1300.5,601.4 1301.0,601.4 1301.5,601.4 1302.0,601.4 1302.5,601.4 1303.0,601.4 1303.5,601.4 1304.0,601.4 1304.5,601.4 1305.1,601.4 1305.6,601.4 1306.1,601.4 1306.6,601.4 1307.1,601.4 1307.6,601.4 1308.1,601.4 1308.6,601.4 1309.1,601.4 1309.6,601.4 1310.1,601.4 1310.6,601.4 1311.1,601.4 1311.6,601.4 1312.1,601.4 1312.6,601.4 1313.1,601.4 1313.6,601.4 1314.1,601.4 1314.6,601.4 1315.1,601.4 1315.6,601.4 1316.1,601.4 1316.6,601.4 1317.1,601.4 1317.6,601.4 1318.1,601.4 1318.6,601.4 1319.1,601.4 1319.6,601.4 1320.1,601.4 1320.6,601.4 1321.1,601.4 1321.6,601.4 1322.1,601.4 1322.6,601.4 1323.1,601.4 1323.6,601.4 1324.1,601.4 1324.6,601.4 1325.1,601.4 1325.6,601.4 1326.1,601.4 1326.6,601.4 1327.1,601.4 1327.6,600.5 1328.1,596.6 1328.5,592.5 1328.6,591.0 1328.7,592.5 1329.1,596.6 1329.6,600.5 1330.1,601.4 1330.6,601.4 1331.1,601.4 1331.6,601.4 1332.1,601.4 1332.6,601.4 1333.1,601.4 1333.6,601.4 1334.1,601.4 1334.6,601.4 1335.1,601.4 1335.6,601.4 1336.1,601.4 1336.6,601.4 1337.1,601.4 1337.6,601.4 1338.1,601.4 1338.6,601.4 1339.1,601.4 1339.6,601.4 1340.1,601.4 1340.6,601.4 1341.1,601.4 1341.6,601.4 1342.1,601.4 1342.6,601.4 1343.1,601.4 1343.6,601.4 1344.1,601.4 1344.6,601.4 1345.1,601.4 1345.6,601.4 1346.1,601.4 1346.6,601.4 1347.1,601.4 1347.6,601.4 1348.1,601.4 1348.6,601.4 1349.1,601.4 1349.6,601.4 1350.1,601.4 1350.6,601.4 1351.1,601.4 1351.6,601.4 1352.1,601.4 1352.6,601.4 1353.1,601.4 1353.6,601.4 1354.1,601.4 1354.6,601.4 1355.1,601.4 1355.6,601.4 1356.1,601.4 1356.6,601.4 1357.1,601.4 1357.6,601.4 1358.1,601.4 1358.6,601.4 1359.1,601.4 1359.6,601.4 1360.1,601.4 1360.6,601.4 1361.1,601.4 1361.6,601.4 1362.1,601.4 1362.6,601.4 1363.1,601.4 1363.6,601.4 1364.1,601.4 1364.6,600.3 1365.1,598.9 1365.6,597.8 1366.1,597.8 1366.6,597.6 1367.1,597.4 1367.7,597.2 1368.2,597.2 1368.7,597.4 1369.2,597.5 1369.7,597.7 1370.2,597.5 1370.7,597.4 1371.2,597.2 1371.7,596.6 1372.2,595.5 1372.7,594.4 1373.2,593.3 1373.7,594.3 1374.2,595.4 1374.7,596.5 1375.2,596.7 1375.7,596.1 1376.2,595.5 1376.7,594.9 1376.8,594.8 1376.9,594.8 1377.2,594.7 1377.7,594.5 1378.2,594.2 1378.7,594.7 1379.2,595.9 1379.7,597.1 1380.2,598.3 1380.7,597.5 1381.2,596.6 1381.7,593.2 1382.2,588.0 1382.7,581.8 1382.9,578.3 1383.0,576.5 1383.2,578.3 1383.7,585.2 1384.2,591.2 1384.7,595.5 1385.2,596.9 1385.7,596.6 1386.1,595.8 1386.2,595.6 1386.3,595.3 1386.7,594.5 1387.2,593.5 1387.7,594.3 1388.2,595.1 1388.7,595.9 1389.2,596.5 1389.7,596.9 1390.2,597.3 1390.7,597.7 1391.2,597.4 1391.7,597.1 1392.2,596.9 1392.7,596.6 1393.2,596.3 1393.7,595.9 1394.2,595.6 1394.7,591.0 1395.2,579.4 1395.4,571.9 1395.6,567.9 1395.7,571.9 1396.2,585.7 1396.7,594.5 1397.2,595.2 1397.7,595.1 1398.2,595.5 1398.7,596.0 1399.2,596.5 1399.7,596.6 1400.2,596.4 1400.7,596.2 1401.2,596.1 1401.7,596.7 1402.2,597.3 1402.7,597.9 1403.2,598.0 1403.7,597.7 1404.2,597.3 1404.7,596.9 1404.8,597.0 1405.0,597.0 1405.1,597.1 1405.2,597.2 1405.7,597.4 1406.2,597.6 1406.7,595.6 1407.2,591.6 1407.7,586.5 1408.0,583.6 1408.1,582.0 1408.2,583.6 1408.7,589.5 1409.2,594.5 1409.7,598.1 1410.2,598.6 1410.7,597.7 1411.2,596.8 1411.7,595.9 1412.2,596.5 1412.7,597.2 1413.2,597.8 1413.7,597.6 1414.2,596.6 1414.7,595.5 1415.2,594.5 1415.7,594.6 1416.2,594.7 1416.7,594.8 1417.2,595.2 1417.7,596.0 1418.2,596.8 1418.7,597.6 1419.2,596.8 1419.7,596.0 1420.2,595.3 1420.7,595.0 1421.2,595.3 1421.7,595.5 1422.2,595.8 1422.7,596.1 1423.2,596.4 1423.7,596.8 1424.2,597.1 1424.7,597.3 1425.2,597.5 1425.7,597.8 1426.2,597.3 1426.7,596.9 1427.2,596.5 1427.7,596.6 1428.2,597.4 1428.7,598.1 1429.2,598.8 1429.7,597.4 1430.3,596.0 1430.8,594.5 1431.3,594.2 1431.8,594.9 1432.3,595.6 1432.8,596.3 1433.3,595.7 1433.8,595.2 1434.3,594.6 1434.8,594.6 1435.3,595.2 1435.8,595.7 1436.3,596.2 1436.8,597.1 1437.3,598.0 1437.8,598.8 1438.3,599.1 1438.8,598.9 1439.3,598.6 1439.8,598.4 1440.3,598.2 1440.8,597.9 1441.3,597.7 1441.8,597.2 1442.3,596.3 1442.8,595.3 1443.3,594.4 1443.8,594.9 1444.3,595.4 1444.8,595.9 1445.3,596.2 1445.8,596.2 1446.3,596.2 1446.8,596.2 1447.3,596.7 1447.8,597.2 1448.3,597.7 1448.8,597.8 1449.3,597.5 1449.8,597.2 1450.3,596.9 1450.8,595.9 1451.3,594.9 1451.8,594.0 1452.3,593.7 1452.8,594.1 1453.3,594.5 1453.8,594.8 1454.3,595.2 1454.8,595.5 1455.3,595.8 1455.8,596.1 1456.3,596.3 1456.8,596.6 1457.3,596.8 1457.8,596.5 1458.3,596.1 1458.8,595.8 1459.3,595.4 1459.8,595.2 1460.3,594.9 1460.8,594.6 1461.3,595.3 1461.8,596.0 1462.3,596.6 1462.8,596.8 1463.3,596.6 1463.8,596.3 1464.3,596.1 1464.8,595.9 1465.3,595.8 1465.8,595.7 1466.3,596.1 1466.8,597.1 1467.3,598.0 1467.8,599.0 1468.3,598.2 1468.8,597.3 1469.3,596.5 1469.8,596.1 1470.3,596.3 1470.6,596.4 1470.7,596.5 1470.8,596.5 1471.3,596.7 1471.8,590.6 1472.3,580.1 1472.4,577.0 1472.6,573.8 1472.7,576.6 1472.8,579.3 1473.3,588.9 1473.8,595.0 1474.3,596.0 1474.8,596.9 1475.3,597.1 1475.8,597.4 1476.3,597.7 1476.8,597.6 1477.3,597.3 1477.8,597.0 1478.3,596.7 1478.8,597.3 1479.3,598.0 1479.8,598.6 1480.3,598.6 1480.8,597.8 1481.3,597.1 1481.8,596.3 1482.3,596.7 1482.8,597.2 1483.3,597.6 1483.8,597.9 1484.3,597.9 1484.8,597.9 1485.3,598.0 1485.8,598.0 1486.3,598.1 1486.8,598.2 1487.3,598.2 1487.8,598.1 1488.3,598.0 1488.8,597.9 1489.3,598.1 1489.8,598.3 1490.3,598.5 1490.8,598.1 1491.3,597.1 1491.8,598.2 1492.3,600.1" fill="none" stroke="#ff1a1a" stroke-width="1.55" stroke-linejoin="round" />
<polyline points="1085.7,601.4 1086.2,601.4 1086.7,601.4 1087.2,601.4 1087.7,601.4 1088.2,601.4 1088.7,601.4 1089.2,601.4 1089.7,601.4 1090.2,601.4 1090.7,601.4 1091.2,601.4 1091.7,601.4 1092.2,601.4 1092.7,601.4 1093.2,601.4 1093.7,601.4 1094.2,601.4 1094.7,601.4 1095.2,601.4 1095.7,601.4 1096.2,601.4 1096.3,601.4 1096.5,601.4 1096.7,601.4 1097.2,601.4 1097.7,601.4 1098.2,601.4 1098.7,601.4 1099.2,601.4 1099.7,601.4 1100.2,601.4 1100.7,601.4 1101.2,601.4 1101.7,601.4 1102.2,601.4 1102.7,601.4 1103.2,601.4 1103.7,601.4 1104.2,601.4 1104.7,601.4 1105.2,601.4 1105.7,601.4 1106.2,601.4 1106.7,601.4 1107.2,601.4 1107.7,601.4 1108.2,601.4 1108.7,601.4 1109.2,601.4 1109.7,601.4 1110.2,601.4 1110.7,601.4 1111.2,601.4 1111.7,601.4 1112.2,601.4 1112.7,601.4 1113.2,601.4 1113.7,601.4 1114.2,601.4 1114.7,601.4 1115.0,601.4 1115.1,601.4 1115.2,601.4 1115.7,601.4 1116.2,601.4 1116.7,601.4 1117.3,601.4 1117.8,601.4 1118.3,601.4 1118.8,601.4 1119.3,601.4 1119.8,601.4 1120.3,601.4 1120.8,601.4 1121.3,601.4 1121.8,601.4 1122.3,601.4 1122.8,601.4 1123.3,601.4 1123.8,601.4 1124.3,601.4 1124.8,601.4 1125.3,601.4 1125.8,601.4 1126.3,601.4 1126.8,601.4 1127.3,601.4 1127.8,601.4 1128.3,601.4 1128.8,601.4 1129.3,601.4 1129.8,601.4 1130.3,601.4 1130.8,601.4 1131.3,601.4 1131.8,601.4 1132.3,601.4 1132.8,601.4 1133.3,601.4 1133.8,601.4 1134.3,601.4 1134.8,601.4 1135.3,601.4 1135.8,601.4 1136.3,601.4 1136.8,601.4 1137.3,601.4 1137.8,601.4 1138.3,601.4 1138.8,601.4 1139.3,601.4 1139.8,601.4 1140.3,601.4 1140.8,601.4 1141.3,601.4 1141.8,601.4 1142.3,601.4 1142.8,601.4 1143.3,601.4 1143.8,601.4 1144.3,601.4 1144.8,601.4 1145.3,601.4 1145.8,601.4 1146.3,601.4 1146.8,601.4 1147.3,601.4 1147.8,601.4 1148.3,601.4 1148.8,601.4 1149.3,601.4 1149.8,601.4 1150.3,601.4 1150.8,601.4 1151.3,601.4 1151.8,601.4 1152.3,601.4 1152.8,601.4 1153.3,601.4 1153.8,601.4 1154.3,601.4 1154.8,601.4 1155.1,601.4 1155.2,601.4 1155.3,601.4 1155.8,601.4 1156.3,601.4 1156.8,601.4 1157.3,601.4 1157.8,601.4 1158.3,601.4 1158.8,601.4 1159.3,601.4 1159.8,601.4 1160.3,601.4 1160.8,601.4 1161.3,601.4 1161.8,601.4 1162.3,601.4 1162.6,601.4 1162.7,601.4 1162.8,601.4 1163.3,601.4 1163.8,601.4 1164.3,601.4 1164.8,601.4 1165.3,601.4 1165.8,601.4 1166.3,601.4 1166.8,601.4 1167.3,601.4 1167.8,601.4 1168.3,601.4 1168.8,601.4 1169.3,601.4 1169.8,601.4 1170.3,601.4 1170.8,601.4 1171.3,601.4 1171.8,601.4 1172.3,601.4 1172.8,601.4 1173.3,601.4 1173.8,601.4 1174.3,601.4 1174.5,601.4 1174.6,601.4 1174.7,601.4 1174.8,601.4 1175.3,601.2 1175.8,599.4 1176.3,596.6 1176.8,593.0 1177.0,592.0 1177.1,591.0 1177.2,592.0 1177.3,593.0 1177.8,596.6 1178.2,598.8 1178.3,599.4 1178.5,600.0 1178.8,601.2 1179.3,601.4 1179.9,601.4 1180.4,601.4 1180.9,601.4 1181.4,601.4 1181.9,601.4 1182.4,601.4 1182.9,601.1 1183.4,599.8 1183.9,598.7 1184.4,598.4 1184.5,598.4 1184.6,598.4 1184.7,598.4 1184.9,598.4 1185.4,598.4 1185.9,598.4 1186.4,598.1 1186.9,597.9 1187.4,597.7 1187.9,598.0 1188.4,598.2 1188.9,598.5 1189.0,598.6 1189.1,598.6 1189.4,598.5 1189.9,598.1 1190.4,597.8 1190.9,597.4 1191.4,597.6 1191.9,597.8 1192.4,598.0 1192.9,597.9 1193.4,597.6 1193.9,597.2 1194.4,596.9 1194.9,597.4 1195.4,597.9 1195.9,598.5 1196.4,598.6 1196.9,598.5 1197.4,598.3 1197.9,598.1 1198.4,597.9 1198.9,597.6 1199.4,597.4 1199.9,597.4 1200.4,597.6 1200.9,597.8 1201.4,598.0 1201.9,598.4 1202.4,598.8 1202.9,599.1 1203.4,599.2 1203.9,599.0 1204.4,598.8 1204.9,598.7 1205.4,598.1 1205.9,597.5 1206.4,596.9 1206.9,598.1 1207.4,600.1 1207.9,601.3 1208.4,600.7 1208.9,600.3 1209.4,600.3 1209.9,600.5 1210.4,600.4 1210.9,600.2 1211.4,600.0 1211.9,599.8 1212.4,599.7 1212.9,599.7 1213.4,599.7 1213.9,599.8 1214.4,600.1 1214.9,600.4 1215.4,600.7 1215.9,600.5 1216.4,600.2 1216.9,599.9 1217.4,599.9 1217.9,600.1 1218.4,600.4 1218.9,600.7 1219.4,600.9 1219.9,601.2 1220.4,601.1 1220.9,599.7 1221.4,597.2 1221.9,595.5 1222.4,594.3 1222.9,594.9 1223.4,595.5 1223.9,596.1 1224.4,596.4 1224.9,596.3 1225.4,596.3 1225.9,596.3 1226.4,596.6 1226.5,596.7 1226.7,596.8 1226.9,597.0 1227.4,597.1 1227.9,595.8 1228.4,593.6 1228.9,591.0 1229.4,587.9 1229.6,587.3 1229.7,586.6 1229.8,587.5 1229.9,588.4 1230.4,591.6 1230.9,594.5 1231.4,594.3 1231.9,591.3 1232.4,586.2 1232.7,583.1 1232.8,581.5 1232.9,582.7 1233.4,587.2 1233.9,590.9 1234.4,593.3 1234.6,593.6 1234.7,593.8 1234.8,594.0 1234.9,594.3 1235.4,595.2 1235.9,596.2 1236.4,597.1 1236.9,597.0 1237.4,596.9 1237.9,596.8 1238.4,596.9 1238.9,597.1 1239.1,597.2 1239.2,597.2 1239.4,597.3 1239.9,597.6 1240.2,597.5 1240.3,597.5 1240.4,597.4 1240.9,597.3 1241.4,597.1 1241.9,596.9 1242.5,596.5 1243.0,596.2 1243.5,595.9 1244.0,596.2 1244.5,596.6 1245.0,596.9 1245.5,597.0 1246.0,596.8 1246.5,596.7 1247.0,596.5 1247.5,597.8 1248.0,599.8 1248.5,601.4 1249.0,601.4 1249.5,601.4 1250.0,601.4 1250.5,601.4 1251.0,601.4 1251.5,601.4 1252.0,601.4 1252.5,601.4 1253.0,601.4 1253.5,601.4 1254.0,601.4 1254.5,601.4 1255.0,601.4 1255.5,601.4 1256.0,601.4 1256.5,601.4 1257.0,601.4 1257.5,601.4 1258.0,601.4 1258.5,601.4 1259.0,601.4 1259.5,601.4 1260.0,600.4 1260.5,598.0 1261.0,595.2 1261.5,595.5 1262.0,595.8 1262.5,596.0 1263.0,596.1 1263.5,596.1 1264.0,596.0 1264.5,595.9 1265.0,595.8 1265.5,595.7 1266.0,595.5 1266.5,595.5 1267.0,595.4 1267.1,595.4 1267.2,595.4 1267.4,595.4 1267.5,595.4 1268.0,595.4 1268.5,595.9 1269.0,596.4 1269.5,596.9 1270.0,597.3 1270.2,597.5 1270.4,597.6 1270.5,597.7 1271.0,598.1 1271.5,598.5 1272.0,597.0 1272.5,594.4 1273.0,591.0 1273.4,588.3 1273.5,587.5 1273.6,588.3 1274.0,590.8 1274.5,593.5 1275.0,595.6 1275.5,596.3 1276.0,596.3 1276.5,596.3 1276.6,596.3 1276.8,596.3 1277.0,596.3 1277.5,596.4 1278.0,596.5 1278.4,596.5 1278.5,596.5 1278.6,596.4 1279.0,595.9 1279.5,595.3 1280.0,594.7 1280.5,595.0 1281.0,596.1 1281.5,597.1 1281.6,597.4 1281.8,597.4 1282.0,596.8 1282.5,592.4 1283.0,586.7 1283.4,581.8 1283.5,580.1 1283.6,581.4 1284.0,585.9 1284.5,591.7 1285.0,596.2 1285.5,598.5 1286.0,598.1 1286.5,597.7 1287.0,597.3 1287.5,596.8 1288.0,596.2 1288.4,595.8 1288.5,595.7 1288.6,595.6 1289.0,595.1 1289.2,595.3 1289.3,595.4 1289.5,595.7 1290.0,596.3 1290.5,596.9 1291.0,596.7 1291.5,595.9 1292.0,595.1 1292.2,594.9 1292.3,594.7 1292.4,594.5 1292.5,594.3 1293.0,595.6 1293.5,596.9 1294.0,598.3 1294.5,599.3 1295.0,600.2 1295.5,601.4 1296.0,601.4 1296.5,601.4 1297.0,601.4 1297.5,601.4 1298.0,601.4 1298.5,601.4 1299.0,601.4 1299.5,601.4 1300.0,601.4 1300.5,601.4 1301.0,601.4 1301.5,601.4 1302.0,601.4 1302.5,601.4 1303.0,601.4 1303.5,601.4 1304.0,601.4 1304.5,601.4 1305.1,601.4 1305.6,601.4 1306.1,601.4 1306.6,601.4 1307.1,601.4 1307.6,601.4 1308.1,601.4 1308.6,601.4 1309.1,601.4 1309.6,601.4 1310.1,601.4 1310.6,601.4 1311.1,601.4 1311.6,601.4 1312.1,601.4 1312.6,601.4 1313.1,601.4 1313.6,601.4 1314.1,601.4 1314.6,601.4 1315.1,601.4 1315.6,601.4 1316.1,601.4 1316.6,601.4 1317.1,601.4 1317.6,601.4 1318.1,601.4 1318.6,601.4 1319.1,601.4 1319.6,601.4 1320.1,601.4 1320.6,601.4 1321.1,601.4 1321.6,601.4 1322.1,601.4 1322.6,601.4 1323.1,601.4 1323.6,601.4 1324.1,601.4 1324.6,601.4 1325.1,601.4 1325.6,601.4 1326.1,601.4 1326.6,601.4 1327.1,601.4 1327.6,601.4 1328.1,601.4 1328.5,601.4 1328.6,601.4 1328.7,601.4 1329.1,601.4 1329.6,601.4 1330.1,601.4 1330.6,601.4 1331.1,601.4 1331.6,601.4 1332.1,601.4 1332.6,601.4 1333.1,601.4 1333.6,601.4 1334.1,601.4 1334.6,601.4 1335.1,601.4 1335.6,601.4 1336.1,601.4 1336.6,601.4 1337.1,601.4 1337.6,601.4 1338.1,601.4 1338.6,601.4 1339.1,601.4 1339.6,601.4 1340.1,601.4 1340.6,601.4 1341.1,601.4 1341.6,601.4 1342.1,601.4 1342.6,601.4 1343.1,601.4 1343.6,601.4 1344.1,601.4 1344.6,601.4 1345.1,601.4 1345.6,601.4 1346.1,601.4 1346.6,601.4 1347.1,601.4 1347.6,601.4 1348.1,601.4 1348.6,601.4 1349.1,601.4 1349.6,601.4 1350.1,601.4 1350.6,601.4 1351.1,601.4 1351.6,601.4 1352.1,601.4 1352.6,601.4 1353.1,601.4 1353.6,601.4 1354.1,601.4 1354.6,601.4 1355.1,601.4 1355.6,601.4 1356.1,601.4 1356.6,601.4 1357.1,601.4 1357.6,601.4 1358.1,601.4 1358.6,601.4 1359.1,601.4 1359.6,601.4 1360.1,601.4 1360.6,601.4 1361.1,601.4 1361.6,601.4 1362.1,601.4 1362.6,601.4 1363.1,601.4 1363.6,601.4 1364.1,601.4 1364.6,600.2 1365.1,598.6 1365.6,597.6 1366.1,597.7 1366.6,597.5 1367.1,597.4 1367.7,597.2 1368.2,597.4 1368.7,598.0 1369.2,598.6 1369.7,599.2 1370.2,598.9 1370.7,598.5 1371.2,598.2 1371.7,598.1 1372.2,598.2 1372.7,598.3 1373.2,598.4 1373.7,598.3 1374.2,598.2 1374.7,598.1 1375.2,598.2 1375.7,598.5 1376.2,598.8 1376.7,599.2 1376.8,599.2 1376.9,599.3 1377.2,599.4 1377.7,599.6 1378.2,599.8 1378.7,599.6 1379.2,598.9 1379.7,598.3 1380.2,597.6 1380.7,597.8 1381.2,598.0 1381.7,598.2 1382.2,598.2 1382.7,598.0 1382.9,597.9 1383.0,597.9 1383.2,597.8 1383.7,597.7 1384.2,597.4 1384.7,596.7 1385.2,595.7 1385.7,593.9 1386.1,592.1 1386.2,591.5 1386.3,591.9 1386.7,593.1 1387.2,594.4 1387.7,596.4 1388.2,598.0 1388.7,599.1 1389.2,599.4 1389.7,599.3 1390.2,599.3 1390.7,599.2 1391.2,599.0 1391.7,598.8 1392.2,598.7 1392.7,598.4 1393.2,598.2 1393.7,597.9 1394.2,597.7 1394.7,597.8 1395.2,597.8 1395.4,597.9 1395.6,597.9 1395.7,597.9 1396.2,597.9 1396.7,597.9 1397.2,597.9 1397.7,597.9 1398.2,598.0 1398.7,598.1 1399.2,598.2 1399.7,598.2 1400.2,598.1 1400.7,597.9 1401.2,597.7 1401.7,597.6 1402.2,597.6 1402.7,597.2 1403.2,596.4 1403.7,595.5 1404.2,594.2 1404.7,592.6 1404.8,591.7 1405.0,590.8 1405.1,591.3 1405.2,591.6 1405.7,593.0 1406.2,594.1 1406.7,595.4 1407.2,596.8 1407.7,597.3 1408.0,597.4 1408.1,597.5 1408.2,597.5 1408.7,598.2 1409.2,598.8 1409.7,599.4 1410.2,599.5 1410.7,599.0 1411.2,598.5 1411.7,598.0 1412.2,597.7 1412.7,597.4 1413.2,597.1 1413.7,597.2 1414.2,597.6 1414.7,598.1 1415.2,598.5 1415.7,598.6 1416.2,598.7 1416.7,598.8 1417.2,598.7 1417.7,598.4 1418.2,598.2 1418.7,597.9 1419.2,597.7 1419.7,597.5 1420.2,597.3 1420.7,597.4 1421.2,597.7 1421.7,598.0 1422.2,598.3 1422.7,598.2 1423.2,598.0 1423.7,597.9 1424.2,597.6 1424.7,597.2 1425.2,596.8 1425.7,596.4 1426.2,596.7 1426.7,597.1 1427.2,597.5 1427.7,597.7 1428.2,597.7 1428.7,597.7 1429.2,597.8 1429.7,597.9 1430.3,598.1 1430.8,598.3 1431.3,598.3 1431.8,598.2 1432.3,598.1 1432.8,598.1 1433.3,598.3 1433.8,598.5 1434.3,598.7 1434.8,598.8 1435.3,598.9 1435.8,599.0 1436.3,599.1 1436.8,598.5 1437.3,597.8 1437.8,597.2 1438.3,597.1 1438.8,597.6 1439.3,598.1 1439.8,598.6 1440.3,598.3 1440.8,598.0 1441.3,597.7 1441.8,597.6 1442.3,597.7 1442.8,597.9 1443.3,598.0 1443.8,597.7 1444.3,597.3 1444.8,596.9 1445.3,597.0 1445.8,597.5 1446.3,597.9 1446.8,598.4 1447.3,598.1 1447.8,597.7 1448.3,597.3 1448.8,597.2 1449.3,597.3 1449.8,597.4 1450.3,597.4 1450.8,597.7 1451.3,598.0 1451.8,598.2 1452.3,598.4 1452.8,598.4 1453.3,598.5 1453.8,598.5 1454.3,598.8 1454.8,599.1 1455.3,599.4 1455.8,599.6 1456.3,599.8 1456.8,600.0 1457.3,600.2 1457.8,600.0 1458.3,599.8 1458.8,599.6 1459.3,599.3 1459.8,598.9 1460.3,598.5 1460.8,598.1 1461.3,598.6 1461.8,599.1 1462.3,599.7 1462.8,599.7 1463.3,599.3 1463.8,598.9 1464.3,598.5 1464.8,598.6 1465.3,598.8 1465.8,598.9 1466.3,598.7 1466.8,598.1 1467.3,597.5 1467.8,597.0 1468.3,597.1 1468.8,597.3 1469.3,597.4 1469.8,597.4 1470.3,597.4 1470.6,597.3 1470.7,597.3 1470.8,597.3 1471.3,597.2 1471.8,597.3 1472.3,597.4 1472.4,597.4 1472.6,597.4 1472.7,597.4 1472.8,597.5 1473.3,597.7 1473.8,598.2 1474.3,598.7 1474.8,599.1 1475.3,599.1 1475.8,599.0 1476.3,599.0 1476.8,598.8 1477.3,598.4 1477.8,598.0 1478.3,597.5 1478.8,597.7 1479.3,597.9 1479.8,598.1 1480.3,598.1 1480.8,597.8 1481.3,597.6 1481.8,597.4 1482.3,597.5 1482.8,597.6 1483.3,597.7 1483.8,597.6 1484.3,597.2 1484.8,596.8 1485.3,596.4 1485.8,596.9 1486.3,597.4 1486.8,597.8 1487.3,598.3 1487.8,598.9 1488.3,599.5 1488.8,600.0 1489.3,599.5 1489.8,599.0 1490.3,598.4 1490.8,598.0 1491.3,597.8 1491.8,599.1 1492.3,600.6" fill="none" stroke="#1a1aff" stroke-width="1.55" stroke-linejoin="round" />
<polyline points="1085.7,601.4 1086.2,601.4 1086.7,601.4 1087.2,601.4 1087.7,601.4 1088.2,601.4 1088.7,601.4 1089.2,601.4 1089.7,601.4 1090.2,601.4 1090.7,601.4 1091.2,601.4 1091.7,601.4 1092.2,601.4 1092.7,601.4 1093.2,601.4 1093.7,601.4 1094.2,601.4 1094.7,601.4 1095.2,601.4 1095.7,566.1 1096.2,324.5 1096.3,324.5 1096.5,324.5 1096.7,417.8 1097.2,601.4 1097.7,601.4 1098.2,601.4 1098.7,601.4 1099.2,601.4 1099.7,601.4 1100.2,601.4 1100.7,601.4 1101.2,601.4 1101.7,601.4 1102.2,601.4 1102.7,601.4 1103.2,601.4 1103.7,601.4 1104.2,601.4 1104.7,601.4 1105.2,601.4 1105.7,601.4 1106.2,601.4 1106.7,601.4 1107.2,601.4 1107.7,601.4 1108.2,601.4 1108.7,601.4 1109.2,601.4 1109.7,601.4 1110.2,601.4 1110.7,601.4 1111.2,601.4 1111.7,601.4 1112.2,601.4 1112.7,601.4 1113.2,601.4 1113.7,601.4 1114.2,601.4 1114.7,417.8 1115.0,324.5 1115.1,324.5 1115.2,324.5 1115.7,566.1 1116.2,601.4 1116.7,601.4 1117.3,601.4 1117.8,601.4 1118.3,601.4 1118.8,601.4 1119.3,601.4 1119.8,601.4 1120.3,601.4 1120.8,601.4 1121.3,601.4 1121.8,601.4 1122.3,601.4 1122.8,601.4 1123.3,601.4 1123.8,601.4 1124.3,601.4 1124.8,601.4 1125.3,601.4 1125.8,601.4 1126.3,601.4 1126.8,601.4 1127.3,601.4 1127.8,601.4 1128.3,601.4 1128.8,601.4 1129.3,601.4 1129.8,601.4 1130.3,601.4 1130.8,601.4 1131.3,601.4 1131.8,601.4 1132.3,601.4 1132.8,601.4 1133.3,601.4 1133.8,601.4 1134.3,601.4 1134.8,601.4 1135.3,601.4 1135.8,601.4 1136.3,601.4 1136.8,601.4 1137.3,601.4 1137.8,601.4 1138.3,601.4 1138.8,601.4 1139.3,601.4 1139.8,601.4 1140.3,601.4 1140.8,601.4 1141.3,601.4 1141.8,601.4 1142.3,601.4 1142.8,601.4 1143.3,601.4 1143.8,601.4 1144.3,601.4 1144.8,601.4 1145.3,601.4 1145.8,601.4 1146.3,601.4 1146.8,601.4 1147.3,601.4 1147.8,601.4 1148.3,601.4 1148.8,601.4 1149.3,601.4 1149.8,601.4 1150.3,601.4 1150.8,601.4 1151.3,601.4 1151.8,601.4 1152.3,601.4 1152.8,601.4 1153.3,601.4 1153.8,601.4 1154.3,599.5 1154.8,549.1 1155.1,510.6 1155.2,488.9 1155.3,510.6 1155.8,579.7 1156.3,601.4 1156.8,601.4 1157.3,601.4 1157.8,601.4 1158.3,601.4 1158.8,601.4 1159.3,601.4 1159.8,601.4 1160.3,601.4 1160.8,601.4 1161.3,601.4 1161.8,601.4 1162.3,417.8 1162.6,324.5 1162.7,324.5 1162.8,324.5 1163.3,566.1 1163.8,601.4 1164.3,601.4 1164.8,601.4 1165.3,601.4 1165.8,601.4 1166.3,601.4 1166.8,601.4 1167.3,601.4 1167.8,601.4 1168.3,601.4 1168.8,601.4 1169.3,601.4 1169.8,601.4 1170.3,601.4 1170.8,601.4 1171.3,601.4 1171.8,601.4 1172.3,601.4 1172.8,601.4 1173.3,601.4 1173.8,601.4 1174.3,601.4 1174.5,601.4 1174.6,601.4 1174.7,601.4 1174.8,601.4 1175.3,601.4 1175.8,601.4 1176.3,572.0 1176.8,518.3 1177.0,502.3 1177.1,485.3 1177.2,498.6 1177.3,511.0 1177.8,550.4 1178.2,566.1 1178.3,566.8 1178.5,569.3 1178.8,576.6 1179.3,585.3 1179.9,592.6 1180.4,598.3 1180.9,601.4 1181.4,601.4 1181.9,601.4 1182.4,601.4 1182.9,601.3 1183.4,600.9 1183.9,600.7 1184.4,600.5 1184.5,600.5 1184.6,600.4 1184.7,600.4 1184.9,600.4 1185.4,600.3 1185.9,600.3 1186.4,600.3 1186.9,600.3 1187.4,600.3 1187.9,600.3 1188.4,600.2 1188.9,600.2 1189.0,600.2 1189.1,600.2 1189.4,600.2 1189.9,600.1 1190.4,600.1 1190.9,600.1 1191.4,600.2 1191.9,600.3 1192.4,600.4 1192.9,600.4 1193.4,600.4 1193.9,600.4 1194.4,600.4 1194.9,600.3 1195.4,600.3 1195.9,600.2 1196.4,600.3 1196.9,600.4 1197.4,600.6 1197.9,600.7 1198.4,600.5 1198.9,600.3 1199.4,600.1 1199.9,600.0 1200.4,600.1 1200.9,600.2 1201.4,600.3 1201.9,600.4 1202.4,600.6 1202.9,600.8 1203.4,600.8 1203.9,600.8 1204.4,600.8 1204.9,600.7 1205.4,600.5 1205.9,600.3 1206.4,600.1 1206.9,600.5 1207.4,601.0 1207.9,601.4 1208.4,601.2 1208.9,601.1 1209.4,601.1 1209.9,601.1 1210.4,601.1 1210.9,601.1 1211.4,601.1 1211.9,601.1 1212.4,601.2 1212.9,601.2 1213.4,601.2 1213.9,601.2 1214.4,601.2 1214.9,601.2 1215.4,601.1 1215.9,601.2 1216.4,601.2 1216.9,601.2 1217.4,601.2 1217.9,601.1 1218.4,601.0 1218.9,600.9 1219.4,601.1 1219.9,601.3 1220.4,601.2 1220.9,600.4 1221.4,599.8 1221.9,599.8 1222.4,600.0 1222.9,599.9 1223.4,599.8 1223.9,599.7 1224.4,599.7 1224.9,599.7 1225.4,599.8 1225.9,599.8 1226.4,599.8 1226.5,599.8 1226.7,599.9 1226.9,599.9 1227.4,599.9 1227.9,599.9 1228.4,599.7 1228.9,599.6 1229.4,599.4 1229.6,599.4 1229.7,599.4 1229.8,599.4 1229.9,599.4 1230.4,599.3 1230.9,599.3 1231.4,599.3 1231.9,599.3 1232.4,599.4 1232.7,599.4 1232.8,599.5 1232.9,599.5 1233.4,599.5 1233.9,599.5 1234.4,599.6 1234.6,599.6 1234.7,599.6 1234.8,599.6 1234.9,599.6 1235.4,599.8 1235.9,599.9 1236.4,600.0 1236.9,600.0 1237.4,600.0 1237.9,600.0 1238.4,600.1 1238.9,600.2 1239.1,600.2 1239.2,600.3 1239.4,600.3 1239.9,600.5 1240.2,600.5 1240.3,600.5 1240.4,600.5 1240.9,600.5 1241.4,600.5 1241.9,600.3 1242.5,600.0 1243.0,599.6 1243.5,599.3 1244.0,599.2 1244.5,599.2 1245.0,599.1 1245.5,599.1 1246.0,599.1 1246.5,599.1 1247.0,599.2 1247.5,599.9 1248.0,600.8 1248.5,601.4 1249.0,601.4 1249.5,601.4 1250.0,601.4 1250.5,601.4 1251.0,601.4 1251.5,601.4 1252.0,601.4 1252.5,601.4 1253.0,601.4 1253.5,601.4 1254.0,601.4 1254.5,601.4 1255.0,601.4 1255.5,601.4 1256.0,601.4 1256.5,601.4 1257.0,601.4 1257.5,601.4 1258.0,601.4 1258.5,601.4 1259.0,601.4 1259.5,601.4 1260.0,601.1 1260.5,600.6 1261.0,600.2 1261.5,600.2 1262.0,600.3 1262.5,600.3 1263.0,600.3 1263.5,600.2 1264.0,600.0 1264.5,599.9 1265.0,600.0 1265.5,600.1 1266.0,600.2 1266.5,600.1 1267.0,599.7 1267.1,599.7 1267.2,599.6 1267.4,599.5 1267.5,599.4 1268.0,599.1 1268.5,599.2 1269.0,599.4 1269.5,599.5 1270.0,599.8 1270.2,600.0 1270.4,600.1 1270.5,600.1 1271.0,600.5 1271.5,600.8 1272.0,600.5 1272.5,600.1 1273.0,599.8 1273.4,599.7 1273.5,599.8 1273.6,599.8 1274.0,600.1 1274.5,600.4 1275.0,600.7 1275.5,600.3 1276.0,600.0 1276.5,599.6 1276.6,599.5 1276.8,599.5 1277.0,599.4 1277.5,599.3 1278.0,599.2 1278.4,599.1 1278.5,599.0 1278.6,599.1 1279.0,599.1 1279.5,599.2 1280.0,599.3 1280.5,599.3 1281.0,599.2 1281.5,599.1 1281.6,599.1 1281.8,599.1 1282.0,599.0 1282.5,599.2 1283.0,599.4 1283.4,599.5 1283.5,599.5 1283.6,599.6 1284.0,599.6 1284.5,599.7 1285.0,599.7 1285.5,599.8 1286.0,600.0 1286.5,600.3 1287.0,600.5 1287.5,600.6 1288.0,600.6 1288.4,600.6 1288.5,600.6 1288.6,600.6 1289.0,600.6 1289.2,600.5 1289.3,600.4 1289.5,600.2 1290.0,599.9 1290.5,599.5 1291.0,599.4 1291.5,599.7 1292.0,600.0 1292.2,600.0 1292.3,600.1 1292.4,600.1 1292.5,600.2 1293.0,599.8 1293.5,599.5 1294.0,599.1 1294.5,599.8 1295.0,600.8 1295.5,601.4 1296.0,601.4 1296.5,601.4 1297.0,601.4 1297.5,601.4 1298.0,601.4 1298.5,601.4 1299.0,601.4 1299.5,601.4 1300.0,601.4 1300.5,601.4 1301.0,601.4 1301.5,601.4 1302.0,601.4 1302.5,601.4 1303.0,601.4 1303.5,601.4 1304.0,601.4 1304.5,601.4 1305.1,601.4 1305.6,601.4 1306.1,601.4 1306.6,601.4 1307.1,601.4 1307.6,601.4 1308.1,601.4 1308.6,601.4 1309.1,601.4 1309.6,601.4 1310.1,601.4 1310.6,601.4 1311.1,601.4 1311.6,601.4 1312.1,601.4 1312.6,601.4 1313.1,601.4 1313.6,601.4 1314.1,601.4 1314.6,601.4 1315.1,601.4 1315.6,601.4 1316.1,601.4 1316.6,601.4 1317.1,601.4 1317.6,601.4 1318.1,601.4 1318.6,601.4 1319.1,601.4 1319.6,601.4 1320.1,601.4 1320.6,601.4 1321.1,601.4 1321.6,601.4 1322.1,601.4 1322.6,601.4 1323.1,601.4 1323.6,601.4 1324.1,601.4 1324.6,601.4 1325.1,601.4 1325.6,601.4 1326.1,601.4 1326.6,601.4 1327.1,601.4 1327.6,597.5 1328.1,581.3 1328.5,564.5 1328.6,558.1 1328.7,564.5 1329.1,581.3 1329.6,597.5 1330.1,601.4 1330.6,601.4 1331.1,601.4 1331.6,601.4 1332.1,601.4 1332.6,601.4 1333.1,601.4 1333.6,601.4 1334.1,601.4 1334.6,601.4 1335.1,601.4 1335.6,601.4 1336.1,601.4 1336.6,601.4 1337.1,601.4 1337.6,601.4 1338.1,601.4 1338.6,601.4 1339.1,601.4 1339.6,601.4 1340.1,601.4 1340.6,601.4 1341.1,601.4 1341.6,601.4 1342.1,601.4 1342.6,601.4 1343.1,601.4 1343.6,601.4 1344.1,601.4 1344.6,601.4 1345.1,601.4 1345.6,601.4 1346.1,601.4 1346.6,601.4 1347.1,601.4 1347.6,601.4 1348.1,601.4 1348.6,601.4 1349.1,601.4 1349.6,601.4 1350.1,601.4 1350.6,601.4 1351.1,601.4 1351.6,601.4 1352.1,601.4 1352.6,601.4 1353.1,601.4 1353.6,601.4 1354.1,601.4 1354.6,601.4 1355.1,601.4 1355.6,601.4 1356.1,601.4 1356.6,601.4 1357.1,601.4 1357.6,601.4 1358.1,601.4 1358.6,601.4 1359.1,601.4 1359.6,601.4 1360.1,601.4 1360.6,601.4 1361.1,601.4 1361.6,601.4 1362.1,601.4 1362.6,601.4 1363.1,601.4 1363.6,601.4 1364.1,601.4 1364.6,601.0 1365.1,600.4 1365.6,600.1 1366.1,600.2 1366.6,600.3 1367.1,600.5 1367.7,600.6 1368.2,600.6 1368.7,600.5 1369.2,600.3 1369.7,600.1 1370.2,600.1 1370.7,600.0 1371.2,600.0 1371.7,600.0 1372.2,599.9 1372.7,599.9 1373.2,599.9 1373.7,600.2 1374.2,600.4 1374.7,600.7 1375.2,600.8 1375.7,600.8 1376.2,600.8 1376.7,600.9 1376.8,600.8 1376.9,600.8 1377.2,600.7 1377.7,600.6 1378.2,600.4 1378.7,600.3 1379.2,600.1 1379.7,600.0 1380.2,599.8 1380.7,599.9 1381.2,600.0 1381.7,600.1 1382.2,600.2 1382.7,600.4 1382.9,600.5 1383.0,600.5 1383.2,600.6 1383.7,600.7 1384.2,600.7 1384.7,600.6 1385.2,600.6 1385.7,600.6 1386.1,600.6 1386.2,600.6 1386.3,600.6 1386.7,600.7 1387.2,600.7 1387.7,600.6 1388.2,600.4 1388.7,600.3 1389.2,600.2 1389.7,600.1 1390.2,599.9 1390.7,599.8 1391.2,600.0 1391.7,600.1 1392.2,600.3 1392.7,600.4 1393.2,600.5 1393.7,600.6 1394.2,600.7 1394.7,600.6 1395.2,600.4 1395.4,600.3 1395.6,600.3 1395.7,600.2 1396.2,600.1 1396.7,600.0 1397.2,599.9 1397.7,599.8 1398.2,599.9 1398.7,600.1 1399.2,600.3 1399.7,600.4 1400.2,600.5 1400.7,600.5 1401.2,600.5 1401.7,600.5 1402.2,600.4 1402.7,600.4 1403.2,600.4 1403.7,600.4 1404.2,600.4 1404.7,600.4 1404.8,600.4 1405.0,600.5 1405.1,600.5 1405.2,600.5 1405.7,600.5 1406.2,600.6 1406.7,600.5 1407.2,600.3 1407.7,600.0 1408.0,599.9 1408.1,599.8 1408.2,599.7 1408.7,600.0 1409.2,600.2 1409.7,600.4 1410.2,600.6 1410.7,600.6 1411.2,600.7 1411.7,600.8 1412.2,600.7 1412.7,600.5 1413.2,600.4 1413.7,600.3 1414.2,600.1 1414.7,599.9 1415.2,599.7 1415.7,599.9 1416.2,600.1 1416.7,600.4 1417.2,600.5 1417.7,600.5 1418.2,600.5 1418.7,600.5 1419.2,600.6 1419.7,600.7 1420.2,600.8 1420.7,600.8 1421.2,600.8 1421.7,600.8 1422.2,600.8 1422.7,600.7 1423.2,600.6 1423.7,600.5 1424.2,600.5 1424.7,600.6 1425.2,600.7 1425.7,600.8 1426.2,600.7 1426.7,600.6 1427.2,600.5 1427.7,600.4 1428.2,600.4 1428.7,600.4 1429.2,600.4 1429.7,600.4 1430.3,600.4 1430.8,600.3 1431.3,600.3 1431.8,600.3 1432.3,600.3 1432.8,600.3 1433.3,600.2 1433.8,600.1 1434.3,600.1 1434.8,600.1 1435.3,600.2 1435.8,600.3 1436.3,600.4 1436.8,600.3 1437.3,600.2 1437.8,600.1 1438.3,600.2 1438.8,600.4 1439.3,600.6 1439.8,600.8 1440.3,600.7 1440.8,600.5 1441.3,600.4 1441.8,600.3 1442.3,600.3 1442.8,600.3 1443.3,600.3 1443.8,600.3 1444.3,600.3 1444.8,600.4 1445.3,600.4 1445.8,600.3 1446.3,600.2 1446.8,600.1 1447.3,600.3 1447.8,600.4 1448.3,600.5 1448.8,600.6 1449.3,600.6 1449.8,600.5 1450.3,600.5 1450.8,600.4 1451.3,600.3 1451.8,600.2 1452.3,600.2 1452.8,600.4 1453.3,600.6 1453.8,600.7 1454.3,600.6 1454.8,600.4 1455.3,600.3 1455.8,600.3 1456.3,600.5 1456.8,600.7 1457.3,600.9 1457.8,600.8 1458.3,600.7 1458.8,600.5 1459.3,600.5 1459.8,600.5 1460.3,600.5 1460.8,600.5 1461.3,600.5 1461.8,600.5 1462.3,600.5 1462.8,600.5 1463.3,600.3 1463.8,600.2 1464.3,600.0 1464.8,600.2 1465.3,600.4 1465.8,600.5 1466.3,600.6 1466.8,600.5 1467.3,600.5 1467.8,600.5 1468.3,600.3 1468.8,600.2 1469.3,600.1 1469.8,600.1 1470.3,600.3 1470.6,600.4 1470.7,600.4 1470.8,600.4 1471.3,600.6 1471.8,600.4 1472.3,600.2 1472.4,600.2 1472.6,600.1 1472.7,600.1 1472.8,600.0 1473.3,600.0 1473.8,600.1 1474.3,600.2 1474.8,600.4 1475.3,600.2 1475.8,600.0 1476.3,599.8 1476.8,599.8 1477.3,600.0 1477.8,600.1 1478.3,600.3 1478.8,600.2 1479.3,600.2 1479.8,600.2 1480.3,600.2 1480.8,600.2 1481.3,600.2 1481.8,600.2 1482.3,600.3 1482.8,600.5 1483.3,600.6 1483.8,600.7 1484.3,600.7 1484.8,600.7 1485.3,600.7 1485.8,600.8 1486.3,600.9 1486.8,601.0 1487.3,600.9 1487.8,600.7 1488.3,600.5 1488.8,600.2 1489.3,600.3 1489.8,600.4 1490.3,600.5 1490.8,600.5 1491.3,600.5 1491.8,600.8 1492.3,601.2" fill="none" stroke="#129a12" stroke-width="1.55" stroke-linejoin="round" />
<line x1="1096.34" y1="324.50" x2="1096.34" y2="601.39" stroke="#129a12" stroke-width="2.2" />
<line x1="1115.12" y1="324.50" x2="1115.12" y2="601.39" stroke="#129a12" stroke-width="2.2" />
<line x1="1162.70" y1="324.50" x2="1162.70" y2="601.39" stroke="#129a12" stroke-width="2.2" />
<line x1="1179.60" y1="360" x2="1179.60" y2="617.7" stroke="#f4b060" stroke-width="1.5" stroke-dasharray="2,2.4"/>
<rect x="1085.70" y="324.50" width="406.90" height="294.20" fill="none" stroke="#6e6e6e" stroke-width="2.3"/>
<line x1="1079.70" y1="601.39" x2="1085.70" y2="601.39" stroke="#6e6e6e" stroke-width="2" />
<text x="1073.20" y="610.39" font-size="29.5" fill="#111" text-anchor="end" >0</text>
<line x1="1079.70" y1="514.86" x2="1085.70" y2="514.86" stroke="#6e6e6e" stroke-width="2" />
<text x="1073.20" y="523.86" font-size="29.5" fill="#111" text-anchor="end" >5</text>
<line x1="1079.70" y1="428.34" x2="1085.70" y2="428.34" stroke="#6e6e6e" stroke-width="2" />
<text x="1073.20" y="437.34" font-size="29.5" fill="#111" text-anchor="end" >10</text>
<line x1="1079.70" y1="341.81" x2="1085.70" y2="341.81" stroke="#6e6e6e" stroke-width="2" />
<text x="1073.20" y="350.81" font-size="29.5" fill="#111" text-anchor="end" >15</text>
<line x1="1082.20" y1="558.13" x2="1085.70" y2="558.13" stroke="#6e6e6e" stroke-width="1.6" />
<line x1="1082.20" y1="471.60" x2="1085.70" y2="471.60" stroke="#6e6e6e" stroke-width="1.6" />
<line x1="1082.20" y1="385.07" x2="1085.70" y2="385.07" stroke="#6e6e6e" stroke-width="1.6" />
<line x1="1117.00" y1="618.70" x2="1117.00" y2="624.70" stroke="#6e6e6e" stroke-width="2" />
<text x="1116.00" y="651.00" font-size="29.5" fill="#111" text-anchor="middle" >-1</text>
<line x1="1179.60" y1="618.70" x2="1179.60" y2="624.70" stroke="#6e6e6e" stroke-width="2" />
<text x="1179.60" y="651.00" font-size="29.5" fill="#111" text-anchor="middle" >0</text>
<line x1="1242.20" y1="618.70" x2="1242.20" y2="624.70" stroke="#6e6e6e" stroke-width="2" />
<text x="1242.20" y="651.00" font-size="29.5" fill="#111" text-anchor="middle" >1</text>
<line x1="1304.80" y1="618.70" x2="1304.80" y2="624.70" stroke="#6e6e6e" stroke-width="2" />
<text x="1304.80" y="651.00" font-size="29.5" fill="#111" text-anchor="middle" >2</text>
<line x1="1367.40" y1="618.70" x2="1367.40" y2="624.70" stroke="#6e6e6e" stroke-width="2" />
<text x="1367.40" y="651.00" font-size="29.5" fill="#111" text-anchor="middle" >3</text>
<line x1="1430.00" y1="618.70" x2="1430.00" y2="624.70" stroke="#6e6e6e" stroke-width="2" />
<text x="1430.00" y="651.00" font-size="29.5" fill="#111" text-anchor="middle" >4</text>
<line x1="1492.60" y1="618.70" x2="1492.60" y2="624.70" stroke="#6e6e6e" stroke-width="2" />
<text x="1492.60" y="651.00" font-size="29.5" fill="#111" text-anchor="middle" >5</text>
<line x1="1085.70" y1="618.70" x2="1085.70" y2="622.20" stroke="#6e6e6e" stroke-width="1.6" />
<line x1="1148.30" y1="618.70" x2="1148.30" y2="622.20" stroke="#6e6e6e" stroke-width="1.6" />
<line x1="1210.90" y1="618.70" x2="1210.90" y2="622.20" stroke="#6e6e6e" stroke-width="1.6" />
<line x1="1273.50" y1="618.70" x2="1273.50" y2="622.20" stroke="#6e6e6e" stroke-width="1.6" />
<line x1="1336.10" y1="618.70" x2="1336.10" y2="622.20" stroke="#6e6e6e" stroke-width="1.6" />
<line x1="1398.70" y1="618.70" x2="1398.70" y2="622.20" stroke="#6e6e6e" stroke-width="1.6" />
<line x1="1461.30" y1="618.70" x2="1461.30" y2="622.20" stroke="#6e6e6e" stroke-width="1.6" />
<text x="1170.00" y="349.00" font-size="20.5" fill="#f5a040" textLength="108.00" lengthAdjust="spacingAndGlyphs" >Fermi level</text>
<text x="1320.00" y="358.00" font-size="27.5" fill="#000" font-weight="bold" textLength="159.00" lengthAdjust="spacingAndGlyphs" ><tspan>Cu</tspan><tspan font-size="19.80" dy="5.50">1</tspan><tspan dy="-5.50">-N</tspan><tspan font-size="19.80" dy="5.50">2</tspan><tspan dy="-5.50"> site</tspan></text>
<line x1="1312.00" y1="406.00" x2="1362.00" y2="406.00" stroke="#111111" stroke-width="2.0" />
<text x="1365.00" y="415.00" font-size="28.5" fill="#000" font-weight="bold" textLength="63.00" lengthAdjust="spacingAndGlyphs" ><tspan>Total</tspan></text>
<line x1="1312.00" y1="437.50" x2="1362.00" y2="437.50" stroke="#ff1a1a" stroke-width="2.0" />
<text x="1365.00" y="446.00" font-size="28.5" fill="#000" font-weight="bold" textLength="62.00" lengthAdjust="spacingAndGlyphs" ><tspan>C 2</tspan><tspan font-style="italic">p</tspan></text>
<line x1="1312.00" y1="468.00" x2="1362.00" y2="468.00" stroke="#1a1aff" stroke-width="2.0" />
<text x="1365.00" y="477.00" font-size="28.5" fill="#000" font-weight="bold" textLength="62.00" lengthAdjust="spacingAndGlyphs" ><tspan>N 2</tspan><tspan font-style="italic">p</tspan></text>
<line x1="1312.00" y1="499.00" x2="1362.00" y2="499.00" stroke="#129a12" stroke-width="2.0" />
<text x="1365.00" y="508.00" font-size="28.5" fill="#000" font-weight="bold" textLength="80.00" lengthAdjust="spacingAndGlyphs" ><tspan>Cu 3</tspan><tspan font-style="italic">d</tspan></text>
<text x="0" y="0" font-size="49.25" font-weight="bold" fill="#000" transform="translate(1013.49 361.51) scale(0.898 1)">d</text>
<text x="1039.00" y="579.40" font-size="37" fill="#000" font-weight="bold" textLength="209.00" lengthAdjust="spacingAndGlyphs" transform="rotate(-90 1039.00 579.40)" >DOS (sate/eV)</text>
<text x="1208.60" y="683.50" font-size="32" fill="#000" font-weight="bold" textLength="171.50" lengthAdjust="spacingAndGlyphs" >Energy (eV)</text>
<rect x="82.00" y="712.30" width="404.60" height="310.50" fill="none" stroke="#6e6e6e" stroke-width="2.3"/>
<line x1="76.00" y1="1022.60" x2="82.00" y2="1022.60" stroke="#6e6e6e" stroke-width="2" />
<text x="70.00" y="1030.97" font-size="27" fill="#111" text-anchor="end" >-4</text>
<line x1="78.50" y1="996.73" x2="82.00" y2="996.73" stroke="#6e6e6e" stroke-width="1.6" />
<line x1="76.00" y1="970.85" x2="82.00" y2="970.85" stroke="#6e6e6e" stroke-width="2" />
<text x="70.00" y="979.22" font-size="27" fill="#111" text-anchor="end" >-3</text>
<line x1="78.50" y1="944.98" x2="82.00" y2="944.98" stroke="#6e6e6e" stroke-width="1.6" />
<line x1="76.00" y1="919.10" x2="82.00" y2="919.10" stroke="#6e6e6e" stroke-width="2" />
<text x="70.00" y="927.47" font-size="27" fill="#111" text-anchor="end" >-2</text>
<line x1="78.50" y1="893.23" x2="82.00" y2="893.23" stroke="#6e6e6e" stroke-width="1.6" />
<line x1="76.00" y1="867.35" x2="82.00" y2="867.35" stroke="#6e6e6e" stroke-width="2" />
<text x="70.00" y="875.72" font-size="27" fill="#111" text-anchor="end" >-1</text>
<line x1="78.50" y1="841.48" x2="82.00" y2="841.48" stroke="#6e6e6e" stroke-width="1.6" />
<line x1="76.00" y1="815.60" x2="82.00" y2="815.60" stroke="#6e6e6e" stroke-width="2" />
<text x="70.00" y="823.97" font-size="27" fill="#111" text-anchor="end" >0</text>
<line x1="78.50" y1="789.73" x2="82.00" y2="789.73" stroke="#6e6e6e" stroke-width="1.6" />
<line x1="76.00" y1="763.85" x2="82.00" y2="763.85" stroke="#6e6e6e" stroke-width="2" />
<text x="70.00" y="772.22" font-size="27" fill="#111" text-anchor="end" >1</text>
<line x1="78.50" y1="737.98" x2="82.00" y2="737.98" stroke="#6e6e6e" stroke-width="1.6" />
<line x1="76.00" y1="712.10" x2="82.00" y2="712.10" stroke="#6e6e6e" stroke-width="2" />
<text x="70.00" y="720.47" font-size="27" fill="#111" text-anchor="end" >2</text>
<line x1="108.30" y1="1022.80" x2="108.30" y2="1028.30" stroke="#6e6e6e" stroke-width="2" />
<line x1="225.00" y1="1022.80" x2="225.00" y2="1028.30" stroke="#6e6e6e" stroke-width="2" />
<line x1="341.50" y1="1022.80" x2="341.50" y2="1028.30" stroke="#6e6e6e" stroke-width="2" />
<line x1="458.00" y1="1022.80" x2="458.00" y2="1028.30" stroke="#6e6e6e" stroke-width="2" />
<line x1="138.0" y1="815.6" x2="196.8" y2="837.9" stroke="#50a050" stroke-width="1.9" stroke-dasharray="4,3.2" opacity="0.9"/>
<line x1="256.8" y1="837.9" x2="312.1" y2="739.0" stroke="#50a050" stroke-width="1.9" stroke-dasharray="4,3.2" opacity="0.9"/>
<line x1="372.1" y1="739.0" x2="428.0" y2="939.3" stroke="#50a050" stroke-width="1.9" stroke-dasharray="4,3.2" opacity="0.9"/>
<line x1="138.0" y1="815.6" x2="196.8" y2="876.1" stroke="#9050e0" stroke-width="1.9" stroke-dasharray="4,3.2" opacity="0.9"/>
<line x1="256.8" y1="876.1" x2="312.1" y2="799.6" stroke="#9050e0" stroke-width="1.9" stroke-dasharray="4,3.2" opacity="0.9"/>
<line x1="372.1" y1="799.6" x2="428.0" y2="969.8" stroke="#9050e0" stroke-width="1.9" stroke-dasharray="4,3.2" opacity="0.9"/>
<line x1="138.0" y1="815.6" x2="196.8" y2="871.5" stroke="#e85050" stroke-width="1.9" stroke-dasharray="4,3.2" opacity="0.9"/>
<line x1="256.8" y1="871.5" x2="312.1" y2="808.4" stroke="#e85050" stroke-width="1.9" stroke-dasharray="4,3.2" opacity="0.9"/>
<line x1="372.1" y1="808.4" x2="428.0" y2="845.6" stroke="#e85050" stroke-width="1.9" stroke-dasharray="4,3.2" opacity="0.9"/>
<line x1="83.00" y1="815.60" x2="138.00" y2="815.60" stroke="#1f961f" stroke-width="2.8" />
<line x1="196.80" y1="837.85" x2="256.80" y2="837.85" stroke="#1f961f" stroke-width="2.8" />
<line x1="312.10" y1="739.01" x2="372.10" y2="739.01" stroke="#1f961f" stroke-width="2.8" />
<line x1="428.00" y1="939.28" x2="485.60" y2="939.28" stroke="#1f961f" stroke-width="2.8" />
<line x1="83.00" y1="815.60" x2="138.00" y2="815.60" stroke="#8a2be6" stroke-width="2.8" />
<line x1="196.80" y1="876.15" x2="256.80" y2="876.15" stroke="#8a2be6" stroke-width="2.8" />
<line x1="312.10" y1="799.56" x2="372.10" y2="799.56" stroke="#8a2be6" stroke-width="2.8" />
<line x1="428.00" y1="969.82" x2="485.60" y2="969.82" stroke="#8a2be6" stroke-width="2.8" />
<line x1="83.00" y1="815.60" x2="138.00" y2="815.60" stroke="#f01e1e" stroke-width="2.8" />
<line x1="196.80" y1="871.49" x2="256.80" y2="871.49" stroke="#f01e1e" stroke-width="2.8" />
<line x1="312.10" y1="808.36" x2="372.10" y2="808.36" stroke="#f01e1e" stroke-width="2.8" />
<line x1="428.00" y1="845.62" x2="485.60" y2="845.62" stroke="#f01e1e" stroke-width="2.8" />
<line x1="83.00" y1="815.60" x2="138.00" y2="815.60" stroke="#b42a2a" stroke-width="2.8" />
<line x1="196.80" y1="871.49" x2="256.80" y2="871.49" stroke="#b03030" stroke-width="2.8" />
<text x="307.60" y="733.30" font-size="26" fill="#1f961f" textLength="66.60" lengthAdjust="spacingAndGlyphs" >+1.48</text>
<text x="307.60" y="793.70" font-size="26" fill="#8a2be6" textLength="65.40" lengthAdjust="spacingAndGlyphs" >+0.31</text>
<text x="307.60" y="829.50" font-size="26" fill="#f01e1e" textLength="65.40" lengthAdjust="spacingAndGlyphs" >+0.14</text>
<text x="194.60" y="830.70" font-size="26" fill="#1f961f" textLength="61.20" lengthAdjust="spacingAndGlyphs" >-0.43</text>
<text x="194.60" y="865.30" font-size="26" fill="#f01e1e" textLength="61.20" lengthAdjust="spacingAndGlyphs" >-1.08</text>
<text x="194.60" y="897.90" font-size="26" fill="#8a2be6" textLength="61.20" lengthAdjust="spacingAndGlyphs" >-1.17</text>
<text x="422.30" y="840.60" font-size="26" fill="#f01e1e" textLength="60.40" lengthAdjust="spacingAndGlyphs" >-0.58</text>
<text x="423.00" y="935.30" font-size="26" fill="#1f961f" textLength="62.00" lengthAdjust="spacingAndGlyphs" >-2.39</text>
<text x="423.00" y="963.40" font-size="26" fill="#8a2be6" textLength="62.00" lengthAdjust="spacingAndGlyphs" >-2.98</text>
<line x1="87.20" y1="925.70" x2="125.00" y2="925.70" stroke="#f01e1e" stroke-width="2.2" />
<text x="130.40" y="931.50" font-size="27.5" fill="#000" font-weight="bold" textLength="207.90" lengthAdjust="spacingAndGlyphs" ><tspan>Cu-N</tspan><tspan font-size="19.80" dy="5.50">1</tspan><tspan dy="-5.50">O</tspan><tspan font-size="19.80" dy="5.50">2</tspan><tspan dy="-5.50"> SA/CN</tspan></text>
<line x1="87.20" y1="963.90" x2="125.00" y2="963.90" stroke="#8a2be6" stroke-width="2.2" />
<text x="130.40" y="970.20" font-size="27.5" fill="#000" font-weight="bold" textLength="173.60" lengthAdjust="spacingAndGlyphs" ><tspan>Cu-N</tspan><tspan font-size="19.80" dy="5.50">2</tspan><tspan dy="-5.50"> SA/CN</tspan></text>
<line x1="87.20" y1="1002.60" x2="125.00" y2="1002.60" stroke="#1f961f" stroke-width="2.2" />
<text x="130.40" y="1009.80" font-size="27.5" fill="#000" font-weight="bold" textLength="173.60" lengthAdjust="spacingAndGlyphs" ><tspan>Cu-N</tspan><tspan font-size="19.80" dy="5.50">3</tspan><tspan dy="-5.50"> SA/CN</tspan></text>
<text x="0" y="0" font-size="32" fill="#111" transform="translate(21.1 1103.3) rotate(-30)"><tspan>H</tspan><tspan font-size="21.12" dy="6.40">2</tspan><tspan dy="-6.40">O</tspan><tspan font-size="21.12" dy="6.40">2</tspan><tspan dy="-6.40"> (g)</tspan></text>
<text x="0" y="0" font-size="32" fill="#111" transform="translate(169.4 1086.3) rotate(-30)"><tspan>H</tspan><tspan font-size="21.12" dy="6.40">2</tspan><tspan dy="-6.40">O</tspan><tspan font-size="21.12" dy="6.40">2</tspan><tspan font-size="24.96" dy="-8.32">*</tspan></text>
<text x="0" y="0" font-size="32" fill="#111" transform="translate(306.9 1073.6) rotate(-30)"><tspan>TS1</tspan></text>
<text x="0" y="0" font-size="32" fill="#111" transform="translate(437.4 1066.5) rotate(-30)"><tspan>O</tspan><tspan font-size="24.96" dy="-1.92">*</tspan></text>
<text x="0" y="0" font-size="50.55" font-weight="bold" fill="#000" transform="translate(-0.45 716.99) scale(1.040 1)">e</text>
<text x="26.50" y="1033.80" font-size="36" fill="#000" font-weight="bold" textLength="302.00" lengthAdjust="spacingAndGlyphs" transform="rotate(-90 26.50 1033.80)" >Relative Energy (eV)</text>
<rect x="583.20" y="711.20" width="407.80" height="312.10" fill="none" stroke="#6e6e6e" stroke-width="2.3"/>
<line x1="579.70" y1="1022.53" x2="583.20" y2="1022.53" stroke="#6e6e6e" stroke-width="1.6" />
<line x1="577.20" y1="998.55" x2="583.20" y2="998.55" stroke="#6e6e6e" stroke-width="2" />
<text x="570.90" y="1006.92" font-size="27" fill="#111" text-anchor="end" >-3</text>
<line x1="579.70" y1="974.58" x2="583.20" y2="974.58" stroke="#6e6e6e" stroke-width="1.6" />
<line x1="577.20" y1="950.60" x2="583.20" y2="950.60" stroke="#6e6e6e" stroke-width="2" />
<text x="570.90" y="958.97" font-size="27" fill="#111" text-anchor="end" >-2</text>
<line x1="579.70" y1="926.62" x2="583.20" y2="926.62" stroke="#6e6e6e" stroke-width="1.6" />
<line x1="577.20" y1="902.65" x2="583.20" y2="902.65" stroke="#6e6e6e" stroke-width="2" />
<text x="570.90" y="911.02" font-size="27" fill="#111" text-anchor="end" >-1</text>
<line x1="579.70" y1="878.68" x2="583.20" y2="878.68" stroke="#6e6e6e" stroke-width="1.6" />
<line x1="577.20" y1="854.70" x2="583.20" y2="854.70" stroke="#6e6e6e" stroke-width="2" />
<text x="570.90" y="863.07" font-size="27" fill="#111" text-anchor="end" >0</text>
<line x1="579.70" y1="830.73" x2="583.20" y2="830.73" stroke="#6e6e6e" stroke-width="1.6" />
<line x1="577.20" y1="806.75" x2="583.20" y2="806.75" stroke="#6e6e6e" stroke-width="2" />
<text x="570.90" y="815.12" font-size="27" fill="#111" text-anchor="end" >1</text>
<line x1="579.70" y1="782.78" x2="583.20" y2="782.78" stroke="#6e6e6e" stroke-width="1.6" />
<line x1="577.20" y1="758.80" x2="583.20" y2="758.80" stroke="#6e6e6e" stroke-width="2" />
<text x="570.90" y="767.17" font-size="27" fill="#111" text-anchor="end" >2</text>
<line x1="579.70" y1="734.83" x2="583.20" y2="734.83" stroke="#6e6e6e" stroke-width="1.6" />
<line x1="577.20" y1="710.85" x2="583.20" y2="710.85" stroke="#6e6e6e" stroke-width="2" />
<text x="570.90" y="719.22" font-size="27" fill="#111" text-anchor="end" >3</text>
<line x1="603.80" y1="1023.30" x2="603.80" y2="1028.80" stroke="#6e6e6e" stroke-width="2" />
<line x1="695.30" y1="1023.30" x2="695.30" y2="1028.80" stroke="#6e6e6e" stroke-width="2" />
<line x1="787.00" y1="1023.30" x2="787.00" y2="1028.80" stroke="#6e6e6e" stroke-width="2" />
<line x1="878.80" y1="1023.30" x2="878.80" y2="1028.80" stroke="#6e6e6e" stroke-width="2" />
<line x1="967.10" y1="1023.30" x2="967.10" y2="1028.80" stroke="#6e6e6e" stroke-width="2" />
<line x1="628.0" y1="854.7" x2="672.5" y2="758.8" stroke="#9050e0" stroke-width="1.9" stroke-dasharray="4,3.2" opacity="0.9"/>
<line x1="718.5" y1="758.8" x2="763.5" y2="790.0" stroke="#9050e0" stroke-width="1.9" stroke-dasharray="4,3.2" opacity="0.9"/>
<line x1="809.5" y1="790.0" x2="853.5" y2="755.0" stroke="#9050e0" stroke-width="1.9" stroke-dasharray="4,3.2" opacity="0.9"/>
<line x1="899.5" y1="755.0" x2="945.0" y2="977.5" stroke="#9050e0" stroke-width="1.9" stroke-dasharray="4,3.2" opacity="0.9"/>
<line x1="628.0" y1="854.7" x2="672.5" y2="745.9" stroke="#50a050" stroke-width="1.9" stroke-dasharray="4,3.2" opacity="0.9"/>
<line x1="718.5" y1="745.9" x2="763.5" y2="798.6" stroke="#50a050" stroke-width="1.9" stroke-dasharray="4,3.2" opacity="0.9"/>
<line x1="809.5" y1="798.6" x2="853.5" y2="753.0" stroke="#50a050" stroke-width="1.9" stroke-dasharray="4,3.2" opacity="0.9"/>
<line x1="899.5" y1="753.0" x2="945.0" y2="990.4" stroke="#50a050" stroke-width="1.9" stroke-dasharray="4,3.2" opacity="0.9"/>
<line x1="809.5" y1="854.7" x2="853.5" y2="826.9" stroke="#e85050" stroke-width="1.9" stroke-dasharray="4,3.2" opacity="0.9"/>
<line x1="899.5" y1="826.9" x2="945.0" y2="960.7" stroke="#e85050" stroke-width="1.9" stroke-dasharray="4,3.2" opacity="0.9"/>
<line x1="763.50" y1="854.70" x2="809.50" y2="854.70" stroke="#f01e1e" stroke-width="2.8" />
<line x1="853.50" y1="826.89" x2="899.50" y2="826.89" stroke="#f01e1e" stroke-width="2.8" />
<line x1="945.00" y1="960.67" x2="990.00" y2="960.67" stroke="#f01e1e" stroke-width="2.8" />
<line x1="584.20" y1="854.70" x2="628.00" y2="854.70" stroke="#8a2be6" stroke-width="2.8" />
<line x1="672.50" y1="758.80" x2="718.50" y2="758.80" stroke="#8a2be6" stroke-width="2.8" />
<line x1="763.50" y1="789.97" x2="809.50" y2="789.97" stroke="#8a2be6" stroke-width="2.8" />
<line x1="853.50" y1="754.96" x2="899.50" y2="754.96" stroke="#8a2be6" stroke-width="2.8" />
<line x1="945.00" y1="977.45" x2="990.00" y2="977.45" stroke="#8a2be6" stroke-width="2.8" />
<line x1="584.20" y1="854.70" x2="628.00" y2="854.70" stroke="#1f961f" stroke-width="2.8" />
<line x1="672.50" y1="745.85" x2="718.50" y2="745.85" stroke="#1f961f" stroke-width="2.8" />
<line x1="763.50" y1="798.60" x2="809.50" y2="798.60" stroke="#1f961f" stroke-width="2.8" />
<line x1="853.50" y1="753.05" x2="899.50" y2="753.05" stroke="#1f961f" stroke-width="2.8" />
<line x1="945.00" y1="990.40" x2="990.00" y2="990.40" stroke="#1f961f" stroke-width="2.8" />
<line x1="853.50" y1="754.00" x2="899.50" y2="754.00" stroke="#1e4a60" stroke-width="2.6" />
<text x="665.40" y="742.00" font-size="25.5" fill="#1f961f" textLength="67.20" lengthAdjust="spacingAndGlyphs" >+2.27</text>
<text x="665.40" y="779.20" font-size="25.5" fill="#8a2be6" textLength="68.10" lengthAdjust="spacingAndGlyphs" >+2.00</text>
<text x="753.60" y="785.40" font-size="25.5" fill="#8a2be6" textLength="67.80" lengthAdjust="spacingAndGlyphs" >+1.35</text>
<text x="753.60" y="820.40" font-size="25.5" fill="#1f961f" textLength="67.20" lengthAdjust="spacingAndGlyphs" >+1.17</text>
<text x="844.60" y="747.60" font-size="25.5" fill="#1f961f" textLength="67.20" lengthAdjust="spacingAndGlyphs" >+2.12</text>
<text x="844.60" y="777.00" font-size="25.5" fill="#8a2be6" textLength="67.20" lengthAdjust="spacingAndGlyphs" >+2.08</text>
<text x="839.00" y="851.20" font-size="25.5" fill="#f01e1e" textLength="67.20" lengthAdjust="spacingAndGlyphs" >+0.58</text>
<text x="927.00" y="955.20" font-size="25.5" fill="#f01e1e" textLength="61.80" lengthAdjust="spacingAndGlyphs" >-2.21</text>
<text x="876.40" y="985.90" font-size="25.5" fill="#8a2be6" textLength="61.80" lengthAdjust="spacingAndGlyphs" >-2.56</text>
<text x="925.00" y="1015.80" font-size="25.5" fill="#1f961f" textLength="61.90" lengthAdjust="spacingAndGlyphs" >-2.83</text>
<line x1="592.60" y1="925.20" x2="625.00" y2="925.20" stroke="#f01e1e" stroke-width="2.2" />
<text x="636.70" y="935.10" font-size="28" fill="#000" font-weight="bold" textLength="207.00" lengthAdjust="spacingAndGlyphs" ><tspan>Cu-N</tspan><tspan font-size="20.16" dy="5.60">1</tspan><tspan dy="-5.60">O</tspan><tspan font-size="20.16" dy="5.60">2</tspan><tspan dy="-5.60"> SA/CN</tspan></text>
<line x1="592.60" y1="963.50" x2="625.00" y2="963.50" stroke="#8a2be6" stroke-width="2.2" />
<text x="636.70" y="972.90" font-size="28" fill="#000" font-weight="bold" textLength="173.70" lengthAdjust="spacingAndGlyphs" ><tspan>Cu-N</tspan><tspan font-size="20.16" dy="5.60">2</tspan><tspan dy="-5.60"> SA/CN</tspan></text>
<line x1="592.60" y1="1002.60" x2="625.00" y2="1002.60" stroke="#1f961f" stroke-width="2.2" />
<text x="636.70" y="1014.30" font-size="28" fill="#000" font-weight="bold" textLength="173.70" lengthAdjust="spacingAndGlyphs" ><tspan>Cu-N</tspan><tspan font-size="20.16" dy="5.60">3</tspan><tspan dy="-5.60"> SA/CN</tspan></text>
<text x="0" y="0" font-size="32" fill="#111" transform="translate(509.5 1107.0) rotate(-30)"><tspan>C</tspan><tspan font-size="21.12" dy="6.40">6</tspan><tspan dy="-6.40">H</tspan><tspan font-size="21.12" dy="6.40">6</tspan><tspan dy="-6.40">+O</tspan><tspan font-size="24.96" dy="-1.92">*</tspan></text>
<text x="0" y="0" font-size="32" fill="#111" transform="translate(658.9 1076.2) rotate(-30)"><tspan>TS2</tspan></text>
<text x="0" y="0" font-size="32" fill="#111" transform="translate(708.5 1102.0) rotate(-30)"><tspan>C</tspan><tspan font-size="21.12" dy="6.40">6</tspan><tspan dy="-6.40">H</tspan><tspan font-size="21.12" dy="6.40">6</tspan><tspan dy="-6.40">O</tspan><tspan font-size="24.96" dy="-1.92">*</tspan></text>
<text x="0" y="0" font-size="32" fill="#111" transform="translate(840.6 1075.7) rotate(-30)"><tspan>TS3</tspan></text>
<text x="0" y="0" font-size="32" fill="#111" transform="translate(874.8 1106.2) rotate(-30)"><tspan>C</tspan><tspan font-size="21.12" dy="6.40">6</tspan><tspan dy="-6.40">H</tspan><tspan font-size="21.12" dy="6.40">5</tspan><tspan dy="-6.40">OH</tspan></text>
<text x="0" y="0" font-size="51.03" font-weight="bold" fill="#000" transform="translate(515.48 728.70) scale(0.949 1)">f</text>
<text x="536.50" y="1034.50" font-size="36" fill="#000" font-weight="bold" textLength="306.00" lengthAdjust="spacingAndGlyphs" transform="rotate(-90 536.50 1034.50)" >Relative Energy (eV)</text>
<rect x="1085.3" y="713.3" width="407.3" height="310.0" fill="none" stroke="#6e6e6e" stroke-width="2.3"/>
<line x1="1079.30" y1="1001.30" x2="1085.30" y2="1001.30" stroke="#6e6e6e" stroke-width="2" />
<text x="1073.00" y="1010.30" font-size="29.5" fill="#111" text-anchor="end" >2</text>
<line x1="1079.30" y1="918.90" x2="1085.30" y2="918.90" stroke="#6e6e6e" stroke-width="2" />
<text x="1073.00" y="927.90" font-size="29.5" fill="#111" text-anchor="end" >3</text>
<line x1="1079.30" y1="836.50" x2="1085.30" y2="836.50" stroke="#6e6e6e" stroke-width="2" />
<text x="1073.00" y="845.50" font-size="29.5" fill="#111" text-anchor="end" >4</text>
<line x1="1079.30" y1="754.10" x2="1085.30" y2="754.10" stroke="#6e6e6e" stroke-width="2" />
<text x="1073.00" y="763.10" font-size="29.5" fill="#111" text-anchor="end" >5</text>
<line x1="1081.80" y1="960.10" x2="1085.30" y2="960.10" stroke="#6e6e6e" stroke-width="1.6" />
<line x1="1081.80" y1="877.70" x2="1085.30" y2="877.70" stroke="#6e6e6e" stroke-width="1.6" />
<line x1="1081.80" y1="795.30" x2="1085.30" y2="795.30" stroke="#6e6e6e" stroke-width="1.6" />
<line x1="1085.40" y1="1023.30" x2="1085.40" y2="1028.80" stroke="#6e6e6e" stroke-width="2" />
<text x="1085.40" y="1056.70" font-size="29.5" fill="#111" text-anchor="middle" textLength="57.40" lengthAdjust="spacingAndGlyphs" >2.80</text>
<line x1="1148.00" y1="1023.30" x2="1148.00" y2="1028.80" stroke="#6e6e6e" stroke-width="2" />
<text x="1148.00" y="1056.70" font-size="29.5" fill="#111" text-anchor="middle" textLength="57.40" lengthAdjust="spacingAndGlyphs" >2.85</text>
<line x1="1210.60" y1="1023.30" x2="1210.60" y2="1028.80" stroke="#6e6e6e" stroke-width="2" />
<text x="1210.60" y="1056.70" font-size="29.5" fill="#111" text-anchor="middle" textLength="57.40" lengthAdjust="spacingAndGlyphs" >2.90</text>
<line x1="1273.20" y1="1023.30" x2="1273.20" y2="1028.80" stroke="#6e6e6e" stroke-width="2" />
<text x="1273.20" y="1056.70" font-size="29.5" fill="#111" text-anchor="middle" textLength="57.40" lengthAdjust="spacingAndGlyphs" >2.95</text>
<line x1="1335.80" y1="1023.30" x2="1335.80" y2="1028.80" stroke="#6e6e6e" stroke-width="2" />
<text x="1335.80" y="1056.70" font-size="29.5" fill="#111" text-anchor="middle" textLength="57.40" lengthAdjust="spacingAndGlyphs" >3.00</text>
<line x1="1398.40" y1="1023.30" x2="1398.40" y2="1028.80" stroke="#6e6e6e" stroke-width="2" />
<text x="1398.40" y="1056.70" font-size="29.5" fill="#111" text-anchor="middle" textLength="57.40" lengthAdjust="spacingAndGlyphs" >3.05</text>
<line x1="1461.00" y1="1023.30" x2="1461.00" y2="1028.80" stroke="#6e6e6e" stroke-width="2" />
<text x="1461.00" y="1056.70" font-size="29.5" fill="#111" text-anchor="middle" textLength="57.40" lengthAdjust="spacingAndGlyphs" >3.10</text>
<line x1="1116.70" y1="1023.30" x2="1116.70" y2="1026.80" stroke="#6e6e6e" stroke-width="1.6" />
<line x1="1179.30" y1="1023.30" x2="1179.30" y2="1026.80" stroke="#6e6e6e" stroke-width="1.6" />
<line x1="1241.90" y1="1023.30" x2="1241.90" y2="1026.80" stroke="#6e6e6e" stroke-width="1.6" />
<line x1="1304.50" y1="1023.30" x2="1304.50" y2="1026.80" stroke="#6e6e6e" stroke-width="1.6" />
<line x1="1367.10" y1="1023.30" x2="1367.10" y2="1026.80" stroke="#6e6e6e" stroke-width="1.6" />
<line x1="1429.70" y1="1023.30" x2="1429.70" y2="1026.80" stroke="#6e6e6e" stroke-width="1.6" />
<line x1="1492.30" y1="1023.30" x2="1492.30" y2="1026.80" stroke="#6e6e6e" stroke-width="1.6" />
<text x="1219.50" y="1091.30" font-size="30" fill="#000" font-weight="bold" textLength="163.50" lengthAdjust="spacingAndGlyphs" >1/T (x1000)</text>
<text x="0" y="0" font-size="51.53" font-weight="bold" fill="#000" transform="translate(1012.69 719.08) scale(0.903 1)">g</text>
<text x="1039.3" y="886.6" font-size="33" fill="#111" transform="rotate(-90 1039.3 886.6)" textLength="43" lengthAdjust="spacingAndGlyphs">ln<tspan font-style="italic">k</tspan></text>
<line x1="1126.30" y1="747.50" x2="1456.00" y2="941.50" stroke="#222" stroke-width="1.6" />
<line x1="1125.50" y1="803.40" x2="1456.20" y2="852.90" stroke="#ee2a2a" stroke-width="1.6" />
<line x1="1126.00" y1="847.00" x2="1456.00" y2="902.50" stroke="#9a55f0" stroke-width="1.6" />
<line x1="1126.60" y1="926.50" x2="1456.00" y2="1005.50" stroke="#3a9a3a" stroke-width="1.6" />
<circle cx="1126.3" cy="803.4" r="6.4" fill="#ee2a2a" stroke="#d02020" stroke-width="1"/>
<circle cx="1124.3" cy="801.4" r="1.8" fill="#ff9a9a"/>
<circle cx="1229.5" cy="821.5" r="6.4" fill="#ee2a2a" stroke="#d02020" stroke-width="1"/>
<circle cx="1227.5" cy="819.5" r="1.8" fill="#ff9a9a"/>
<circle cx="1339.4" cy="830.4" r="6.4" fill="#ee2a2a" stroke="#d02020" stroke-width="1"/>
<circle cx="1337.4" cy="828.4" r="1.8" fill="#ff9a9a"/>
<circle cx="1456.0" cy="852.9" r="6.4" fill="#ee2a2a" stroke="#d02020" stroke-width="1"/>
<circle cx="1454.0" cy="850.9" r="1.8" fill="#ff9a9a"/>
<polygon points="1120.0,850.1 1132.6,850.1 1126.3,840.1" fill="#fff" stroke="#8a2be8" stroke-width="2.5" stroke-linejoin="miter"/>
<polygon points="1223.2,866.7 1235.8,866.7 1229.5,856.7" fill="#fff" stroke="#8a2be8" stroke-width="2.5" stroke-linejoin="miter"/>
<polygon points="1333.1,881.1 1345.7,881.1 1339.4,871.1" fill="#fff" stroke="#8a2be8" stroke-width="2.5" stroke-linejoin="miter"/>
<polygon points="1449.7,906.4 1462.3,906.4 1456.0,896.4" fill="#fff" stroke="#8a2be8" stroke-width="2.5" stroke-linejoin="miter"/>
<rect x="1121.7" y="922.5" width="9.2" height="9.2" fill="#e8f4e0" stroke="#2a8a2a" stroke-width="2.4"/>
<rect x="1224.9" y="944.1" width="9.2" height="9.2" fill="#e8f4e0" stroke="#2a8a2a" stroke-width="2.4"/>
<rect x="1334.8" y="960.5" width="9.2" height="9.2" fill="#e8f4e0" stroke="#2a8a2a" stroke-width="2.4"/>
<rect x="1451.4" y="1001.8" width="9.2" height="9.2" fill="#e8f4e0" stroke="#2a8a2a" stroke-width="2.4"/>
<polygon points="1120.0,737.2 1132.6,737.2 1126.3,747.2" fill="#fff" stroke="#111" stroke-width="2.5" stroke-linejoin="miter"/>
<polygon points="1223.2,819.8 1235.8,819.8 1229.5,829.8" fill="#fff" stroke="#111" stroke-width="2.5" stroke-linejoin="miter"/>
<polygon points="1333.1,856.4 1345.7,856.4 1339.4,866.4" fill="#fff" stroke="#111" stroke-width="2.5" stroke-linejoin="miter"/>
<polygon points="1449.7,942.8 1462.3,942.8 1456.0,952.8" fill="#fff" stroke="#111" stroke-width="2.5" stroke-linejoin="miter"/>
<text x="0" y="0" font-size="20" fill="#111" transform="translate(1199.5 756.5) rotate(34)"><tspan>Cu NP/CN</tspan></text>
<text x="0" y="0" font-size="20" fill="#111" transform="translate(1185.5 776.9) rotate(34)"><tspan>68 kJ mol</tspan><tspan font-size="12.40" dy="-7.60">-1</tspan></text>
<text x="0" y="0" font-size="22.5" fill="#e82020" textLength="150" lengthAdjust="spacingAndGlyphs" transform="translate(1307.5 811.5) rotate(8)"><tspan>Cu-N</tspan><tspan font-size="13.95" dy="4.50">1</tspan><tspan dy="-4.50">O</tspan><tspan font-size="13.95" dy="4.50">2</tspan><tspan dy="-4.50"> SA/CN</tspan></text>
<text x="0" y="0" font-size="21.5" fill="#e82020" textLength="97" lengthAdjust="spacingAndGlyphs" transform="translate(1306.0 835.5) rotate(8)"><tspan>18 kJ mol</tspan><tspan font-size="13.33" dy="-8.17">-1</tspan></text>
<text x="0" y="0" font-size="22" fill="#b42ad8" font-style="italic" textLength="125" lengthAdjust="spacingAndGlyphs" transform="translate(1205.0 890.5) rotate(9)"><tspan>Cu-N</tspan><tspan font-size="13.64" dy="4.40">2</tspan><tspan dy="-4.40"> SA/CN</tspan></text>
<text x="0" y="0" font-size="22" fill="#b42ad8" font-style="italic" textLength="101" lengthAdjust="spacingAndGlyphs" transform="translate(1199.5 913.5) rotate(10)"><tspan>21 kJ mol</tspan><tspan font-size="13.64" dy="-8.36">-1</tspan></text>
<text x="0" y="0" font-size="21" fill="#3c9a3c" font-style="italic" textLength="236" lengthAdjust="spacingAndGlyphs" transform="translate(1139.0 945.5) rotate(13.5)"><tspan>Cu-N</tspan><tspan font-size="13.02" dy="4.20">3</tspan><tspan dy="-4.20"> SA/CN 30 kJ mol</tspan><tspan font-size="13.02" dy="-7.98">-1</tspan></text>
</svg></body></html>
